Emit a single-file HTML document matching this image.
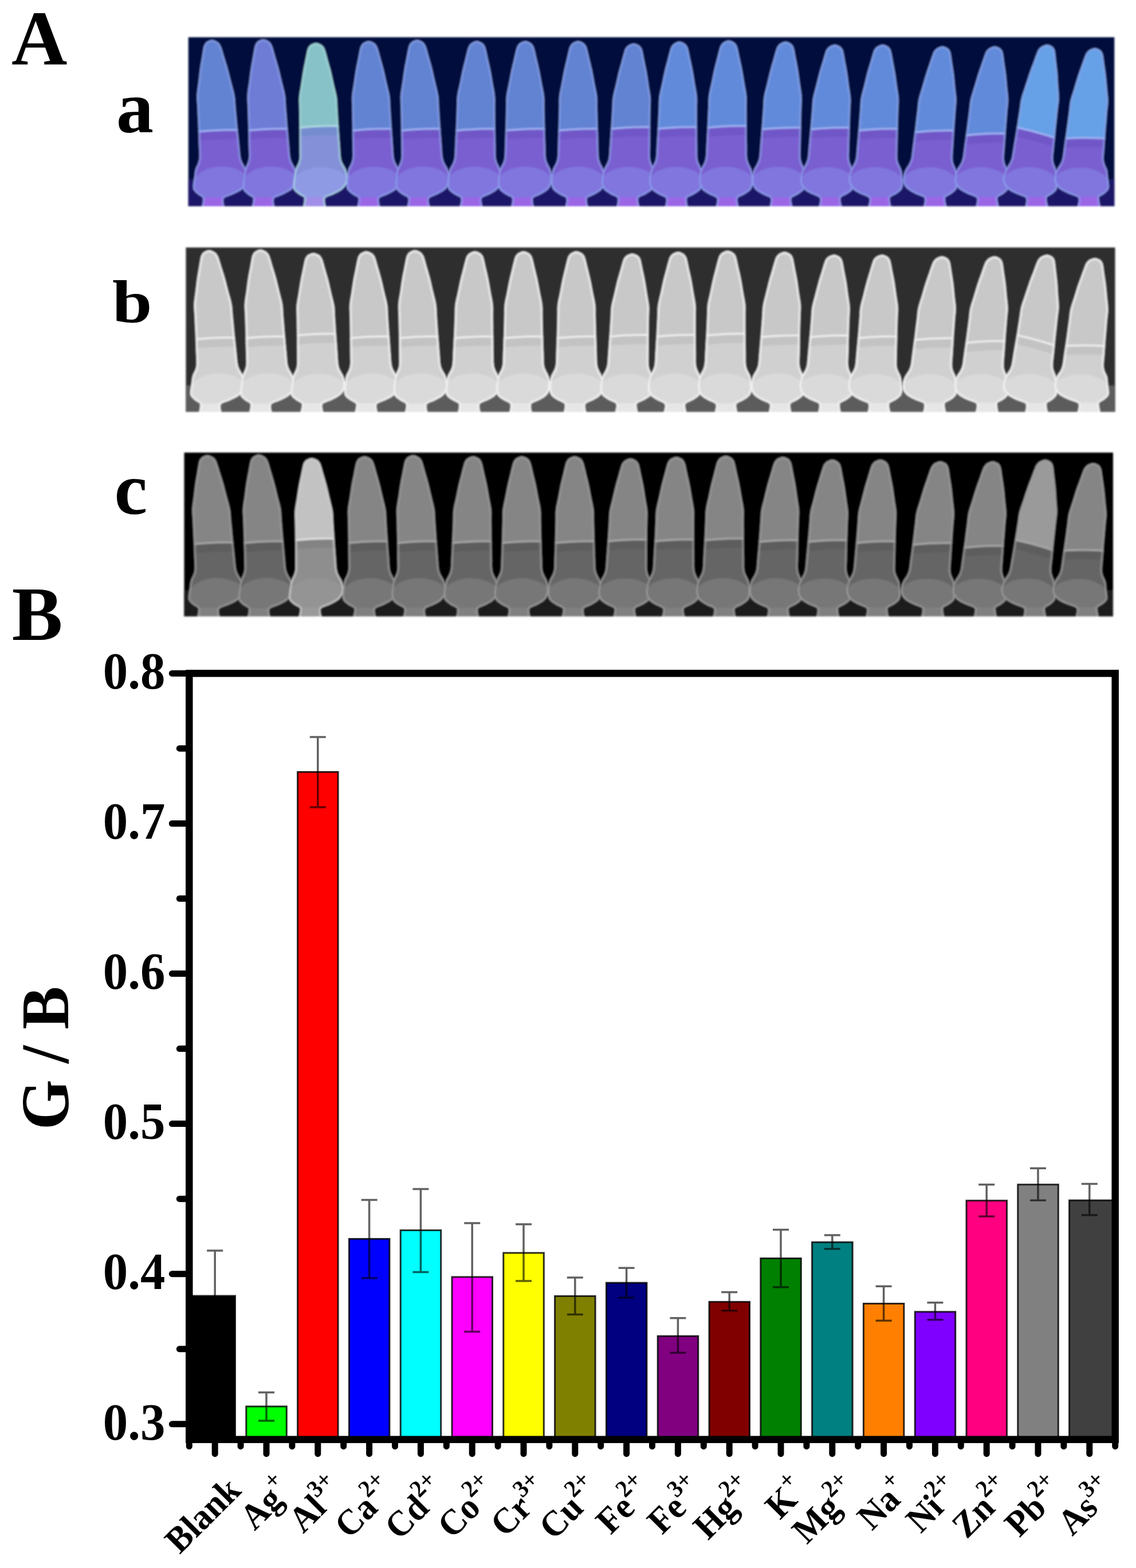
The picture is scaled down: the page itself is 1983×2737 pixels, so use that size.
<!DOCTYPE html>
<html><head><meta charset="utf-8"><title>Figure</title>
<style>
html,body{margin:0;padding:0;background:#fff;}
body{width:1983px;height:2737px;overflow:hidden;}
svg{display:block;}
text{font-family:"Liberation Serif","Times New Roman",serif;font-weight:bold;fill:#000;}
.pl{font-size:136px;}
.tl{font-size:91px;}
.yl{font-size:118px;}
.xl{font-size:63px;}
</style></head><body>
<svg width="1983" height="2737" viewBox="0 0 1983 2737">
<defs>
<filter id="soft" x="-2%" y="-2%" width="104%" height="104%"><feGaussianBlur stdDeviation="1.6"/></filter>
<clipPath id="clipa"><rect x="328.5" y="65" width="1617.0" height="295.0"/></clipPath>
<clipPath id="ta0"><path d="M369.9,70.1 C372.7,70.1 376.4,72.0 378.6,73.1 C380.8,74.3 381.7,75.5 382.9,77.2 C384.1,78.9 384.5,79.2 386.0,83.3 C387.5,87.5 389.8,95.9 391.7,102.1 C393.6,108.4 395.5,114.0 397.4,120.9 C399.3,127.9 401.3,136.2 403.2,143.8 C405.1,151.5 407.8,159.8 409.0,166.7 C410.3,173.6 410.2,179.2 410.7,185.4 C411.3,191.6 411.9,197.8 412.4,204.0 C413.0,210.2 413.6,216.7 414.1,222.7 C414.7,228.6 415.3,234.0 415.9,239.6 C416.4,245.3 417.0,250.9 417.6,256.6 C418.2,262.2 418.5,269.0 419.3,273.5 C420.1,278.1 420.9,280.0 422.5,283.7 C424.2,287.4 427.7,291.8 429.4,295.9 C431.1,300.0 432.5,304.1 432.7,308.1 C432.9,312.2 432.5,316.6 430.7,320.3 C428.9,324.1 425.8,327.4 421.9,330.5 C417.9,333.6 412.0,336.3 407.1,338.6 C402.1,341.0 395.0,342.7 392.0,344.7 C389.1,346.8 389.9,346.3 389.5,350.8 C389.1,355.4 395.3,368.6 389.5,372.2 C383.7,375.8 360.3,375.8 354.5,372.2 C348.7,368.6 354.6,355.4 354.5,350.8 C354.4,346.3 355.6,346.8 354.0,344.7 C352.5,342.7 347.8,341.0 345.1,338.6 C342.4,336.3 339.1,333.6 337.9,330.5 C336.6,327.4 337.4,324.1 337.7,320.3 C338.0,316.6 339.1,312.2 339.7,308.1 C340.3,304.1 340.2,300.0 341.4,295.9 C342.5,291.8 345.4,287.4 346.5,283.7 C347.7,280.0 348.1,278.1 348.3,273.5 C348.5,269.0 347.9,262.2 347.7,256.6 C347.5,250.9 347.3,245.3 347.1,239.6 C346.9,234.0 346.8,228.6 346.5,222.7 C346.3,216.7 346.0,210.2 345.7,204.0 C345.4,197.8 345.1,191.6 344.9,185.4 C344.6,179.2 343.7,173.6 344.0,166.7 C344.3,159.8 345.8,151.5 346.7,143.8 C347.6,136.2 348.4,127.9 349.4,120.9 C350.3,114.0 351.5,108.4 352.5,102.1 C353.5,95.9 354.7,87.5 355.6,83.3 C356.5,79.2 356.9,78.9 357.9,77.2 C358.9,75.5 359.6,74.3 361.6,73.1 C363.6,72.0 367.1,70.1 369.9,70.1 Z"/></clipPath>
<clipPath id="ta1"><path d="M459.4,69.1 C462.2,69.1 465.9,70.9 468.1,72.1 C470.2,73.3 471.1,74.5 472.3,76.2 C473.5,77.9 473.9,78.2 475.3,82.3 C476.7,86.5 478.9,94.9 480.7,101.2 C482.6,107.5 484.4,113.2 486.2,120.1 C488.0,127.1 489.8,135.5 491.7,143.1 C493.5,150.8 496.0,159.1 497.2,166.1 C498.3,173.0 498.1,178.6 498.6,184.8 C499.1,191.1 499.6,197.3 500.1,203.5 C500.5,209.8 501.0,216.3 501.5,222.3 C502.0,228.2 502.5,233.6 503.0,239.3 C503.5,245.0 504.0,250.6 504.5,256.3 C505.0,262.0 505.2,268.8 506.0,273.3 C506.7,277.9 507.4,279.8 509.0,283.6 C510.6,287.3 514.0,291.7 515.7,295.8 C517.3,299.9 518.6,304.0 518.8,308.1 C519.1,312.2 518.7,316.6 517.0,320.3 C515.3,324.1 512.4,327.5 508.6,330.5 C504.8,333.6 499.1,336.3 494.3,338.7 C489.4,341.1 482.5,342.8 479.6,344.8 C476.8,346.9 477.6,346.4 477.2,351.0 C476.8,355.5 483.0,368.7 477.2,372.3 C471.4,375.8 448.0,375.8 442.2,372.3 C436.4,368.7 442.3,355.5 442.2,351.0 C442.1,346.4 443.3,346.9 441.6,344.8 C440.0,342.8 435.1,341.1 432.3,338.7 C429.5,336.3 426.0,333.6 424.6,330.5 C423.3,327.5 423.8,324.1 424.0,320.3 C424.2,316.6 425.2,312.2 425.8,308.1 C426.5,304.0 426.5,299.9 427.7,295.8 C428.9,291.7 431.8,287.3 433.0,283.6 C434.2,279.8 434.7,277.9 435.0,273.3 C435.2,268.8 434.7,262.0 434.6,256.3 C434.5,250.6 434.4,245.0 434.3,239.3 C434.1,233.6 434.1,228.2 433.9,222.3 C433.7,216.3 433.5,209.8 433.3,203.5 C433.1,197.3 432.9,191.1 432.7,184.8 C432.5,178.6 431.8,173.0 432.2,166.1 C432.6,159.1 434.2,150.8 435.2,143.1 C436.2,135.5 437.1,127.1 438.2,120.1 C439.2,113.2 440.4,107.5 441.5,101.2 C442.7,94.9 444.0,86.5 444.9,82.3 C445.9,78.2 446.3,77.9 447.3,76.2 C448.3,74.5 449.1,73.3 451.1,72.1 C453.1,70.9 456.6,69.1 459.4,69.1 Z"/></clipPath>
<clipPath id="ta2"><path d="M551.5,75.2 C554.3,75.2 558.0,77.0 560.1,78.2 C562.2,79.3 563.1,80.5 564.3,82.1 C565.4,83.8 565.9,84.1 567.2,88.1 C568.5,92.2 570.6,100.4 572.3,106.6 C574.0,112.7 575.7,118.2 577.4,125.0 C579.0,131.8 580.7,140.0 582.4,147.4 C584.1,154.9 586.5,163.1 587.5,169.9 C588.5,176.6 588.2,182.0 588.6,188.1 C589.0,194.2 589.4,200.3 589.7,206.4 C590.1,212.5 590.4,218.9 590.8,224.7 C591.2,230.5 591.6,235.7 592.0,241.3 C592.4,246.8 592.8,252.4 593.2,257.9 C593.6,263.4 593.7,270.1 594.4,274.5 C595.0,278.9 595.7,280.8 597.2,284.5 C598.8,288.1 602.1,292.4 603.7,296.4 C605.2,300.4 606.4,304.4 606.6,308.4 C606.8,312.4 606.5,316.7 604.9,320.3 C603.3,324.0 600.6,327.3 597.0,330.3 C593.3,333.3 587.8,336.0 583.1,338.3 C578.4,340.6 571.5,342.3 568.8,344.3 C566.0,346.3 566.9,345.6 566.5,350.2 C566.1,354.9 572.3,368.3 566.5,372.0 C560.7,375.6 537.3,375.6 531.5,372.0 C525.7,368.3 531.6,354.9 531.5,350.2 C531.4,345.6 532.5,346.3 530.8,344.3 C529.0,342.3 524.0,340.6 521.1,338.3 C518.1,336.0 514.5,333.3 513.0,330.3 C511.4,327.3 511.8,324.0 511.9,320.3 C512.0,316.7 513.0,312.4 513.6,308.4 C514.3,304.4 514.4,300.4 515.7,296.4 C516.9,292.4 520.0,288.1 521.2,284.5 C522.5,280.8 523.0,278.9 523.4,274.5 C523.7,270.1 523.3,263.4 523.3,257.9 C523.3,252.4 523.3,246.8 523.3,241.3 C523.3,235.7 523.3,230.5 523.2,224.7 C523.2,218.9 523.1,212.5 523.0,206.4 C522.9,200.3 522.8,194.2 522.7,188.1 C522.7,182.0 522.0,176.6 522.5,169.9 C523.0,163.1 524.8,154.9 525.9,147.4 C527.1,140.0 528.2,131.8 529.4,125.0 C530.5,118.2 531.8,112.7 533.1,106.6 C534.3,100.4 535.8,92.2 536.8,88.1 C537.8,84.1 538.2,83.8 539.3,82.1 C540.3,80.5 541.1,79.3 543.1,78.2 C545.2,77.0 548.7,75.2 551.5,75.2 Z"/></clipPath>
<clipPath id="ta3"><path d="M643.5,72.1 C646.4,72.1 650.0,74.0 652.1,75.1 C654.3,76.3 655.1,77.5 656.3,79.2 C657.5,80.9 657.9,81.1 659.2,85.2 C660.6,89.4 662.7,97.7 664.4,103.9 C666.1,110.1 667.8,115.7 669.5,122.6 C671.2,129.5 672.9,137.7 674.6,145.3 C676.3,152.8 678.7,161.1 679.8,168.0 C680.8,174.8 680.5,180.3 680.9,186.5 C681.3,192.6 681.7,198.8 682.1,205.0 C682.5,211.1 682.8,217.6 683.2,223.5 C683.6,229.4 684.1,234.7 684.5,240.3 C684.9,245.9 685.3,251.5 685.7,257.1 C686.1,262.7 686.2,269.4 686.9,273.9 C687.6,278.4 688.2,280.3 689.8,284.0 C691.4,287.7 694.7,292.1 696.3,296.1 C697.9,300.2 699.0,304.2 699.3,308.2 C699.5,312.3 699.4,316.6 697.9,320.3 C696.5,324.0 694.0,327.4 690.6,330.4 C687.1,333.5 681.7,336.1 677.1,338.5 C672.6,340.9 665.9,342.5 663.2,344.6 C660.5,346.6 661.4,346.0 661.0,350.6 C660.7,355.2 666.9,368.5 661.0,372.1 C655.2,375.7 631.9,375.7 626.0,372.1 C620.2,368.5 626.2,355.2 626.0,350.6 C625.9,346.0 627.0,346.6 625.2,344.6 C623.4,342.5 618.2,340.9 615.1,338.5 C612.0,336.1 608.3,333.5 606.6,330.4 C604.9,327.4 605.0,324.0 604.9,320.3 C604.9,316.6 605.7,312.3 606.3,308.2 C606.8,304.2 607.0,300.2 608.3,296.1 C609.5,292.1 612.5,287.7 613.8,284.0 C615.1,280.3 615.6,278.4 615.9,273.9 C616.2,269.4 615.9,262.7 615.8,257.1 C615.8,251.5 615.8,245.9 615.7,240.3 C615.7,234.7 615.7,229.4 615.6,223.5 C615.6,217.6 615.4,211.1 615.3,205.0 C615.3,198.8 615.2,192.6 615.1,186.5 C615.0,180.3 614.3,174.8 614.8,168.0 C615.3,161.1 617.0,152.8 618.1,145.3 C619.3,137.7 620.3,129.5 621.5,122.6 C622.7,115.7 623.9,110.1 625.2,103.9 C626.4,97.7 627.8,89.4 628.8,85.2 C629.9,81.1 630.2,80.9 631.3,79.2 C632.3,77.5 633.1,76.3 635.1,75.1 C637.2,74.0 640.7,72.1 643.5,72.1 Z"/></clipPath>
<clipPath id="ta4"><path d="M728.0,70.1 C730.9,70.1 734.5,72.0 736.7,73.1 C738.8,74.3 739.6,75.5 740.8,77.2 C742.0,78.9 742.4,79.2 743.8,83.3 C745.1,87.5 747.2,95.9 749.0,102.1 C750.7,108.4 752.4,114.0 754.2,120.9 C755.9,127.9 757.6,136.2 759.4,143.8 C761.1,151.5 763.5,159.8 764.6,166.7 C765.7,173.6 765.4,179.2 765.8,185.4 C766.2,191.6 766.6,197.8 767.0,204.0 C767.4,210.2 767.8,216.7 768.2,222.7 C768.7,228.6 769.1,234.0 769.5,239.6 C769.9,245.3 770.4,250.9 770.8,256.6 C771.2,262.2 771.4,269.0 772.1,273.5 C772.8,278.1 773.4,280.0 775.0,283.7 C776.6,287.4 779.9,291.8 781.5,295.9 C783.1,300.0 784.2,304.1 784.5,308.1 C784.9,312.2 784.8,316.6 783.5,320.3 C782.2,324.1 780.1,327.4 776.7,330.5 C773.4,333.6 768.2,336.3 763.7,338.6 C759.3,341.0 752.7,342.7 750.1,344.7 C747.5,346.8 748.4,346.3 748.0,350.8 C747.7,355.4 753.9,368.6 748.0,372.2 C742.2,375.8 718.9,375.8 713.0,372.2 C707.2,368.6 713.2,355.4 713.0,350.8 C712.9,346.3 714.0,346.8 712.1,344.7 C710.2,342.7 704.9,341.0 701.7,338.6 C698.5,336.3 694.6,333.6 692.7,330.5 C690.9,327.4 690.7,324.1 690.5,320.3 C690.3,316.6 691.0,312.2 691.5,308.1 C692.0,304.1 692.3,300.0 693.5,295.9 C694.8,291.8 697.7,287.4 699.0,283.7 C700.3,280.0 700.8,278.1 701.1,273.5 C701.4,269.0 701.0,262.2 700.9,256.6 C700.9,250.9 700.8,245.3 700.8,239.6 C700.7,234.0 700.7,228.6 700.6,222.7 C700.6,216.7 700.4,210.2 700.3,204.0 C700.2,197.8 700.1,191.6 699.9,185.4 C699.8,179.2 699.1,173.6 699.6,166.7 C700.1,159.8 701.8,151.5 702.9,143.8 C704.0,136.2 705.0,127.9 706.2,120.9 C707.3,114.0 708.6,108.4 709.8,102.1 C711.0,95.9 712.4,87.5 713.4,83.3 C714.4,79.2 714.8,78.9 715.8,77.2 C716.9,75.5 717.6,74.3 719.7,73.1 C721.7,72.0 725.2,70.1 728.0,70.1 Z"/></clipPath>
<clipPath id="ta5"><path d="M832.5,72.1 C835.4,72.1 838.9,74.0 841.0,75.1 C843.0,76.3 843.8,77.5 844.9,79.2 C846.0,80.9 846.4,81.1 847.5,85.2 C848.6,89.4 850.3,97.7 851.6,103.9 C853.0,110.1 854.4,115.7 855.8,122.6 C857.1,129.5 858.4,137.7 859.7,145.3 C861.0,152.8 862.9,161.1 863.5,168.0 C864.2,174.8 863.6,180.3 863.7,186.5 C863.7,192.6 863.8,198.8 863.8,205.0 C863.9,211.1 863.9,217.6 864.0,223.5 C864.1,229.4 864.2,234.7 864.3,240.3 C864.4,245.9 864.5,251.5 864.6,257.1 C864.7,262.7 864.5,269.4 864.9,273.9 C865.4,278.4 865.9,280.3 867.3,284.0 C868.6,287.7 871.7,292.1 873.1,296.1 C874.4,300.2 875.2,304.2 875.4,308.2 C875.5,312.3 875.3,316.6 874.0,320.3 C872.7,324.0 870.7,327.4 867.5,330.4 C864.4,333.5 859.3,336.1 855.0,338.5 C850.7,340.9 844.4,342.5 841.9,344.6 C839.4,346.6 840.3,346.0 840.0,350.6 C839.7,355.2 845.9,368.5 840.0,372.1 C834.2,375.7 810.9,375.7 805.0,372.1 C799.2,368.5 805.2,355.2 805.0,350.6 C804.8,346.0 805.9,346.6 803.9,344.6 C801.9,342.5 796.4,340.9 793.0,338.5 C789.6,336.1 785.5,333.5 783.5,330.4 C781.5,327.4 781.2,324.0 781.0,320.3 C780.8,316.6 781.7,312.3 782.4,308.2 C783.1,304.2 783.6,300.2 785.1,296.1 C786.6,292.1 789.8,287.7 791.3,284.0 C792.7,280.3 793.3,278.4 793.9,273.9 C794.5,269.4 794.5,262.7 794.7,257.1 C795.0,251.5 795.3,245.9 795.6,240.3 C795.8,234.7 796.1,229.4 796.4,223.5 C796.7,217.6 796.9,211.1 797.1,205.0 C797.4,198.8 797.6,192.6 797.8,186.5 C798.1,180.3 797.7,174.8 798.5,168.0 C799.4,161.1 801.6,152.8 803.2,145.3 C804.7,137.7 806.2,129.5 807.8,122.6 C809.3,115.7 810.9,110.1 812.4,103.9 C814.0,97.7 815.9,89.4 817.1,85.2 C818.4,81.1 818.8,80.9 819.9,79.2 C821.1,77.5 821.9,76.3 824.0,75.1 C826.1,74.0 829.7,72.1 832.5,72.1 Z"/></clipPath>
<clipPath id="ta6"><path d="M917.1,72.1 C920.0,72.1 923.5,74.0 925.6,75.1 C927.7,76.3 928.5,77.5 929.6,79.2 C930.7,80.9 931.1,81.1 932.3,85.2 C933.5,89.4 935.2,97.7 936.7,103.9 C938.1,110.1 939.6,115.7 941.0,122.6 C942.4,129.5 943.8,137.7 945.2,145.3 C946.6,152.8 948.7,161.1 949.4,168.0 C950.2,174.8 949.7,180.3 949.8,186.5 C949.9,192.6 950.1,198.8 950.2,205.0 C950.3,211.1 950.4,217.6 950.6,223.5 C950.7,229.4 950.9,234.7 951.1,240.3 C951.3,245.9 951.5,251.5 951.6,257.1 C951.8,262.7 951.7,269.4 952.2,273.9 C952.7,278.4 953.2,280.3 954.7,284.0 C956.1,287.7 959.2,292.1 960.6,296.1 C962.0,300.2 962.8,304.2 963.1,308.2 C963.4,312.3 963.4,316.6 962.2,320.3 C961.1,324.0 959.3,327.4 956.3,330.4 C953.3,333.5 948.4,336.1 944.2,338.5 C940.1,340.9 933.8,342.5 931.4,344.6 C929.0,346.6 929.9,346.0 929.6,350.6 C929.3,355.2 935.5,368.5 929.6,372.1 C923.8,375.7 900.5,375.7 894.6,372.1 C888.8,368.5 894.8,355.2 894.6,350.6 C894.4,346.0 895.5,346.6 893.4,344.6 C891.3,342.5 885.7,340.9 882.2,338.5 C878.7,336.1 874.5,333.5 872.3,330.4 C870.2,327.4 869.6,324.0 869.2,320.3 C868.9,316.6 869.5,312.3 870.1,308.2 C870.7,304.2 871.2,300.2 872.6,296.1 C874.1,292.1 877.2,287.7 878.7,284.0 C880.1,280.3 880.7,278.4 881.2,273.9 C881.7,269.4 881.6,262.7 881.8,257.1 C882.0,251.5 882.2,245.9 882.4,240.3 C882.6,234.7 882.8,229.4 883.0,223.5 C883.2,217.6 883.3,211.1 883.5,205.0 C883.6,198.8 883.8,192.6 883.9,186.5 C884.1,180.3 883.6,174.8 884.4,168.0 C885.2,161.1 887.3,152.8 888.7,145.3 C890.2,137.7 891.6,129.5 893.0,122.6 C894.5,115.7 896.0,110.1 897.5,103.9 C898.9,97.7 900.7,89.4 901.9,85.2 C903.1,81.1 903.5,80.9 904.6,79.2 C905.7,77.5 906.5,76.3 908.6,75.1 C910.7,74.0 914.3,72.1 917.1,72.1 Z"/></clipPath>
<clipPath id="ta7"><path d="M1009.1,72.1 C1012.0,72.1 1015.6,74.0 1017.6,75.1 C1019.7,76.3 1020.5,77.5 1021.6,79.2 C1022.8,80.9 1023.2,81.1 1024.3,85.2 C1025.5,89.4 1027.3,97.7 1028.8,103.9 C1030.2,110.1 1031.7,115.7 1033.2,122.6 C1034.6,129.5 1036.0,137.7 1037.4,145.3 C1038.8,152.8 1040.9,161.1 1041.7,168.0 C1042.5,174.8 1042.0,180.3 1042.1,186.5 C1042.3,192.6 1042.4,198.8 1042.6,205.0 C1042.7,211.1 1042.8,217.6 1043.0,223.5 C1043.2,229.4 1043.4,234.7 1043.6,240.3 C1043.8,245.9 1044.0,251.5 1044.1,257.1 C1044.3,262.7 1044.2,269.4 1044.7,273.9 C1045.2,278.4 1045.8,280.3 1047.2,284.0 C1048.6,287.7 1051.8,292.1 1053.2,296.1 C1054.6,300.2 1055.4,304.2 1055.7,308.2 C1056.1,312.3 1056.2,316.6 1055.3,320.3 C1054.3,324.0 1052.8,327.4 1049.9,330.4 C1047.1,333.5 1042.3,336.1 1038.3,338.5 C1034.3,340.9 1028.2,342.5 1025.8,344.6 C1023.4,346.6 1024.4,346.0 1024.1,350.6 C1023.9,355.2 1030.0,368.5 1024.1,372.1 C1018.3,375.7 995.0,375.7 989.1,372.1 C983.3,368.5 989.4,355.2 989.1,350.6 C988.9,346.0 989.9,346.6 987.8,344.6 C985.7,342.5 979.9,340.9 976.3,338.5 C972.6,336.1 968.3,333.5 965.9,330.4 C963.6,327.4 962.8,324.0 962.3,320.3 C961.7,316.6 962.2,312.3 962.7,308.2 C963.2,304.2 963.8,300.2 965.2,296.1 C966.6,292.1 969.8,287.7 971.2,284.0 C972.6,280.3 973.2,278.4 973.7,273.9 C974.2,269.4 974.1,262.7 974.3,257.1 C974.5,251.5 974.7,245.9 974.8,240.3 C975.0,234.7 975.2,229.4 975.4,223.5 C975.6,217.6 975.7,211.1 975.8,205.0 C976.0,198.8 976.1,192.6 976.3,186.5 C976.4,180.3 975.9,174.8 976.7,168.0 C977.5,161.1 979.5,152.8 980.9,145.3 C982.3,137.7 983.7,129.5 985.2,122.6 C986.6,115.7 988.1,110.1 989.6,103.9 C991.0,97.7 992.8,89.4 993.9,85.2 C995.1,81.1 995.5,80.9 996.6,79.2 C997.8,77.5 998.6,76.3 1000.6,75.1 C1002.7,74.0 1006.3,72.1 1009.1,72.1 Z"/></clipPath>
<clipPath id="ta8"><path d="M1106.2,76.2 C1109.1,76.2 1112.6,78.0 1114.6,79.2 C1116.7,80.3 1117.4,81.5 1118.5,83.1 C1119.5,84.8 1119.9,85.0 1121.0,89.1 C1122.0,93.1 1123.4,101.3 1124.7,107.5 C1125.9,113.6 1127.2,119.0 1128.4,125.8 C1129.6,132.6 1130.7,140.7 1131.8,148.1 C1132.9,155.6 1134.7,163.7 1135.2,170.5 C1135.7,177.2 1135.0,182.6 1134.9,188.7 C1134.9,194.7 1134.8,200.8 1134.7,206.9 C1134.6,212.9 1134.5,219.3 1134.4,225.1 C1134.4,230.9 1134.4,236.1 1134.4,241.6 C1134.4,247.1 1134.4,252.6 1134.3,258.2 C1134.3,263.7 1133.9,270.3 1134.3,274.7 C1134.6,279.1 1135.1,281.0 1136.4,284.6 C1137.7,288.3 1140.7,292.6 1142.0,296.5 C1143.2,300.5 1143.8,304.5 1144.0,308.4 C1144.3,312.4 1144.3,316.7 1143.4,320.4 C1142.5,324.0 1141.2,327.3 1138.5,330.3 C1135.8,333.3 1131.2,335.9 1127.3,338.2 C1123.4,340.5 1117.5,342.2 1115.2,344.2 C1113.0,346.2 1114.0,345.5 1113.7,350.1 C1113.5,354.8 1119.6,368.3 1113.7,371.9 C1107.9,375.5 1084.6,375.5 1078.7,371.9 C1072.9,368.3 1079.0,354.8 1078.7,350.1 C1078.5,345.5 1079.5,346.2 1077.2,344.2 C1075.0,342.2 1069.1,340.5 1065.3,338.2 C1061.5,335.9 1056.9,333.3 1054.5,330.3 C1052.0,327.3 1051.0,324.0 1050.4,320.4 C1049.8,316.7 1050.4,312.4 1051.0,308.4 C1051.6,304.5 1052.4,300.5 1054.0,296.5 C1055.5,292.6 1058.9,288.3 1060.4,284.6 C1062.0,281.0 1062.6,279.1 1063.3,274.7 C1064.0,270.3 1064.1,263.7 1064.5,258.2 C1064.9,252.6 1065.3,247.1 1065.7,241.6 C1066.1,236.1 1066.5,230.9 1066.8,225.1 C1067.2,219.3 1067.6,212.9 1068.0,206.9 C1068.3,200.8 1068.7,194.7 1069.1,188.7 C1069.5,182.6 1069.2,177.2 1070.2,170.5 C1071.2,163.7 1073.6,155.6 1075.3,148.1 C1077.0,140.7 1078.7,132.6 1080.4,125.8 C1082.1,119.0 1083.8,113.6 1085.5,107.5 C1087.2,101.3 1089.2,93.1 1090.6,89.1 C1091.9,85.0 1092.3,84.8 1093.5,83.1 C1094.7,81.5 1095.5,80.3 1097.6,79.2 C1099.8,78.0 1103.4,76.2 1106.2,76.2 Z"/></clipPath>
<clipPath id="ta9"><path d="M1186.1,73.1 C1188.9,73.1 1192.4,75.0 1194.5,76.2 C1196.5,77.3 1197.3,78.5 1198.4,80.2 C1199.5,81.8 1199.9,82.1 1200.9,86.2 C1202.0,90.3 1203.6,98.6 1204.9,104.8 C1206.2,111.0 1207.6,116.5 1208.8,123.4 C1210.1,130.2 1211.3,138.5 1212.5,146.0 C1213.8,153.5 1215.6,161.8 1216.2,168.6 C1216.8,175.4 1216.2,180.9 1216.2,187.0 C1216.2,193.2 1216.2,199.3 1216.2,205.4 C1216.2,211.6 1216.2,218.0 1216.2,223.9 C1216.2,229.7 1216.3,235.0 1216.3,240.6 C1216.4,246.2 1216.4,251.8 1216.5,257.4 C1216.6,262.9 1216.3,269.6 1216.7,274.1 C1217.1,278.6 1217.6,280.5 1218.9,284.2 C1220.2,287.8 1223.3,292.2 1224.6,296.2 C1225.9,300.2 1226.5,304.3 1226.8,308.3 C1227.2,312.3 1227.4,316.7 1226.7,320.3 C1225.9,324.0 1224.8,327.4 1222.3,330.4 C1219.8,333.4 1215.3,336.1 1211.5,338.4 C1207.8,340.8 1202.0,342.4 1199.8,344.5 C1197.6,346.5 1198.6,345.9 1198.4,350.5 C1198.1,355.1 1204.2,368.5 1198.4,372.1 C1192.5,375.7 1169.2,375.7 1163.4,372.1 C1157.5,368.5 1163.6,355.1 1163.4,350.5 C1163.1,345.9 1164.1,346.5 1161.8,344.5 C1159.5,342.4 1153.4,340.8 1149.5,338.4 C1145.6,336.1 1141.0,333.4 1138.3,330.4 C1135.7,327.4 1134.4,324.0 1133.7,320.3 C1132.9,316.7 1133.3,312.3 1133.8,308.3 C1134.3,304.3 1135.1,300.2 1136.6,296.2 C1138.1,292.2 1141.4,287.8 1142.9,284.2 C1144.4,280.5 1145.0,278.6 1145.7,274.1 C1146.3,269.6 1146.3,262.9 1146.6,257.4 C1147.0,251.8 1147.3,246.2 1147.6,240.6 C1147.9,235.0 1148.3,229.7 1148.6,223.9 C1148.9,218.0 1149.2,211.6 1149.5,205.4 C1149.8,199.3 1150.1,193.2 1150.3,187.0 C1150.6,180.9 1150.3,175.4 1151.2,168.6 C1152.2,161.8 1154.4,153.5 1156.0,146.0 C1157.6,138.5 1159.2,130.2 1160.8,123.4 C1162.4,116.5 1164.1,111.0 1165.7,104.8 C1167.3,98.6 1169.3,90.3 1170.5,86.2 C1171.8,82.1 1172.2,81.8 1173.4,80.2 C1174.5,78.5 1175.4,77.3 1177.5,76.2 C1179.6,75.0 1183.2,73.1 1186.1,73.1 Z"/></clipPath>
<clipPath id="ta10"><path d="M1272.2,71.1 C1275.0,71.1 1278.5,73.0 1280.6,74.1 C1282.7,75.3 1283.4,76.5 1284.5,78.2 C1285.6,79.9 1286.0,80.1 1287.1,84.3 C1288.2,88.4 1289.8,96.8 1291.1,103.0 C1292.4,109.3 1293.8,114.8 1295.1,121.8 C1296.4,128.7 1297.6,137.0 1298.9,144.6 C1300.2,152.2 1302.0,160.5 1302.7,167.4 C1303.3,174.2 1302.7,179.7 1302.7,185.9 C1302.7,192.1 1302.8,198.3 1302.8,204.5 C1302.8,210.7 1302.8,217.2 1302.8,223.1 C1302.9,229.0 1303.0,234.3 1303.0,240.0 C1303.1,245.6 1303.2,251.2 1303.3,256.8 C1303.3,262.5 1303.1,269.2 1303.5,273.7 C1303.9,278.2 1304.4,280.1 1305.8,283.9 C1307.1,287.6 1310.2,292.0 1311.5,296.0 C1312.8,300.1 1313.4,304.1 1313.8,308.2 C1314.2,312.2 1314.6,316.6 1314.0,320.3 C1313.4,324.0 1312.5,327.4 1310.2,330.5 C1307.8,333.5 1303.5,336.2 1299.8,338.6 C1296.2,340.9 1290.5,342.6 1288.4,344.6 C1286.2,346.7 1287.3,346.1 1287.1,350.7 C1286.8,355.3 1292.9,368.6 1287.1,372.2 C1281.2,375.7 1257.9,375.7 1252.1,372.2 C1246.2,368.6 1252.3,355.3 1252.1,350.7 C1251.8,346.1 1252.7,346.7 1250.4,344.6 C1248.0,342.6 1241.9,340.9 1237.8,338.6 C1233.8,336.2 1229.0,333.5 1226.2,330.5 C1223.4,327.4 1221.9,324.0 1221.0,320.3 C1220.1,316.6 1220.3,312.2 1220.8,308.2 C1221.2,304.1 1222.0,300.1 1223.5,296.0 C1225.0,292.0 1228.3,287.6 1229.8,283.9 C1231.3,280.1 1231.9,278.2 1232.5,273.7 C1233.1,269.2 1233.1,262.5 1233.4,256.8 C1233.7,251.2 1234.0,245.6 1234.3,240.0 C1234.6,234.3 1234.9,229.0 1235.2,223.1 C1235.5,217.2 1235.8,210.7 1236.0,204.5 C1236.3,198.3 1236.6,192.1 1236.9,185.9 C1237.1,179.7 1236.7,174.2 1237.7,167.4 C1238.6,160.5 1240.8,152.2 1242.4,144.6 C1244.0,137.0 1245.5,128.7 1247.1,121.8 C1248.7,114.8 1250.3,109.3 1251.9,103.0 C1253.5,96.8 1255.4,88.4 1256.7,84.3 C1258.0,80.1 1258.4,79.9 1259.5,78.2 C1260.7,76.5 1261.5,75.3 1263.6,74.1 C1265.7,73.0 1269.3,71.1 1272.2,71.1 Z"/></clipPath>
<clipPath id="ta11"><path d="M1371.4,73.1 C1374.2,73.1 1377.7,75.0 1379.7,76.2 C1381.7,77.3 1382.5,78.5 1383.5,80.2 C1384.5,81.8 1384.9,82.1 1385.9,86.2 C1386.9,90.3 1388.2,98.6 1389.4,104.8 C1390.5,111.0 1391.8,116.5 1392.9,123.4 C1394.0,130.2 1394.9,138.5 1396.0,146.0 C1397.0,153.5 1398.7,161.8 1399.1,168.6 C1399.6,175.4 1398.8,180.9 1398.6,187.0 C1398.5,193.2 1398.3,199.3 1398.1,205.4 C1398.0,211.6 1397.8,218.0 1397.7,223.9 C1397.5,229.7 1397.5,235.0 1397.4,240.6 C1397.3,246.2 1397.2,251.8 1397.1,257.4 C1397.0,262.9 1396.6,269.6 1396.9,274.1 C1397.2,278.6 1397.6,280.5 1398.9,284.2 C1400.1,287.8 1403.0,292.2 1404.3,296.2 C1405.5,300.2 1405.8,304.3 1406.2,308.3 C1406.5,312.3 1406.9,316.7 1406.4,320.3 C1405.9,324.0 1405.2,327.4 1403.0,330.4 C1400.8,333.4 1396.6,336.1 1393.1,338.4 C1389.7,340.8 1384.1,342.4 1382.1,344.5 C1380.1,346.5 1381.2,345.9 1381.0,350.5 C1380.8,355.1 1386.8,368.5 1381.0,372.1 C1375.1,375.7 1351.8,375.7 1346.0,372.1 C1340.1,368.5 1346.3,355.1 1346.0,350.5 C1345.7,345.9 1346.6,346.5 1344.1,344.5 C1341.6,342.4 1335.3,340.8 1331.1,338.4 C1327.0,336.1 1322.0,333.4 1319.0,330.4 C1316.1,327.4 1314.4,324.0 1313.4,320.3 C1312.4,316.7 1312.7,312.3 1313.2,308.3 C1313.6,304.3 1314.6,300.2 1316.3,296.2 C1317.9,292.2 1321.3,287.8 1322.9,284.2 C1324.5,280.5 1325.1,278.6 1325.9,274.1 C1326.6,269.6 1326.8,262.9 1327.3,257.4 C1327.7,251.8 1328.2,246.2 1328.7,240.6 C1329.1,235.0 1329.6,229.7 1330.1,223.9 C1330.5,218.0 1331.0,211.6 1331.4,205.4 C1331.9,199.3 1332.3,193.2 1332.8,187.0 C1333.2,180.9 1333.0,175.4 1334.1,168.6 C1335.2,161.8 1337.7,153.5 1339.5,146.0 C1341.3,138.5 1343.1,130.2 1344.9,123.4 C1346.6,116.5 1348.4,111.0 1350.2,104.8 C1352.0,98.6 1354.1,90.3 1355.5,86.2 C1356.9,82.1 1357.3,81.8 1358.5,80.2 C1359.7,78.5 1360.6,77.3 1362.7,76.2 C1364.9,75.0 1368.5,73.1 1371.4,73.1 Z"/></clipPath>
<clipPath id="ta12"><path d="M1457.4,78.2 C1460.2,78.2 1463.7,80.0 1465.7,81.2 C1467.7,82.3 1468.5,83.5 1469.5,85.1 C1470.5,86.8 1470.9,87.0 1471.8,91.0 C1472.8,95.0 1474.1,103.2 1475.2,109.2 C1476.3,115.3 1477.5,120.7 1478.5,127.4 C1479.6,134.2 1480.5,142.2 1481.5,149.6 C1482.5,157.0 1484.1,165.0 1484.5,171.7 C1484.9,178.4 1484.1,183.8 1483.9,189.8 C1483.7,195.8 1483.5,201.8 1483.3,207.8 C1483.0,213.8 1482.8,220.1 1482.6,225.9 C1482.5,231.6 1482.4,236.8 1482.3,242.3 C1482.1,247.7 1482.0,253.2 1481.9,258.7 C1481.8,264.1 1481.2,270.7 1481.5,275.1 C1481.8,279.5 1482.2,281.3 1483.4,284.9 C1484.6,288.5 1487.6,292.8 1488.7,296.7 C1489.9,300.7 1490.2,304.6 1490.6,308.5 C1490.9,312.5 1491.4,316.8 1491.0,320.4 C1490.6,324.0 1490.2,327.3 1488.1,330.2 C1486.1,333.2 1482.0,335.8 1478.7,338.1 C1475.3,340.4 1470.0,342.0 1468.0,344.0 C1466.1,346.0 1467.1,345.3 1467.0,349.9 C1466.8,354.5 1472.8,368.2 1467.0,371.8 C1461.1,375.5 1437.8,375.5 1432.0,371.8 C1426.1,368.2 1432.3,354.5 1432.0,349.9 C1431.6,345.3 1432.6,346.0 1430.0,344.0 C1427.5,342.0 1421.0,340.4 1416.7,338.1 C1412.4,335.8 1407.3,333.2 1404.1,330.2 C1401.0,327.3 1399.1,324.0 1398.0,320.4 C1396.9,316.8 1397.1,312.5 1397.6,308.5 C1398.0,304.6 1399.1,300.7 1400.7,296.7 C1402.4,292.8 1405.8,288.5 1407.4,284.9 C1409.1,281.3 1409.7,279.5 1410.5,275.1 C1411.3,270.7 1411.5,264.1 1412.0,258.7 C1412.5,253.2 1413.0,247.7 1413.5,242.3 C1414.0,236.8 1414.5,231.6 1415.0,225.9 C1415.5,220.1 1416.0,213.8 1416.5,207.8 C1417.0,201.8 1417.5,195.8 1418.0,189.8 C1418.5,183.8 1418.3,178.4 1419.5,171.7 C1420.6,165.0 1423.2,157.0 1425.0,149.6 C1426.8,142.2 1428.7,134.2 1430.5,127.4 C1432.4,120.7 1434.2,115.3 1436.0,109.2 C1437.8,103.2 1440.0,95.0 1441.4,91.0 C1442.8,87.0 1443.3,86.8 1444.5,85.1 C1445.7,83.5 1446.6,82.3 1448.7,81.2 C1450.8,80.0 1454.5,78.2 1457.4,78.2 Z"/></clipPath>
<clipPath id="ta13"><path d="M1540.9,78.2 C1543.7,78.2 1547.2,80.0 1549.2,81.2 C1551.2,82.3 1552.0,83.5 1553.0,85.1 C1554.0,86.8 1554.4,87.0 1555.4,91.0 C1556.4,95.0 1557.7,103.2 1558.8,109.2 C1559.9,115.3 1561.1,120.7 1562.2,127.4 C1563.3,134.2 1564.3,142.2 1565.3,149.6 C1566.3,157.0 1567.9,165.0 1568.3,171.7 C1568.8,178.4 1568.0,183.8 1567.8,189.8 C1567.6,195.8 1567.4,201.8 1567.3,207.8 C1567.1,213.8 1566.9,220.1 1566.7,225.9 C1566.6,231.6 1566.5,236.8 1566.4,242.3 C1566.3,247.7 1566.2,253.2 1566.1,258.7 C1566.0,264.1 1565.5,270.7 1565.8,275.1 C1566.0,279.5 1566.5,281.3 1567.7,284.9 C1569.0,288.5 1571.9,292.8 1573.1,296.7 C1574.3,300.7 1574.5,304.6 1575.0,308.5 C1575.4,312.5 1576.0,316.8 1575.8,320.4 C1575.5,324.0 1575.3,327.3 1573.4,330.2 C1571.5,333.2 1567.6,335.8 1564.4,338.1 C1561.2,340.4 1555.9,342.0 1554.0,344.0 C1552.1,346.0 1553.2,345.3 1553.1,349.9 C1552.9,354.5 1558.9,368.2 1553.1,371.8 C1547.2,375.5 1523.9,375.5 1518.1,371.8 C1512.2,368.2 1518.4,354.5 1518.1,349.9 C1517.7,345.3 1518.6,346.0 1516.0,344.0 C1513.4,342.0 1506.8,340.4 1502.4,338.1 C1498.0,335.8 1492.7,333.2 1489.4,330.2 C1486.2,327.3 1484.0,324.0 1482.8,320.4 C1481.5,316.8 1481.6,312.5 1482.0,308.5 C1482.3,304.6 1483.5,300.7 1485.1,296.7 C1486.7,292.8 1490.1,288.5 1491.7,284.9 C1493.3,281.3 1494.0,279.5 1494.8,275.1 C1495.5,270.7 1495.7,264.1 1496.2,258.7 C1496.7,253.2 1497.2,247.7 1497.7,242.3 C1498.1,236.8 1498.6,231.6 1499.1,225.9 C1499.6,220.1 1500.1,213.8 1500.5,207.8 C1501.0,201.8 1501.5,195.8 1501.9,189.8 C1502.4,183.8 1502.2,178.4 1503.3,171.7 C1504.5,165.0 1507.0,157.0 1508.8,149.6 C1510.6,142.2 1512.4,134.2 1514.2,127.4 C1516.0,120.7 1517.8,115.3 1519.6,109.2 C1521.4,103.2 1523.6,95.0 1525.0,91.0 C1526.4,87.0 1526.8,86.8 1528.0,85.1 C1529.2,83.5 1530.1,82.3 1532.2,81.2 C1534.4,80.0 1538.0,78.2 1540.9,78.2 Z"/></clipPath>
<clipPath id="ta14"><path d="M1645.3,81.3 C1648.1,81.3 1651.5,83.1 1653.5,84.2 C1655.5,85.3 1656.2,86.5 1657.1,88.1 C1658.1,89.7 1658.5,89.9 1659.3,93.9 C1660.1,97.9 1661.1,105.9 1662.0,111.9 C1662.9,117.9 1663.8,123.2 1664.7,129.9 C1665.5,136.5 1666.1,144.5 1666.8,151.7 C1667.5,159.0 1668.8,167.0 1669.0,173.6 C1669.1,180.2 1668.1,185.5 1667.7,191.4 C1667.3,197.4 1666.9,203.3 1666.5,209.2 C1666.0,215.2 1665.6,221.4 1665.2,227.1 C1664.8,232.7 1664.5,237.9 1664.2,243.3 C1663.9,248.7 1663.6,254.1 1663.2,259.5 C1662.9,264.9 1662.2,271.3 1662.3,275.7 C1662.4,280.0 1662.8,281.8 1663.8,285.4 C1664.9,288.9 1667.7,293.2 1668.7,297.0 C1669.8,300.9 1669.8,304.8 1670.1,308.7 C1670.5,312.6 1671.0,316.8 1670.8,320.4 C1670.6,323.9 1670.6,327.2 1668.9,330.1 C1667.1,333.0 1663.4,335.6 1660.3,337.9 C1657.3,340.1 1652.2,341.8 1650.4,343.7 C1648.7,345.6 1649.8,344.9 1649.7,349.5 C1649.6,354.2 1655.5,368.0 1649.7,371.7 C1643.8,375.4 1620.5,375.4 1614.7,371.7 C1608.8,368.0 1615.1,354.2 1614.7,349.5 C1614.3,344.9 1615.2,345.6 1612.4,343.7 C1609.7,341.8 1602.9,340.1 1598.3,337.9 C1593.8,335.6 1588.3,333.0 1584.9,330.1 C1581.5,327.2 1579.1,323.9 1577.8,320.4 C1576.5,316.8 1576.6,312.6 1577.1,308.7 C1577.6,304.8 1578.9,300.9 1580.7,297.0 C1582.5,293.2 1586.1,288.9 1587.8,285.4 C1589.6,281.8 1590.3,280.0 1591.3,275.7 C1592.2,271.3 1592.7,264.9 1593.4,259.5 C1594.1,254.1 1594.8,248.7 1595.5,243.3 C1596.2,237.9 1596.9,232.7 1597.6,227.1 C1598.3,221.4 1599.0,215.2 1599.7,209.2 C1600.4,203.3 1601.1,197.4 1601.9,191.4 C1602.6,185.5 1602.6,180.2 1604.0,173.6 C1605.4,167.0 1608.2,159.0 1610.3,151.7 C1612.4,144.5 1614.6,136.5 1616.7,129.9 C1618.7,123.2 1620.7,117.9 1622.8,111.9 C1624.8,105.9 1627.3,97.9 1628.9,93.9 C1630.4,89.9 1630.9,89.7 1632.1,88.1 C1633.4,86.5 1634.3,85.3 1636.5,84.2 C1638.7,83.1 1642.4,81.3 1645.3,81.3 Z"/></clipPath>
<clipPath id="ta15"><path d="M1736.6,81.3 C1739.4,81.3 1742.8,83.1 1744.8,84.2 C1746.8,85.3 1747.4,86.5 1748.4,88.1 C1749.3,89.7 1749.7,89.9 1750.5,93.9 C1751.3,97.9 1752.2,105.9 1753.0,111.9 C1753.9,117.9 1754.8,123.2 1755.6,129.9 C1756.4,136.5 1756.9,144.5 1757.6,151.7 C1758.3,159.0 1759.5,167.0 1759.6,173.6 C1759.7,180.2 1758.7,185.5 1758.2,191.4 C1757.7,197.4 1757.3,203.3 1756.8,209.2 C1756.3,215.2 1755.8,221.4 1755.4,227.1 C1755.0,232.7 1754.7,237.9 1754.3,243.3 C1753.9,248.7 1753.6,254.1 1753.2,259.5 C1752.8,264.9 1752.0,271.3 1752.1,275.7 C1752.2,280.0 1752.6,281.8 1753.6,285.4 C1754.7,288.9 1757.4,293.2 1758.4,297.0 C1759.4,300.9 1759.3,304.8 1759.7,308.7 C1760.1,312.6 1760.7,316.8 1760.7,320.4 C1760.6,323.9 1760.8,327.2 1759.3,330.1 C1757.7,333.0 1754.1,335.6 1751.2,337.9 C1748.2,340.1 1743.3,341.8 1741.6,343.7 C1739.9,345.6 1741.1,344.9 1741.0,349.5 C1740.9,354.2 1746.8,368.0 1741.0,371.7 C1735.2,375.4 1711.8,375.4 1706.0,371.7 C1700.2,368.0 1706.4,354.2 1706.0,349.5 C1705.6,344.9 1706.4,345.6 1703.6,343.7 C1700.8,341.8 1693.9,340.1 1689.2,337.9 C1684.4,335.6 1678.8,333.0 1675.3,330.1 C1671.7,327.2 1669.1,323.9 1667.7,320.4 C1666.2,316.8 1666.3,312.6 1666.7,308.7 C1667.2,304.8 1668.6,300.9 1670.4,297.0 C1672.2,293.2 1675.8,288.9 1677.6,285.4 C1679.4,281.8 1680.2,280.0 1681.1,275.7 C1682.1,271.3 1682.6,264.9 1683.3,259.5 C1684.1,254.1 1684.8,248.7 1685.6,243.3 C1686.3,237.9 1687.1,232.7 1687.8,227.1 C1688.6,221.4 1689.3,215.2 1690.1,209.2 C1690.8,203.3 1691.6,197.4 1692.3,191.4 C1693.1,185.5 1693.1,180.2 1694.6,173.6 C1696.1,167.0 1698.9,159.0 1701.1,151.7 C1703.3,144.5 1705.5,136.5 1707.6,129.9 C1709.7,123.2 1711.8,117.9 1713.8,111.9 C1715.9,105.9 1718.5,97.9 1720.1,93.9 C1721.7,89.9 1722.1,89.7 1723.4,88.1 C1724.7,86.5 1725.6,85.3 1727.8,84.2 C1730.0,83.1 1733.8,81.3 1736.6,81.3 Z"/></clipPath>
<clipPath id="ta16"><path d="M1827.9,78.2 C1830.7,78.2 1834.1,80.0 1836.0,81.2 C1837.9,82.3 1838.6,83.5 1839.5,85.1 C1840.4,86.8 1840.8,87.0 1841.4,91.0 C1842.1,95.0 1842.8,103.2 1843.5,109.2 C1844.1,115.3 1844.9,120.7 1845.5,127.4 C1846.0,134.2 1846.4,142.2 1846.8,149.6 C1847.3,157.0 1848.3,165.0 1848.2,171.7 C1848.1,178.4 1846.9,183.8 1846.3,189.8 C1845.6,195.8 1845.0,201.8 1844.4,207.8 C1843.7,213.8 1843.0,220.1 1842.4,225.9 C1841.9,231.6 1841.4,236.8 1840.9,242.3 C1840.3,247.7 1839.8,253.2 1839.3,258.7 C1838.8,264.1 1837.8,270.7 1837.7,275.1 C1837.7,279.5 1838.0,281.3 1838.9,284.9 C1839.9,288.5 1842.5,292.8 1843.4,296.7 C1844.3,300.7 1844.0,304.6 1844.4,308.5 C1844.7,312.5 1845.3,316.8 1845.3,320.4 C1845.3,324.0 1845.7,327.3 1844.3,330.2 C1842.8,333.2 1839.4,335.8 1836.6,338.1 C1833.8,340.4 1829.1,342.0 1827.5,344.0 C1825.9,346.0 1827.1,345.3 1827.0,349.9 C1826.9,354.5 1832.8,368.2 1827.0,371.8 C1821.2,375.5 1797.8,375.5 1792.0,371.8 C1786.2,368.2 1792.4,354.5 1792.0,349.9 C1791.6,345.3 1792.4,346.0 1789.5,344.0 C1786.6,342.0 1779.5,340.4 1774.6,338.1 C1769.8,335.8 1764.0,333.2 1760.3,330.2 C1756.5,327.3 1753.8,324.0 1752.3,320.4 C1750.8,316.8 1750.8,312.5 1751.4,308.5 C1751.9,304.6 1753.5,300.7 1755.4,296.7 C1757.3,292.8 1761.1,288.5 1762.9,284.9 C1764.8,281.3 1765.6,279.5 1766.7,275.1 C1767.8,270.7 1768.5,264.1 1769.4,258.7 C1770.3,253.2 1771.2,247.7 1772.1,242.3 C1773.0,236.8 1773.9,231.6 1774.8,225.9 C1775.8,220.1 1776.7,213.8 1777.6,207.8 C1778.6,201.8 1779.5,195.8 1780.4,189.8 C1781.3,183.8 1781.5,178.4 1783.2,171.7 C1784.9,165.0 1788.0,157.0 1790.3,149.6 C1792.7,142.2 1795.2,134.2 1797.5,127.4 C1799.8,120.7 1802.0,115.3 1804.3,109.2 C1806.5,103.2 1809.3,95.0 1811.0,91.0 C1812.7,87.0 1813.2,86.8 1814.5,85.1 C1815.8,83.5 1816.8,82.3 1819.0,81.2 C1821.2,80.0 1825.1,78.2 1827.9,78.2 Z"/></clipPath>
<clipPath id="ta17"><path d="M1911.3,84.3 C1914.1,84.3 1917.5,86.1 1919.5,87.2 C1921.5,88.3 1922.1,89.4 1923.1,91.0 C1924.0,92.6 1924.4,92.9 1925.2,96.8 C1925.9,100.7 1926.8,108.6 1927.6,114.6 C1928.5,120.5 1929.4,125.7 1930.1,132.3 C1930.9,138.9 1931.4,146.7 1932.1,153.9 C1932.7,161.1 1933.9,169.0 1934.0,175.5 C1934.1,182.0 1933.0,187.2 1932.5,193.1 C1932.0,198.9 1931.5,204.8 1931.1,210.7 C1930.6,216.5 1930.0,222.7 1929.6,228.3 C1929.2,233.9 1928.8,238.9 1928.4,244.3 C1928.1,249.6 1927.7,254.9 1927.3,260.3 C1926.9,265.6 1926.1,272.0 1926.1,276.2 C1926.2,280.5 1926.6,282.3 1927.6,285.8 C1928.6,289.4 1931.4,293.5 1932.4,297.4 C1933.4,301.2 1933.1,305.0 1933.6,308.9 C1934.1,312.7 1935.0,316.9 1935.2,320.4 C1935.4,323.9 1936.1,327.1 1934.8,330.0 C1933.6,332.9 1930.3,335.4 1927.6,337.7 C1924.9,339.9 1920.3,341.5 1918.7,343.4 C1917.2,345.3 1918.4,344.5 1918.3,349.2 C1918.2,353.9 1924.1,367.8 1918.3,371.5 C1912.5,375.2 1889.1,375.2 1883.3,371.5 C1877.5,367.8 1883.7,353.9 1883.3,349.2 C1882.9,344.5 1883.7,345.3 1880.7,343.4 C1877.8,341.5 1870.6,339.9 1865.6,337.7 C1860.6,335.4 1854.7,332.9 1850.8,330.0 C1846.9,327.1 1843.9,323.9 1842.2,320.4 C1840.5,316.9 1840.3,312.7 1840.6,308.9 C1841.0,305.0 1842.5,301.2 1844.4,297.4 C1846.2,293.5 1849.8,289.4 1851.6,285.8 C1853.4,282.3 1854.2,280.5 1855.1,276.2 C1856.1,272.0 1856.7,265.6 1857.4,260.3 C1858.2,254.9 1858.9,249.6 1859.7,244.3 C1860.5,238.9 1861.2,233.9 1862.0,228.3 C1862.8,222.7 1863.5,216.5 1864.3,210.7 C1865.1,204.8 1865.9,198.9 1866.7,193.1 C1867.4,187.2 1867.5,182.0 1869.0,175.5 C1870.5,169.0 1873.4,161.1 1875.6,153.9 C1877.7,146.7 1880.0,138.9 1882.1,132.3 C1884.3,125.7 1886.3,120.5 1888.4,114.6 C1890.5,108.6 1893.2,100.7 1894.8,96.8 C1896.4,92.9 1896.8,92.6 1898.1,91.0 C1899.4,89.4 1900.3,88.3 1902.5,87.2 C1904.7,86.1 1908.5,84.3 1911.3,84.3 Z"/></clipPath>
<clipPath id="clipb"><rect x="324.5" y="432" width="1622.0" height="287.0"/></clipPath>
<clipPath id="tb0"><path d="M364.9,436.9 C367.7,436.9 371.4,438.8 373.6,439.9 C375.8,441.1 376.7,442.2 377.9,443.9 C379.1,445.5 379.5,445.8 381.0,449.8 C382.5,453.9 384.8,462.0 386.7,468.1 C388.6,474.2 390.5,479.7 392.4,486.4 C394.3,493.2 396.3,501.3 398.2,508.7 C400.2,516.1 402.8,524.2 404.0,531.0 C405.3,537.7 405.2,543.1 405.7,549.1 C406.3,555.2 406.9,561.2 407.5,567.3 C408.0,573.3 408.6,579.6 409.2,585.4 C409.7,591.2 410.3,596.4 410.9,601.9 C411.5,607.4 412.1,612.9 412.6,618.4 C413.2,623.9 413.5,630.5 414.4,634.9 C415.2,639.3 415.9,641.1 417.6,644.8 C419.2,648.4 422.7,652.7 424.4,656.7 C426.1,660.6 427.5,664.6 427.7,668.5 C428.0,672.5 427.6,676.8 425.7,680.4 C423.9,684.0 420.8,687.3 416.9,690.3 C412.9,693.3 407.1,695.9 402.1,698.2 C397.1,700.5 390.0,702.2 387.0,704.2 C384.1,706.1 384.9,705.6 384.5,710.1 C384.1,714.5 390.3,727.4 384.5,730.9 C378.7,734.3 355.3,734.3 349.5,730.9 C343.7,727.4 349.6,714.5 349.5,710.1 C349.4,705.6 350.6,706.1 349.0,704.2 C347.5,702.2 342.8,700.5 340.1,698.2 C337.4,695.9 334.1,693.3 332.9,690.3 C331.7,687.3 332.4,684.0 332.7,680.4 C333.1,676.8 334.1,672.5 334.7,668.5 C335.3,664.6 335.3,660.6 336.4,656.7 C337.5,652.7 340.4,648.4 341.6,644.8 C342.7,641.1 343.2,639.3 343.4,634.9 C343.6,630.5 343.0,623.9 342.8,618.4 C342.6,612.9 342.4,607.4 342.2,601.9 C342.0,596.4 341.8,591.2 341.6,585.4 C341.3,579.6 341.0,573.3 340.7,567.3 C340.4,561.2 340.2,555.2 339.9,549.1 C339.6,543.1 338.7,537.7 339.0,531.0 C339.3,524.2 340.8,516.1 341.7,508.7 C342.6,501.3 343.4,493.2 344.4,486.4 C345.4,479.7 346.5,474.2 347.5,468.1 C348.5,462.0 349.7,453.9 350.6,449.8 C351.5,445.8 351.9,445.5 352.9,443.9 C353.9,442.2 354.6,441.1 356.6,439.9 C358.6,438.8 362.1,436.9 364.9,436.9 Z"/></clipPath>
<clipPath id="tb1"><path d="M454.7,436.0 C457.5,436.0 461.2,437.8 463.4,438.9 C465.5,440.1 466.4,441.3 467.6,442.9 C468.8,444.6 469.2,444.8 470.6,448.9 C472.0,452.9 474.2,461.1 476.1,467.3 C477.9,473.4 479.7,478.9 481.5,485.6 C483.3,492.4 485.2,500.5 487.0,508.0 C488.8,515.5 491.3,523.6 492.5,530.4 C493.7,537.1 493.5,542.5 493.9,548.6 C494.4,554.6 494.9,560.7 495.4,566.8 C495.9,572.9 496.4,579.2 496.9,585.0 C497.3,590.8 497.9,596.0 498.3,601.6 C498.8,607.1 499.3,612.6 499.8,618.1 C500.3,623.7 500.6,630.3 501.3,634.7 C502.1,639.1 502.8,641.0 504.4,644.6 C506.0,648.3 509.4,652.6 511.1,656.6 C512.7,660.5 514.0,664.5 514.2,668.5 C514.5,672.5 514.1,676.8 512.4,680.4 C510.7,684.0 507.8,687.4 504.0,690.3 C500.2,693.3 494.4,696.0 489.6,698.3 C484.8,700.6 477.8,702.3 474.9,704.2 C472.1,706.2 472.9,705.8 472.5,710.2 C472.1,714.7 478.3,727.5 472.5,730.9 C466.7,734.4 443.3,734.4 437.5,730.9 C431.7,727.5 437.6,714.7 437.5,710.2 C437.4,705.8 438.6,706.2 436.9,704.2 C435.3,702.3 430.4,700.6 427.6,698.3 C424.8,696.0 421.3,693.3 420.0,690.3 C418.6,687.4 419.2,684.0 419.4,680.4 C419.6,676.8 420.6,672.5 421.2,668.5 C421.8,664.5 421.9,660.5 423.1,656.6 C424.3,652.6 427.2,648.3 428.4,644.6 C429.6,641.0 430.1,639.1 430.3,634.7 C430.6,630.3 430.1,623.7 430.0,618.1 C429.9,612.6 429.7,607.1 429.6,601.6 C429.5,596.0 429.4,590.8 429.3,585.0 C429.1,579.2 428.9,572.9 428.7,566.8 C428.5,560.7 428.3,554.6 428.1,548.6 C427.9,542.5 427.1,537.1 427.5,530.4 C427.9,523.6 429.5,515.5 430.5,508.0 C431.5,500.5 432.4,492.4 433.5,485.6 C434.5,478.9 435.7,473.4 436.9,467.3 C438.0,461.1 439.3,452.9 440.2,448.9 C441.2,444.8 441.6,444.6 442.6,442.9 C443.6,441.3 444.3,440.1 446.4,438.9 C448.4,437.8 451.9,436.0 454.7,436.0 Z"/></clipPath>
<clipPath id="tb2"><path d="M547.1,441.9 C549.9,441.9 553.6,443.7 555.7,444.8 C557.8,445.9 558.7,447.1 559.9,448.7 C561.0,450.3 561.4,450.5 562.8,454.5 C564.1,458.5 566.2,466.5 567.9,472.4 C569.6,478.4 571.3,483.8 573.0,490.4 C574.7,497.0 576.3,504.9 578.0,512.2 C579.7,519.5 582.1,527.4 583.1,534.0 C584.2,540.6 583.9,545.9 584.2,551.8 C584.6,557.7 585.0,563.6 585.4,569.6 C585.7,575.5 586.1,581.7 586.5,587.3 C586.9,593.0 587.3,598.1 587.7,603.5 C588.1,608.9 588.4,614.3 588.8,619.7 C589.2,625.0 589.4,631.5 590.0,635.8 C590.7,640.1 591.3,642.0 592.9,645.5 C594.5,649.1 597.8,653.3 599.3,657.2 C600.9,661.0 602.1,664.9 602.3,668.8 C602.5,672.7 602.2,676.9 600.6,680.4 C598.9,684.0 596.2,687.2 592.6,690.1 C589.0,693.0 583.4,695.6 578.7,697.9 C574.0,700.1 567.1,701.8 564.4,703.7 C561.6,705.6 562.5,705.0 562.1,709.5 C561.7,714.0 567.9,727.1 562.1,730.6 C556.3,734.2 532.9,734.2 527.1,730.6 C521.3,727.1 527.2,714.0 527.1,709.5 C527.0,705.0 528.1,705.6 526.4,703.7 C524.6,701.8 519.6,700.1 516.7,697.9 C513.7,695.6 510.1,693.0 508.6,690.1 C507.1,687.2 507.4,684.0 507.6,680.4 C507.7,676.9 508.7,672.7 509.3,668.8 C509.9,664.9 510.1,661.0 511.3,657.2 C512.6,653.3 515.6,649.1 516.9,645.5 C518.2,642.0 518.7,640.1 519.0,635.8 C519.4,631.5 519.0,625.0 519.0,619.7 C519.0,614.3 518.9,608.9 518.9,603.5 C518.9,598.1 518.9,593.0 518.9,587.3 C518.8,581.7 518.7,575.5 518.6,569.6 C518.5,563.6 518.5,557.7 518.4,551.8 C518.3,545.9 517.6,540.6 518.1,534.0 C518.7,527.4 520.4,519.5 521.5,512.2 C522.7,504.9 523.8,497.0 525.0,490.4 C526.1,483.8 527.4,478.4 528.7,472.4 C529.9,466.5 531.4,458.5 532.4,454.5 C533.4,450.5 533.8,450.3 534.9,448.7 C535.9,447.1 536.7,445.9 538.7,444.8 C540.8,443.7 544.3,441.9 547.1,441.9 Z"/></clipPath>
<clipPath id="tb3"><path d="M639.4,438.9 C642.2,438.9 645.9,440.7 648.0,441.9 C650.1,443.0 651.0,444.2 652.2,445.8 C653.4,447.4 653.8,447.7 655.1,451.7 C656.5,455.7 658.5,463.8 660.3,469.8 C662.0,475.9 663.7,481.3 665.4,488.0 C667.1,494.7 668.8,502.7 670.5,510.1 C672.3,517.5 674.6,525.5 675.7,532.2 C676.7,538.9 676.5,544.2 676.8,550.2 C677.2,556.2 677.6,562.2 678.0,568.2 C678.4,574.2 678.8,580.4 679.2,586.2 C679.6,591.9 680.0,597.1 680.4,602.5 C680.8,608.0 681.2,613.4 681.6,618.9 C682.0,624.3 682.2,630.9 682.9,635.3 C683.5,639.6 684.2,641.5 685.8,645.1 C687.3,648.7 690.7,652.9 692.2,656.9 C693.8,660.8 694.9,664.7 695.2,668.6 C695.5,672.6 695.3,676.8 693.9,680.4 C692.4,684.0 690.0,687.3 686.5,690.2 C683.0,693.2 677.6,695.8 673.0,698.1 C668.5,700.4 661.8,702.0 659.1,704.0 C656.4,705.9 657.3,705.4 656.9,709.9 C656.5,714.3 662.7,727.3 656.9,730.8 C651.1,734.3 627.7,734.3 621.9,730.8 C616.1,727.3 622.0,714.3 621.9,709.9 C621.8,705.4 622.9,705.9 621.1,704.0 C619.3,702.0 614.1,700.4 611.0,698.1 C607.9,695.8 604.2,693.2 602.5,690.2 C600.8,687.3 600.9,684.0 600.9,680.4 C600.8,676.8 601.7,672.6 602.2,668.6 C602.8,664.7 603.0,660.8 604.2,656.9 C605.5,652.9 608.5,648.7 609.8,645.1 C611.0,641.5 611.5,639.6 611.9,635.3 C612.2,630.9 611.8,624.3 611.8,618.9 C611.7,613.4 611.7,608.0 611.7,602.5 C611.6,597.1 611.6,591.9 611.6,586.2 C611.5,580.4 611.4,574.2 611.3,568.2 C611.2,562.2 611.1,556.2 611.0,550.2 C610.9,544.2 610.2,538.9 610.7,532.2 C611.2,525.5 612.9,517.5 614.0,510.1 C615.2,502.7 616.2,494.7 617.4,488.0 C618.6,481.3 619.8,475.9 621.1,469.8 C622.3,463.8 623.7,455.7 624.7,451.7 C625.7,447.7 626.1,447.4 627.2,445.8 C628.2,444.2 629.0,443.0 631.0,441.9 C633.1,440.7 636.6,438.9 639.4,438.9 Z"/></clipPath>
<clipPath id="tb4"><path d="M724.2,436.9 C727.0,436.9 730.7,438.8 732.8,439.9 C735.0,441.1 735.8,442.2 737.0,443.9 C738.2,445.5 738.6,445.8 740.0,449.8 C741.3,453.9 743.4,462.0 745.2,468.1 C746.9,474.2 748.6,479.7 750.4,486.4 C752.1,493.2 753.8,501.3 755.6,508.7 C757.3,516.1 759.7,524.2 760.8,531.0 C761.9,537.7 761.6,543.1 762.0,549.1 C762.4,555.2 762.8,561.2 763.2,567.3 C763.6,573.3 764.0,579.6 764.5,585.4 C764.9,591.2 765.3,596.4 765.7,601.9 C766.2,607.4 766.6,612.9 767.0,618.4 C767.5,623.9 767.6,630.5 768.3,634.9 C769.0,639.3 769.7,641.1 771.2,644.8 C772.8,648.4 776.2,652.7 777.8,656.7 C779.3,660.6 780.4,664.6 780.8,668.5 C781.1,672.5 781.1,676.8 779.8,680.4 C778.5,684.0 776.3,687.3 773.0,690.3 C769.7,693.3 764.4,695.9 759.9,698.2 C755.5,700.5 748.9,702.2 746.3,704.2 C743.7,706.1 744.5,705.6 744.2,710.1 C743.9,714.5 750.0,727.4 744.2,730.9 C738.4,734.3 715.0,734.3 709.2,730.9 C703.4,727.4 709.4,714.5 709.2,710.1 C709.0,705.6 710.2,706.1 708.3,704.2 C706.4,702.2 701.1,700.5 697.9,698.2 C694.7,695.9 690.8,693.3 689.0,690.3 C687.1,687.3 687.0,684.0 686.8,680.4 C686.6,676.8 687.3,672.5 687.8,668.5 C688.3,664.6 688.5,660.6 689.8,656.7 C691.0,652.7 694.0,648.4 695.2,644.8 C696.5,641.1 697.0,639.3 697.3,634.9 C697.6,630.5 697.2,623.9 697.2,618.4 C697.1,612.9 697.1,607.4 697.0,601.9 C697.0,596.4 696.9,591.2 696.9,585.4 C696.8,579.6 696.6,573.3 696.5,567.3 C696.4,561.2 696.3,555.2 696.1,549.1 C696.0,543.1 695.3,537.7 695.8,531.0 C696.3,524.2 698.0,516.1 699.1,508.7 C700.2,501.3 701.2,493.2 702.4,486.4 C703.5,479.7 704.8,474.2 706.0,468.1 C707.2,462.0 708.6,453.9 709.6,449.8 C710.6,445.8 711.0,445.5 712.0,443.9 C713.0,442.2 713.8,441.1 715.8,439.9 C717.9,438.8 721.4,436.9 724.2,436.9 Z"/></clipPath>
<clipPath id="tb5"><path d="M829.0,438.9 C831.8,438.9 835.4,440.7 837.5,441.9 C839.5,443.0 840.3,444.2 841.4,445.8 C842.5,447.4 842.9,447.7 844.0,451.7 C845.1,455.7 846.7,463.8 848.1,469.8 C849.5,475.9 850.9,481.3 852.2,488.0 C853.6,494.7 854.8,502.7 856.1,510.1 C857.4,517.5 859.4,525.5 860.0,532.2 C860.7,538.9 860.1,544.2 860.2,550.2 C860.3,556.2 860.3,562.2 860.4,568.2 C860.4,574.2 860.4,580.4 860.5,586.2 C860.6,591.9 860.7,597.1 860.8,602.5 C860.9,608.0 861.0,613.4 861.1,618.9 C861.2,624.3 861.0,630.9 861.4,635.3 C861.9,639.6 862.4,641.5 863.8,645.1 C865.1,648.7 868.2,652.9 869.6,656.9 C871.0,660.8 871.8,664.7 871.9,668.6 C872.1,672.6 871.9,676.8 870.6,680.4 C869.3,684.0 867.2,687.3 864.0,690.2 C860.9,693.2 855.8,695.8 851.5,698.1 C847.2,700.4 840.9,702.0 838.4,704.0 C835.9,705.9 836.8,705.4 836.5,709.9 C836.2,714.3 842.3,727.3 836.5,730.8 C830.7,734.3 807.3,734.3 801.5,730.8 C795.7,727.3 801.7,714.3 801.5,709.9 C801.3,705.4 802.4,705.9 800.4,704.0 C798.4,702.0 792.9,700.4 789.5,698.1 C786.1,695.8 782.0,693.2 780.0,690.2 C778.1,687.3 777.8,684.0 777.6,680.4 C777.4,676.8 778.2,672.6 778.9,668.6 C779.6,664.7 780.1,660.8 781.6,656.9 C783.1,652.9 786.3,648.7 787.8,645.1 C789.3,641.5 789.9,639.6 790.4,635.3 C791.0,630.9 791.0,624.3 791.3,618.9 C791.5,613.4 791.8,608.0 792.1,602.5 C792.4,597.1 792.7,591.9 792.9,586.2 C793.2,580.4 793.4,574.2 793.6,568.2 C793.9,562.2 794.1,556.2 794.3,550.2 C794.6,544.2 794.2,538.9 795.0,532.2 C795.9,525.5 798.1,517.5 799.6,510.1 C801.2,502.7 802.7,494.7 804.2,488.0 C805.8,481.3 807.4,475.9 808.9,469.8 C810.5,463.8 812.4,455.7 813.6,451.7 C814.8,447.7 815.3,447.4 816.4,445.8 C817.5,444.2 818.4,443.0 820.5,441.9 C822.6,440.7 826.2,438.9 829.0,438.9 Z"/></clipPath>
<clipPath id="tb6"><path d="M913.9,438.9 C916.7,438.9 920.3,440.7 922.4,441.9 C924.5,443.0 925.3,444.2 926.4,445.8 C927.5,447.4 927.9,447.7 929.1,451.7 C930.2,455.7 932.0,463.8 933.4,469.8 C934.9,475.9 936.4,481.3 937.8,488.0 C939.2,494.7 940.6,502.7 942.0,510.1 C943.4,517.5 945.4,525.5 946.2,532.2 C947.0,538.9 946.5,544.2 946.6,550.2 C946.7,556.2 946.9,562.2 947.0,568.2 C947.1,574.2 947.2,580.4 947.4,586.2 C947.5,591.9 947.8,597.1 947.9,602.5 C948.1,608.0 948.3,613.4 948.5,618.9 C948.6,624.3 948.5,630.9 949.0,635.3 C949.5,639.6 950.1,641.5 951.5,645.1 C952.9,648.7 956.0,652.9 957.4,656.9 C958.9,660.8 959.7,664.7 959.9,668.6 C960.2,672.6 960.2,676.8 959.1,680.4 C957.9,684.0 956.1,687.3 953.1,690.2 C950.1,693.2 945.2,695.8 941.0,698.1 C936.9,700.4 930.6,702.0 928.2,704.0 C925.7,705.9 926.7,705.4 926.4,709.9 C926.1,714.3 932.2,727.3 926.4,730.8 C920.6,734.3 897.2,734.3 891.4,730.8 C885.6,727.3 891.6,714.3 891.4,709.9 C891.2,705.4 892.2,705.9 890.2,704.0 C888.1,702.0 882.5,700.4 879.0,698.1 C875.5,695.8 871.3,693.2 869.1,690.2 C867.0,687.3 866.4,684.0 866.1,680.4 C865.7,676.8 866.4,672.6 866.9,668.6 C867.5,664.7 868.0,660.8 869.4,656.9 C870.9,652.9 874.0,648.7 875.5,645.1 C876.9,641.5 877.5,639.6 878.0,635.3 C878.5,630.9 878.4,624.3 878.6,618.9 C878.8,613.4 879.0,608.0 879.2,602.5 C879.4,597.1 879.6,591.9 879.8,586.2 C880.0,580.4 880.1,574.2 880.3,568.2 C880.4,562.2 880.6,556.2 880.7,550.2 C880.9,544.2 880.4,538.9 881.2,532.2 C882.0,525.5 884.1,517.5 885.5,510.1 C886.9,502.7 888.3,494.7 889.8,488.0 C891.3,481.3 892.8,475.9 894.2,469.8 C895.7,463.8 897.5,455.7 898.7,451.7 C899.9,447.7 900.3,447.4 901.4,445.8 C902.5,444.2 903.3,443.0 905.4,441.9 C907.5,440.7 911.1,438.9 913.9,438.9 Z"/></clipPath>
<clipPath id="tb7"><path d="M1006.2,438.9 C1009.0,438.9 1012.6,440.7 1014.7,441.9 C1016.8,443.0 1017.6,444.2 1018.7,445.8 C1019.8,447.4 1020.2,447.7 1021.4,451.7 C1022.6,455.7 1024.3,463.8 1025.8,469.8 C1027.3,475.9 1028.8,481.3 1030.2,488.0 C1031.7,494.7 1033.1,502.7 1034.5,510.1 C1035.9,517.5 1038.0,525.5 1038.8,532.2 C1039.5,538.9 1039.1,544.2 1039.2,550.2 C1039.4,556.2 1039.5,562.2 1039.7,568.2 C1039.8,574.2 1039.9,580.4 1040.1,586.2 C1040.3,591.9 1040.5,597.1 1040.7,602.5 C1040.9,608.0 1041.1,613.4 1041.2,618.9 C1041.4,624.3 1041.3,630.9 1041.8,635.3 C1042.3,639.6 1042.9,641.5 1044.3,645.1 C1045.8,648.7 1048.9,652.9 1050.3,656.9 C1051.8,660.8 1052.5,664.7 1052.8,668.6 C1053.2,672.6 1053.3,676.8 1052.4,680.4 C1051.4,684.0 1049.9,687.3 1047.0,690.2 C1044.2,693.2 1039.4,695.8 1035.4,698.1 C1031.3,700.4 1025.2,702.0 1022.9,704.0 C1020.5,705.9 1021.5,705.4 1021.2,709.9 C1020.9,714.3 1027.0,727.3 1021.2,730.8 C1015.4,734.3 992.0,734.3 986.2,730.8 C980.4,727.3 986.4,714.3 986.2,709.9 C986.0,705.4 987.0,705.9 984.9,704.0 C982.7,702.0 977.0,700.4 973.4,698.1 C969.7,695.8 965.4,693.2 963.0,690.2 C960.7,687.3 959.9,684.0 959.4,680.4 C958.8,676.8 959.4,672.6 959.8,668.6 C960.3,664.7 960.9,660.8 962.3,656.9 C963.8,652.9 966.9,648.7 968.3,645.1 C969.7,641.5 970.3,639.6 970.8,635.3 C971.3,630.9 971.2,624.3 971.4,618.9 C971.6,613.4 971.8,608.0 971.9,602.5 C972.1,597.1 972.3,591.9 972.5,586.2 C972.7,580.4 972.8,574.2 972.9,568.2 C973.1,562.2 973.2,556.2 973.3,550.2 C973.5,544.2 973.0,538.9 973.8,532.2 C974.5,525.5 976.6,517.5 978.0,510.1 C979.4,502.7 980.8,494.7 982.2,488.0 C983.7,481.3 985.2,475.9 986.6,469.8 C988.1,463.8 989.8,455.7 991.0,451.7 C992.2,447.7 992.6,447.4 993.7,445.8 C994.8,444.2 995.6,443.0 997.7,441.9 C999.8,440.7 1003.4,438.9 1006.2,438.9 Z"/></clipPath>
<clipPath id="tb8"><path d="M1103.6,442.9 C1106.4,442.9 1109.9,444.7 1112.0,445.8 C1114.0,446.9 1114.8,448.0 1115.8,449.6 C1116.9,451.3 1117.3,451.5 1118.3,455.4 C1119.3,459.4 1120.8,467.3 1122.0,473.3 C1123.3,479.3 1124.6,484.6 1125.7,491.2 C1126.9,497.8 1128.0,505.7 1129.2,512.9 C1130.3,520.1 1132.0,528.0 1132.6,534.6 C1133.1,541.2 1132.4,546.4 1132.3,552.3 C1132.2,558.2 1132.2,564.1 1132.1,570.0 C1132.0,575.9 1131.9,582.1 1131.8,587.7 C1131.8,593.4 1131.8,598.5 1131.8,603.8 C1131.8,609.2 1131.7,614.6 1131.7,619.9 C1131.7,625.3 1131.3,631.7 1131.7,636.0 C1132.0,640.3 1132.5,642.1 1133.8,645.7 C1135.1,649.2 1138.1,653.4 1139.4,657.3 C1140.6,661.1 1141.2,665.0 1141.4,668.8 C1141.7,672.7 1141.7,676.9 1140.8,680.4 C1139.9,684.0 1138.5,687.2 1135.8,690.1 C1133.2,693.0 1128.5,695.6 1124.6,697.8 C1120.8,700.1 1114.9,701.7 1112.6,703.6 C1110.3,705.5 1111.3,704.9 1111.1,709.4 C1110.9,713.9 1116.9,727.1 1111.1,730.6 C1105.3,734.1 1081.9,734.1 1076.1,730.6 C1070.3,727.1 1076.4,713.9 1076.1,709.4 C1075.8,704.9 1076.8,705.5 1074.6,703.6 C1072.4,701.7 1066.4,700.1 1062.6,697.8 C1058.9,695.6 1054.3,693.0 1051.8,690.1 C1049.4,687.2 1048.4,684.0 1047.8,680.4 C1047.2,676.9 1047.8,672.7 1048.4,668.8 C1049.0,665.0 1049.8,661.1 1051.4,657.3 C1052.9,653.4 1056.3,649.2 1057.8,645.7 C1059.4,642.1 1060.0,640.3 1060.7,636.0 C1061.4,631.7 1061.5,625.3 1061.9,619.9 C1062.3,614.6 1062.7,609.2 1063.0,603.8 C1063.4,598.5 1063.8,593.4 1064.2,587.7 C1064.6,582.1 1065.0,575.9 1065.3,570.0 C1065.7,564.1 1066.1,558.2 1066.5,552.3 C1066.8,546.4 1066.5,541.2 1067.6,534.6 C1068.6,528.0 1071.0,520.1 1072.7,512.9 C1074.4,505.7 1076.0,497.8 1077.7,491.2 C1079.4,484.6 1081.1,479.3 1082.8,473.3 C1084.5,467.3 1086.6,459.4 1087.9,455.4 C1089.3,451.5 1089.7,451.3 1090.8,449.6 C1092.0,448.0 1092.9,446.9 1095.0,445.8 C1097.1,444.7 1100.8,442.9 1103.6,442.9 Z"/></clipPath>
<clipPath id="tb9"><path d="M1183.7,439.9 C1186.5,439.9 1190.1,441.7 1192.1,442.9 C1194.2,444.0 1195.0,445.1 1196.0,446.8 C1197.1,448.4 1197.5,448.6 1198.6,452.6 C1199.7,456.6 1201.2,464.7 1202.5,470.7 C1203.9,476.7 1205.2,482.1 1206.5,488.8 C1207.8,495.5 1209.0,503.5 1210.2,510.8 C1211.4,518.1 1213.3,526.1 1213.9,532.8 C1214.5,539.4 1213.9,544.7 1213.9,550.7 C1213.9,556.7 1213.9,562.7 1213.9,568.6 C1213.9,574.6 1213.8,580.9 1213.9,586.6 C1213.9,592.3 1214.0,597.4 1214.0,602.9 C1214.1,608.3 1214.1,613.7 1214.2,619.2 C1214.2,624.6 1213.9,631.1 1214.3,635.4 C1214.7,639.8 1215.3,641.6 1216.6,645.2 C1217.9,648.8 1221.0,653.0 1222.3,657.0 C1223.6,660.9 1224.2,664.8 1224.5,668.7 C1224.9,672.6 1225.1,676.8 1224.4,680.4 C1223.6,684.0 1222.5,687.3 1220.0,690.2 C1217.5,693.1 1213.0,695.7 1209.2,698.0 C1205.4,700.3 1199.6,701.9 1197.4,703.9 C1195.2,705.8 1196.2,705.3 1196.0,709.7 C1195.8,714.2 1201.8,727.2 1196.0,730.7 C1190.2,734.2 1166.8,734.2 1161.0,730.7 C1155.2,727.2 1161.3,714.2 1161.0,709.7 C1160.7,705.3 1161.7,705.8 1159.4,703.9 C1157.1,701.9 1151.1,700.3 1147.2,698.0 C1143.3,695.7 1138.6,693.1 1136.0,690.2 C1133.4,687.3 1132.1,684.0 1131.4,680.4 C1130.6,676.8 1131.0,672.6 1131.5,668.7 C1132.0,664.8 1132.8,660.9 1134.3,657.0 C1135.8,653.0 1139.1,648.8 1140.6,645.2 C1142.1,641.6 1142.7,639.8 1143.3,635.4 C1144.0,631.1 1144.0,624.6 1144.3,619.2 C1144.6,613.7 1145.0,608.3 1145.3,602.9 C1145.6,597.4 1145.9,592.3 1146.3,586.6 C1146.6,580.9 1146.8,574.6 1147.1,568.6 C1147.4,562.7 1147.7,556.7 1148.0,550.7 C1148.3,544.7 1147.9,539.4 1148.9,532.8 C1149.8,526.1 1152.1,518.1 1153.7,510.8 C1155.3,503.5 1156.9,495.5 1158.5,488.8 C1160.1,482.1 1161.7,476.7 1163.3,470.7 C1165.0,464.7 1166.9,456.6 1168.2,452.6 C1169.5,448.6 1169.9,448.4 1171.0,446.8 C1172.2,445.1 1173.0,444.0 1175.1,442.9 C1177.2,441.7 1180.9,439.9 1183.7,439.9 Z"/></clipPath>
<clipPath id="tb10"><path d="M1270.1,437.9 C1272.9,437.9 1276.5,439.7 1278.5,440.9 C1280.6,442.0 1281.4,443.2 1282.5,444.8 C1283.5,446.5 1283.9,446.7 1285.0,450.8 C1286.1,454.8 1287.7,462.9 1289.0,469.0 C1290.4,475.1 1291.8,480.5 1293.1,487.2 C1294.4,494.0 1295.6,502.0 1296.8,509.4 C1298.1,516.8 1300.0,524.9 1300.6,531.6 C1301.3,538.3 1300.7,543.6 1300.7,549.6 C1300.7,555.7 1300.7,561.7 1300.7,567.7 C1300.8,573.7 1300.7,580.0 1300.8,585.8 C1300.8,591.5 1300.9,596.7 1301.0,602.2 C1301.1,607.7 1301.2,613.2 1301.2,618.6 C1301.3,624.1 1301.0,630.7 1301.4,635.1 C1301.9,639.4 1302.4,641.3 1303.7,644.9 C1305.1,648.5 1308.2,652.8 1309.5,656.8 C1310.8,660.7 1311.3,664.6 1311.7,668.6 C1312.2,672.5 1312.6,676.8 1312.0,680.4 C1311.4,684.0 1310.5,687.3 1308.1,690.3 C1305.8,693.2 1301.4,695.8 1297.8,698.1 C1294.1,700.4 1288.4,702.1 1286.3,704.1 C1284.2,706.0 1285.2,705.5 1285.0,710.0 C1284.8,714.4 1290.8,727.4 1285.0,730.8 C1279.2,734.3 1255.8,734.3 1250.0,730.8 C1244.2,727.4 1250.3,714.4 1250.0,710.0 C1249.7,705.5 1250.7,706.0 1248.3,704.1 C1245.9,702.1 1239.8,700.4 1235.8,698.1 C1231.8,695.8 1226.9,693.2 1224.1,690.3 C1221.3,687.3 1219.9,684.0 1219.0,680.4 C1218.1,676.8 1218.3,672.5 1218.7,668.6 C1219.2,664.6 1220.0,660.7 1221.5,656.8 C1223.0,652.8 1226.2,648.5 1227.7,644.9 C1229.2,641.3 1229.8,639.4 1230.4,635.1 C1231.1,630.7 1231.1,624.1 1231.4,618.6 C1231.7,613.2 1232.0,607.7 1232.3,602.2 C1232.6,596.7 1232.9,591.5 1233.2,585.8 C1233.5,580.0 1233.7,573.7 1234.0,567.7 C1234.3,561.7 1234.5,555.7 1234.8,549.6 C1235.1,543.6 1234.7,538.3 1235.6,531.6 C1236.6,524.9 1238.8,516.8 1240.3,509.4 C1241.9,502.0 1243.5,494.0 1245.1,487.2 C1246.6,480.5 1248.3,475.1 1249.8,469.0 C1251.4,462.9 1253.4,454.8 1254.6,450.8 C1255.9,446.7 1256.3,446.5 1257.5,444.8 C1258.6,443.2 1259.4,442.0 1261.5,440.9 C1263.6,439.7 1267.3,437.9 1270.1,437.9 Z"/></clipPath>
<clipPath id="tb11"><path d="M1369.6,439.9 C1372.4,439.9 1375.9,441.7 1378.0,442.9 C1380.0,444.0 1380.7,445.1 1381.8,446.8 C1382.8,448.4 1383.2,448.6 1384.2,452.6 C1385.1,456.6 1386.5,464.7 1387.6,470.7 C1388.8,476.7 1390.0,482.1 1391.1,488.8 C1392.2,495.5 1393.2,503.5 1394.2,510.8 C1395.3,518.1 1396.9,526.1 1397.4,532.8 C1397.8,539.4 1397.0,544.7 1396.9,550.7 C1396.7,556.7 1396.6,562.7 1396.4,568.6 C1396.2,574.6 1396.0,580.9 1395.9,586.6 C1395.8,592.3 1395.7,597.4 1395.7,602.9 C1395.6,608.3 1395.5,613.7 1395.4,619.2 C1395.3,624.6 1394.8,631.1 1395.1,635.4 C1395.4,639.8 1395.9,641.6 1397.1,645.2 C1398.4,648.8 1401.3,653.0 1402.5,657.0 C1403.7,660.9 1404.1,664.8 1404.4,668.7 C1404.8,672.6 1405.2,676.8 1404.7,680.4 C1404.1,684.0 1403.5,687.3 1401.3,690.2 C1399.1,693.1 1394.9,695.7 1391.4,698.0 C1387.9,700.3 1382.4,701.9 1380.4,703.9 C1378.3,705.8 1379.4,705.3 1379.2,709.7 C1379.0,714.2 1385.0,727.2 1379.2,730.7 C1373.4,734.2 1350.0,734.2 1344.2,730.7 C1338.4,727.2 1344.5,714.2 1344.2,709.7 C1343.9,705.3 1344.8,705.8 1342.4,703.9 C1339.9,701.9 1333.6,700.3 1329.4,698.0 C1325.2,695.7 1320.2,693.1 1317.3,690.2 C1314.3,687.3 1312.6,684.0 1311.7,680.4 C1310.7,676.8 1311.0,672.6 1311.4,668.7 C1311.9,664.8 1312.9,660.9 1314.5,657.0 C1316.1,653.0 1319.5,648.8 1321.1,645.2 C1322.7,641.6 1323.4,639.8 1324.1,635.4 C1324.9,631.1 1325.1,624.6 1325.5,619.2 C1326.0,613.7 1326.5,608.3 1326.9,602.9 C1327.4,597.4 1327.9,592.3 1328.3,586.6 C1328.8,580.9 1329.2,574.6 1329.7,568.6 C1330.1,562.7 1330.6,556.7 1331.0,550.7 C1331.5,544.7 1331.2,539.4 1332.4,532.8 C1333.5,526.1 1335.9,518.1 1337.7,510.8 C1339.5,503.5 1341.3,495.5 1343.1,488.8 C1344.9,482.1 1346.7,476.7 1348.4,470.7 C1350.2,464.7 1352.4,456.6 1353.8,452.6 C1355.1,448.6 1355.6,448.4 1356.8,446.8 C1358.0,445.1 1358.8,444.0 1361.0,442.9 C1363.1,441.7 1366.8,439.9 1369.6,439.9 Z"/></clipPath>
<clipPath id="tb12"><path d="M1455.9,444.9 C1458.7,444.9 1462.2,446.6 1464.2,447.7 C1466.2,448.9 1467.0,450.0 1468.0,451.6 C1469.0,453.2 1469.4,453.4 1470.4,457.3 C1471.3,461.2 1472.6,469.1 1473.7,475.0 C1474.8,480.9 1476.0,486.2 1477.1,492.7 C1478.1,499.3 1479.0,507.1 1480.0,514.3 C1481.0,521.5 1482.6,529.3 1483.0,535.8 C1483.4,542.4 1482.6,547.5 1482.4,553.4 C1482.2,559.2 1482.0,565.1 1481.8,570.9 C1481.6,576.8 1481.4,582.9 1481.2,588.5 C1481.0,594.1 1480.9,599.1 1480.8,604.5 C1480.7,609.8 1480.6,615.1 1480.4,620.4 C1480.3,625.7 1479.8,632.1 1480.1,636.4 C1480.3,640.6 1480.8,642.5 1482.0,646.0 C1483.2,649.5 1486.1,653.6 1487.3,657.5 C1488.5,661.3 1488.7,665.1 1489.1,668.9 C1489.5,672.8 1490.0,676.9 1489.6,680.4 C1489.2,683.9 1488.7,687.1 1486.7,690.0 C1484.6,692.9 1480.6,695.4 1477.2,697.7 C1473.9,699.9 1468.5,701.5 1466.5,703.4 C1464.6,705.3 1465.7,704.7 1465.5,709.2 C1465.3,713.7 1471.3,726.9 1465.5,730.5 C1459.7,734.0 1436.3,734.0 1430.5,730.5 C1424.7,726.9 1430.8,713.7 1430.5,709.2 C1430.2,704.7 1431.1,705.3 1428.5,703.4 C1426.0,701.5 1419.5,699.9 1415.2,697.7 C1410.9,695.4 1405.8,692.9 1402.7,690.0 C1399.6,687.1 1397.7,683.9 1396.6,680.4 C1395.5,676.9 1395.7,672.8 1396.1,668.9 C1396.6,665.1 1397.7,661.3 1399.3,657.5 C1400.9,653.6 1404.4,649.5 1406.0,646.0 C1407.6,642.5 1408.3,640.6 1409.1,636.4 C1409.8,632.1 1410.1,625.7 1410.6,620.4 C1411.1,615.1 1411.6,609.8 1412.1,604.5 C1412.6,599.1 1413.1,594.1 1413.6,588.5 C1414.1,582.9 1414.6,576.8 1415.1,570.9 C1415.6,565.1 1416.0,559.2 1416.5,553.4 C1417.0,547.5 1416.8,542.4 1418.0,535.8 C1419.2,529.3 1421.7,521.5 1423.5,514.3 C1425.4,507.1 1427.2,499.3 1429.1,492.7 C1430.9,486.2 1432.7,480.9 1434.5,475.0 C1436.3,469.1 1438.5,461.2 1440.0,457.3 C1441.4,453.4 1441.8,453.2 1443.0,451.6 C1444.2,450.0 1445.1,448.9 1447.2,447.7 C1449.4,446.6 1453.1,444.9 1455.9,444.9 Z"/></clipPath>
<clipPath id="tb13"><path d="M1539.7,444.9 C1542.5,444.9 1546.0,446.6 1548.0,447.7 C1550.1,448.9 1550.8,450.0 1551.8,451.6 C1552.9,453.2 1553.2,453.4 1554.2,457.3 C1555.2,461.2 1556.5,469.1 1557.6,475.0 C1558.8,480.9 1560.0,486.2 1561.1,492.7 C1562.1,499.3 1563.1,507.1 1564.1,514.3 C1565.1,521.5 1566.7,529.3 1567.2,535.8 C1567.6,542.4 1566.8,547.5 1566.6,553.4 C1566.4,559.2 1566.3,565.1 1566.1,570.9 C1565.9,576.8 1565.7,582.9 1565.6,588.5 C1565.4,594.1 1565.3,599.1 1565.2,604.5 C1565.1,609.8 1565.0,615.1 1564.9,620.4 C1564.8,625.7 1564.3,632.1 1564.6,636.4 C1564.9,640.6 1565.3,642.5 1566.6,646.0 C1567.8,649.5 1570.7,653.6 1571.9,657.5 C1573.1,661.3 1573.4,665.1 1573.8,668.9 C1574.2,672.8 1574.9,676.9 1574.6,680.4 C1574.4,683.9 1574.2,687.1 1572.3,690.0 C1570.4,692.9 1566.5,695.4 1563.2,697.7 C1560.0,699.9 1554.7,701.5 1552.8,703.4 C1550.9,705.3 1552.1,704.7 1551.9,709.2 C1551.7,713.7 1557.7,726.9 1551.9,730.5 C1546.1,734.0 1522.7,734.0 1516.9,730.5 C1511.1,726.9 1517.2,713.7 1516.9,709.2 C1516.6,704.7 1517.4,705.3 1514.8,703.4 C1512.2,701.5 1505.7,699.9 1501.2,697.7 C1496.8,695.4 1491.5,692.9 1488.3,690.0 C1485.0,687.1 1482.9,683.9 1481.6,680.4 C1480.4,676.9 1480.4,672.8 1480.8,668.9 C1481.2,665.1 1482.3,661.3 1483.9,657.5 C1485.6,653.6 1489.0,649.5 1490.6,646.0 C1492.2,642.5 1492.9,640.6 1493.6,636.4 C1494.3,632.1 1494.6,625.7 1495.1,620.4 C1495.5,615.1 1496.0,609.8 1496.5,604.5 C1497.0,599.1 1497.5,594.1 1498.0,588.5 C1498.4,582.9 1498.9,576.8 1499.4,570.9 C1499.8,565.1 1500.3,559.2 1500.8,553.4 C1501.2,547.5 1501.0,542.4 1502.2,535.8 C1503.3,529.3 1505.8,521.5 1507.6,514.3 C1509.4,507.1 1511.2,499.3 1513.1,492.7 C1514.9,486.2 1516.6,480.9 1518.4,475.0 C1520.2,469.1 1522.4,461.2 1523.8,457.3 C1525.2,453.4 1525.6,453.2 1526.8,451.6 C1528.0,450.0 1528.9,448.9 1531.0,447.7 C1533.2,446.6 1536.9,444.9 1539.7,444.9 Z"/></clipPath>
<clipPath id="tb14"><path d="M1644.4,447.8 C1647.2,447.8 1650.6,449.6 1652.6,450.7 C1654.6,451.8 1655.3,452.9 1656.3,454.5 C1657.2,456.0 1657.6,456.3 1658.4,460.1 C1659.2,464.0 1660.2,471.8 1661.1,477.6 C1662.0,483.5 1663.0,488.7 1663.8,495.1 C1664.6,501.6 1665.2,509.3 1665.9,516.4 C1666.7,523.5 1668.0,531.2 1668.1,537.7 C1668.3,544.1 1667.3,549.2 1666.8,555.0 C1666.4,560.8 1666.0,566.6 1665.6,572.3 C1665.2,578.1 1664.7,584.2 1664.3,589.7 C1663.9,595.2 1663.7,600.2 1663.3,605.4 C1663.0,610.7 1662.7,615.9 1662.4,621.2 C1662.0,626.4 1661.3,632.7 1661.4,637.0 C1661.5,641.2 1661.9,642.9 1663.0,646.4 C1664.0,649.9 1666.8,654.0 1667.9,657.8 C1668.9,661.5 1668.9,665.3 1669.2,669.1 C1669.6,672.9 1670.2,677.0 1669.9,680.4 C1669.7,683.9 1669.8,687.1 1668.0,689.9 C1666.3,692.7 1662.5,695.3 1659.5,697.5 C1656.4,699.7 1651.3,701.3 1649.6,703.1 C1647.8,705.0 1648.9,704.3 1648.8,708.8 C1648.7,713.3 1654.6,726.8 1648.8,730.3 C1643.0,733.9 1619.6,733.9 1613.8,730.3 C1608.0,726.8 1614.2,713.3 1613.8,708.8 C1613.4,704.3 1614.3,705.0 1611.6,703.1 C1608.8,701.3 1602.1,699.7 1597.5,697.5 C1592.9,695.3 1587.4,692.7 1584.0,689.9 C1580.6,687.1 1578.2,683.9 1576.9,680.4 C1575.7,677.0 1575.8,672.9 1576.2,669.1 C1576.7,665.3 1578.1,661.5 1579.9,657.8 C1581.6,654.0 1585.2,649.9 1587.0,646.4 C1588.7,642.9 1589.5,641.2 1590.4,637.0 C1591.3,632.7 1591.8,626.4 1592.5,621.2 C1593.2,615.9 1593.9,610.7 1594.6,605.4 C1595.3,600.2 1596.0,595.2 1596.7,589.7 C1597.4,584.2 1598.1,578.1 1598.8,572.3 C1599.6,566.6 1600.3,560.8 1601.0,555.0 C1601.7,549.2 1601.7,544.1 1603.1,537.7 C1604.5,531.2 1607.3,523.5 1609.4,516.4 C1611.6,509.3 1613.7,501.6 1615.8,495.1 C1617.8,488.7 1619.8,483.5 1621.9,477.6 C1623.9,471.8 1626.4,464.0 1628.0,460.1 C1629.6,456.3 1630.0,456.0 1631.3,454.5 C1632.5,452.9 1633.4,451.8 1635.6,450.7 C1637.8,449.6 1641.6,447.8 1644.4,447.8 Z"/></clipPath>
<clipPath id="tb15"><path d="M1736.0,447.8 C1738.8,447.8 1742.2,449.6 1744.2,450.7 C1746.2,451.8 1746.9,452.9 1747.8,454.5 C1748.8,456.0 1749.1,456.3 1749.9,460.1 C1750.7,464.0 1751.6,471.8 1752.5,477.6 C1753.3,483.5 1754.2,488.7 1755.0,495.1 C1755.8,501.6 1756.3,509.3 1757.0,516.4 C1757.7,523.5 1758.9,531.2 1759.0,537.7 C1759.1,544.1 1758.1,549.2 1757.6,555.0 C1757.2,560.8 1756.7,566.6 1756.2,572.3 C1755.8,578.1 1755.2,584.2 1754.8,589.7 C1754.4,595.2 1754.1,600.2 1753.7,605.4 C1753.4,610.7 1753.0,615.9 1752.6,621.2 C1752.3,626.4 1751.5,632.7 1751.5,637.0 C1751.6,641.2 1752.0,642.9 1753.0,646.4 C1754.1,649.9 1756.8,654.0 1757.8,657.8 C1758.9,661.5 1758.8,665.3 1759.1,669.1 C1759.5,672.9 1760.2,677.0 1760.1,680.4 C1760.0,683.9 1760.3,687.1 1758.7,689.9 C1757.1,692.7 1753.5,695.3 1750.6,697.5 C1747.6,699.7 1742.7,701.3 1741.0,703.1 C1739.3,705.0 1740.5,704.3 1740.4,708.8 C1740.3,713.3 1746.2,726.8 1740.4,730.3 C1734.6,733.9 1711.2,733.9 1705.4,730.3 C1699.6,726.8 1705.8,713.3 1705.4,708.8 C1705.0,704.3 1705.8,705.0 1703.0,703.1 C1700.2,701.3 1693.3,699.7 1688.6,697.5 C1683.9,695.3 1678.3,692.7 1674.7,689.9 C1671.1,687.1 1668.5,683.9 1667.1,680.4 C1665.7,677.0 1665.7,672.9 1666.1,669.1 C1666.6,665.3 1668.0,661.5 1669.8,657.8 C1671.7,654.0 1675.3,649.9 1677.0,646.4 C1678.8,642.9 1679.6,641.2 1680.5,637.0 C1681.5,632.7 1682.0,626.4 1682.8,621.2 C1683.5,615.9 1684.3,610.7 1685.0,605.4 C1685.7,600.2 1686.5,595.2 1687.2,589.7 C1688.0,584.2 1688.7,578.1 1689.5,572.3 C1690.2,566.6 1691.0,560.8 1691.8,555.0 C1692.5,549.2 1692.6,544.1 1694.0,537.7 C1695.5,531.2 1698.3,523.5 1700.5,516.4 C1702.7,509.3 1704.9,501.6 1707.0,495.1 C1709.1,488.7 1711.2,483.5 1713.3,477.6 C1715.3,471.8 1717.9,464.0 1719.5,460.1 C1721.1,456.3 1721.5,456.0 1722.8,454.5 C1724.1,452.9 1725.0,451.8 1727.2,450.7 C1729.4,449.6 1733.2,447.8 1736.0,447.8 Z"/></clipPath>
<clipPath id="tb16"><path d="M1827.6,444.9 C1830.4,444.9 1833.8,446.6 1835.7,447.7 C1837.6,448.9 1838.3,450.0 1839.2,451.6 C1840.1,453.2 1840.5,453.4 1841.1,457.3 C1841.8,461.2 1842.5,469.1 1843.2,475.0 C1843.8,480.9 1844.6,486.2 1845.2,492.7 C1845.7,499.3 1846.1,507.1 1846.5,514.3 C1847.0,521.5 1848.0,529.3 1847.9,535.8 C1847.8,542.4 1846.6,547.5 1846.0,553.4 C1845.4,559.2 1844.7,565.1 1844.1,570.9 C1843.4,576.8 1842.7,582.9 1842.2,588.5 C1841.6,594.1 1841.1,599.1 1840.6,604.5 C1840.1,609.8 1839.5,615.1 1839.0,620.4 C1838.5,625.7 1837.5,632.1 1837.4,636.4 C1837.4,640.6 1837.7,642.5 1838.7,646.0 C1839.6,649.5 1842.2,653.6 1843.1,657.5 C1844.0,661.3 1843.8,665.1 1844.1,668.9 C1844.4,672.8 1845.0,676.9 1845.0,680.4 C1845.0,683.9 1845.4,687.1 1844.0,690.0 C1842.5,692.9 1839.1,695.4 1836.3,697.7 C1833.5,699.9 1828.8,701.5 1827.2,703.4 C1825.6,705.3 1826.8,704.7 1826.7,709.2 C1826.6,713.7 1832.5,726.9 1826.7,730.5 C1820.9,734.0 1797.5,734.0 1791.7,730.5 C1785.9,726.9 1792.1,713.7 1791.7,709.2 C1791.3,704.7 1792.1,705.3 1789.2,703.4 C1786.3,701.5 1779.2,699.9 1774.3,697.7 C1769.5,695.4 1763.7,692.9 1760.0,690.0 C1756.3,687.1 1753.5,683.9 1752.0,680.4 C1750.5,676.9 1750.6,672.8 1751.1,668.9 C1751.6,665.1 1753.2,661.3 1755.1,657.5 C1757.0,653.6 1760.8,649.5 1762.7,646.0 C1764.5,642.5 1765.4,640.6 1766.4,636.4 C1767.5,632.1 1768.2,625.7 1769.1,620.4 C1770.0,615.1 1770.9,609.8 1771.8,604.5 C1772.7,599.1 1773.6,594.1 1774.6,588.5 C1775.5,582.9 1776.4,576.8 1777.3,570.9 C1778.3,565.1 1779.2,559.2 1780.1,553.4 C1781.1,547.5 1781.3,542.4 1782.9,535.8 C1784.6,529.3 1787.7,521.5 1790.0,514.3 C1792.4,507.1 1794.9,499.3 1797.2,492.7 C1799.5,486.2 1801.7,480.9 1804.0,475.0 C1806.2,469.1 1809.0,461.2 1810.7,457.3 C1812.4,453.4 1812.9,453.2 1814.2,451.6 C1815.5,450.0 1816.5,448.9 1818.7,447.7 C1820.9,446.6 1824.8,444.9 1827.6,444.9 Z"/></clipPath>
<clipPath id="tb17"><path d="M1911.3,450.8 C1914.1,450.8 1917.5,452.5 1919.5,453.6 C1921.5,454.7 1922.1,455.8 1923.1,457.3 C1924.0,458.9 1924.4,459.1 1925.2,462.9 C1925.9,466.8 1926.8,474.5 1927.6,480.2 C1928.5,486.0 1929.4,491.1 1930.1,497.5 C1930.9,503.9 1931.4,511.5 1932.1,518.5 C1932.7,525.5 1933.9,533.1 1934.0,539.5 C1934.1,545.8 1933.0,550.9 1932.5,556.6 C1932.0,562.3 1931.5,568.0 1931.1,573.7 C1930.6,579.4 1930.0,585.4 1929.6,590.8 C1929.2,596.3 1928.8,601.2 1928.4,606.4 C1928.1,611.6 1927.7,616.8 1927.3,622.0 C1926.9,627.1 1926.1,633.4 1926.1,637.5 C1926.2,641.7 1926.6,643.4 1927.6,646.9 C1928.6,650.3 1931.4,654.3 1932.4,658.1 C1933.4,661.8 1933.1,665.5 1933.6,669.3 C1934.1,673.0 1935.0,677.0 1935.2,680.5 C1935.4,683.9 1936.1,687.0 1934.8,689.8 C1933.6,692.6 1930.3,695.1 1927.6,697.3 C1924.9,699.4 1920.3,701.0 1918.7,702.9 C1917.2,704.7 1918.4,703.9 1918.3,708.5 C1918.2,713.0 1924.1,726.6 1918.3,730.2 C1912.5,733.8 1889.1,733.8 1883.3,730.2 C1877.5,726.6 1883.7,713.0 1883.3,708.5 C1882.9,703.9 1883.7,704.7 1880.7,702.9 C1877.8,701.0 1870.6,699.4 1865.6,697.3 C1860.6,695.1 1854.7,692.6 1850.8,689.8 C1846.9,687.0 1843.9,683.9 1842.2,680.5 C1840.5,677.0 1840.3,673.0 1840.6,669.3 C1841.0,665.5 1842.5,661.8 1844.4,658.1 C1846.2,654.3 1849.8,650.3 1851.6,646.9 C1853.4,643.4 1854.2,641.7 1855.1,637.5 C1856.1,633.4 1856.7,627.1 1857.4,622.0 C1858.2,616.8 1858.9,611.6 1859.7,606.4 C1860.5,601.2 1861.2,596.3 1862.0,590.8 C1862.8,585.4 1863.5,579.4 1864.3,573.7 C1865.1,568.0 1865.9,562.3 1866.7,556.6 C1867.4,550.9 1867.5,545.8 1869.0,539.5 C1870.5,533.1 1873.4,525.5 1875.6,518.5 C1877.7,511.5 1880.0,503.9 1882.1,497.5 C1884.3,491.1 1886.3,486.0 1888.4,480.2 C1890.5,474.5 1893.2,466.8 1894.8,462.9 C1896.4,459.1 1896.8,458.9 1898.1,457.3 C1899.4,455.8 1900.3,454.7 1902.5,453.6 C1904.7,452.5 1908.5,450.8 1911.3,450.8 Z"/></clipPath>
<clipPath id="clipc"><rect x="321.5" y="790" width="1621.5" height="286.0"/></clipPath>
<clipPath id="tc0"><path d="M361.9,794.9 C364.7,794.9 368.4,796.7 370.6,797.9 C372.8,799.0 373.7,800.2 374.9,801.8 C376.1,803.5 376.5,803.7 378.0,807.8 C379.5,811.8 381.8,819.9 383.7,826.0 C385.6,832.1 387.5,837.5 389.4,844.2 C391.3,851.0 393.3,859.0 395.2,866.4 C397.2,873.8 399.8,881.9 401.0,888.6 C402.3,895.3 402.2,900.7 402.7,906.7 C403.3,912.7 403.9,918.8 404.5,924.8 C405.0,930.8 405.6,937.1 406.2,942.9 C406.7,948.6 407.3,953.8 407.9,959.3 C408.5,964.8 409.1,970.3 409.6,975.7 C410.2,981.2 410.5,987.8 411.4,992.2 C412.2,996.6 412.9,998.4 414.6,1002.0 C416.2,1005.7 419.7,1009.9 421.4,1013.9 C423.1,1017.8 424.5,1021.8 424.7,1025.7 C425.0,1029.6 424.6,1033.9 422.7,1037.5 C420.9,1041.2 417.8,1044.4 413.9,1047.4 C409.9,1050.4 404.1,1053.0 399.1,1055.3 C394.1,1057.6 387.0,1059.2 384.0,1061.2 C381.1,1063.2 381.9,1062.7 381.5,1067.1 C381.1,1071.6 387.3,1084.4 381.5,1087.8 C375.7,1091.3 352.3,1091.3 346.5,1087.8 C340.7,1084.4 346.6,1071.6 346.5,1067.1 C346.4,1062.7 347.6,1063.2 346.0,1061.2 C344.5,1059.2 339.8,1057.6 337.1,1055.3 C334.4,1053.0 331.1,1050.4 329.9,1047.4 C328.7,1044.4 329.4,1041.2 329.7,1037.5 C330.1,1033.9 331.1,1029.6 331.7,1025.7 C332.3,1021.8 332.3,1017.8 333.4,1013.9 C334.5,1009.9 337.4,1005.7 338.6,1002.0 C339.7,998.4 340.2,996.6 340.4,992.2 C340.6,987.8 340.0,981.2 339.8,975.7 C339.6,970.3 339.4,964.8 339.2,959.3 C339.0,953.8 338.8,948.6 338.6,942.9 C338.3,937.1 338.0,930.8 337.7,924.8 C337.4,918.8 337.2,912.7 336.9,906.7 C336.6,900.7 335.7,895.3 336.0,888.6 C336.3,881.9 337.8,873.8 338.7,866.4 C339.6,859.0 340.4,851.0 341.4,844.2 C342.4,837.5 343.5,832.1 344.5,826.0 C345.5,819.9 346.7,811.8 347.6,807.8 C348.5,803.7 348.9,803.5 349.9,801.8 C350.9,800.2 351.6,799.0 353.6,797.9 C355.6,796.7 359.1,794.9 361.9,794.9 Z"/></clipPath>
<clipPath id="tc1"><path d="M451.7,793.9 C454.5,793.9 458.2,795.8 460.4,796.9 C462.5,798.1 463.4,799.2 464.6,800.9 C465.8,802.5 466.2,802.8 467.6,806.8 C469.0,810.9 471.3,819.0 473.1,825.1 C474.9,831.2 476.7,836.7 478.5,843.5 C480.3,850.2 482.2,858.3 484.0,865.7 C485.8,873.2 488.4,881.3 489.5,888.0 C490.7,894.8 490.5,900.1 491.0,906.2 C491.5,912.2 491.9,918.3 492.4,924.3 C492.9,930.4 493.4,936.7 493.9,942.5 C494.4,948.3 494.9,953.5 495.4,959.0 C495.9,964.5 496.4,970.0 496.9,975.5 C497.4,981.0 497.6,987.6 498.4,992.0 C499.1,996.4 499.8,998.3 501.4,1001.9 C503.1,1005.5 506.5,1009.8 508.1,1013.8 C509.8,1017.7 511.1,1021.7 511.3,1025.7 C511.5,1029.6 511.1,1033.9 509.4,1037.5 C507.7,1041.2 504.8,1044.5 501.0,1047.4 C497.2,1050.4 491.5,1053.0 486.6,1055.4 C481.8,1057.7 474.8,1059.3 471.9,1061.3 C469.1,1063.3 469.9,1062.8 469.5,1067.2 C469.1,1071.7 475.3,1084.4 469.5,1087.9 C463.7,1091.3 440.3,1091.3 434.5,1087.9 C428.7,1084.4 434.6,1071.7 434.5,1067.2 C434.4,1062.8 435.6,1063.3 433.9,1061.3 C432.3,1059.3 427.4,1057.7 424.6,1055.4 C421.8,1053.0 418.4,1050.4 417.0,1047.4 C415.6,1044.5 416.2,1041.2 416.4,1037.5 C416.6,1033.9 417.7,1029.6 418.3,1025.7 C418.9,1021.7 418.9,1017.7 420.1,1013.8 C421.3,1009.8 424.2,1005.5 425.4,1001.9 C426.7,998.3 427.1,996.4 427.4,992.0 C427.6,987.6 427.1,981.0 427.0,975.5 C426.9,970.0 426.8,964.5 426.7,959.0 C426.5,953.5 426.4,948.3 426.3,942.5 C426.1,936.7 425.9,930.4 425.7,924.3 C425.5,918.3 425.3,912.2 425.1,906.2 C424.9,900.1 424.1,894.8 424.5,888.0 C424.9,881.3 426.5,873.2 427.5,865.7 C428.5,858.3 429.4,850.2 430.5,843.5 C431.6,836.7 432.7,831.2 433.9,825.1 C435.0,819.0 436.3,810.9 437.2,806.8 C438.2,802.8 438.6,802.5 439.6,800.9 C440.6,799.2 441.3,798.1 443.4,796.9 C445.4,795.8 448.9,793.9 451.7,793.9 Z"/></clipPath>
<clipPath id="tc2"><path d="M544.1,799.9 C546.9,799.9 550.6,801.6 552.7,802.8 C554.8,803.9 555.7,805.0 556.9,806.6 C558.0,808.2 558.4,808.5 559.8,812.4 C561.1,816.4 563.2,824.3 564.9,830.3 C566.6,836.3 568.3,841.6 570.0,848.2 C571.7,854.8 573.4,862.7 575.1,869.9 C576.8,877.2 579.1,885.1 580.2,891.7 C581.2,898.2 580.9,903.5 581.3,909.4 C581.6,915.3 582.0,921.2 582.4,927.1 C582.8,933.0 583.1,939.2 583.5,944.8 C583.9,950.4 584.3,955.5 584.7,960.9 C585.1,966.3 585.5,971.6 585.9,977.0 C586.3,982.4 586.4,988.8 587.1,993.1 C587.8,997.4 588.4,999.2 589.9,1002.8 C591.5,1006.3 594.8,1010.5 596.4,1014.4 C598.0,1018.2 599.1,1022.1 599.3,1026.0 C599.5,1029.8 599.2,1034.0 597.6,1037.6 C596.0,1041.1 593.3,1044.3 589.6,1047.2 C586.0,1050.1 580.4,1052.7 575.7,1055.0 C571.0,1057.2 564.2,1058.8 561.4,1060.7 C558.6,1062.7 559.5,1062.1 559.1,1066.5 C558.7,1071.0 564.9,1084.1 559.1,1087.6 C553.3,1091.1 529.9,1091.1 524.1,1087.6 C518.3,1084.1 524.2,1071.0 524.1,1066.5 C524.0,1062.1 525.1,1062.7 523.4,1060.7 C521.7,1058.8 516.7,1057.2 513.7,1055.0 C510.7,1052.7 507.1,1050.1 505.6,1047.2 C504.1,1044.3 504.5,1041.1 504.6,1037.6 C504.7,1034.0 505.7,1029.8 506.3,1026.0 C507.0,1022.1 507.1,1018.2 508.4,1014.4 C509.7,1010.5 512.7,1006.3 513.9,1002.8 C515.2,999.2 515.7,997.4 516.1,993.1 C516.4,988.8 516.0,982.4 516.0,977.0 C516.0,971.6 516.0,966.3 516.0,960.9 C515.9,955.5 516.0,950.4 515.9,944.8 C515.9,939.2 515.7,933.0 515.7,927.1 C515.6,921.2 515.5,915.3 515.4,909.4 C515.3,903.5 514.6,898.2 515.2,891.7 C515.7,885.1 517.4,877.2 518.6,869.9 C519.7,862.7 520.8,854.8 522.0,848.2 C523.2,841.6 524.4,836.3 525.7,830.3 C526.9,824.3 528.4,816.4 529.4,812.4 C530.4,808.5 530.8,808.2 531.9,806.6 C532.9,805.0 533.7,803.9 535.7,802.8 C537.8,801.6 541.3,799.9 544.1,799.9 Z"/></clipPath>
<clipPath id="tc3"><path d="M636.4,796.9 C639.2,796.9 642.9,798.7 645.0,799.8 C647.2,801.0 648.0,802.1 649.2,803.8 C650.4,805.4 650.8,805.6 652.1,809.6 C653.5,813.6 655.5,821.7 657.3,827.7 C659.0,833.7 660.7,839.1 662.4,845.8 C664.1,852.5 665.8,860.5 667.6,867.8 C669.3,875.2 671.7,883.2 672.7,889.8 C673.8,896.5 673.5,901.8 673.9,907.8 C674.3,913.7 674.6,919.7 675.0,925.7 C675.4,931.7 675.8,937.9 676.2,943.6 C676.6,949.3 677.0,954.5 677.4,959.9 C677.9,965.4 678.3,970.8 678.7,976.2 C679.1,981.7 679.2,988.2 679.9,992.5 C680.6,996.9 681.2,998.7 682.8,1002.3 C684.4,1005.9 687.7,1010.2 689.3,1014.1 C690.9,1018.0 692.0,1021.9 692.3,1025.8 C692.5,1029.7 692.4,1034.0 690.9,1037.5 C689.4,1041.1 687.0,1044.4 683.5,1047.3 C680.0,1050.3 674.6,1052.9 670.0,1055.2 C665.5,1057.4 658.8,1059.1 656.1,1061.0 C653.4,1063.0 654.3,1062.4 653.9,1066.9 C653.5,1071.3 659.7,1084.3 653.9,1087.7 C648.1,1091.2 624.7,1091.2 618.9,1087.7 C613.1,1084.3 619.0,1071.3 618.9,1066.9 C618.8,1062.4 619.9,1063.0 618.1,1061.0 C616.3,1059.1 611.1,1057.4 608.0,1055.2 C605.0,1052.9 601.2,1050.3 599.5,1047.3 C597.8,1044.4 597.9,1041.1 597.9,1037.5 C597.9,1034.0 598.7,1029.7 599.3,1025.8 C599.8,1021.9 600.0,1018.0 601.3,1014.1 C602.5,1010.2 605.5,1005.9 606.8,1002.3 C608.1,998.7 608.6,996.9 608.9,992.5 C609.2,988.2 608.8,981.7 608.8,976.2 C608.8,970.8 608.7,965.4 608.7,959.9 C608.7,954.5 608.7,949.3 608.6,943.6 C608.5,937.9 608.4,931.7 608.3,925.7 C608.2,919.7 608.1,913.7 608.0,907.8 C607.9,901.8 607.2,896.5 607.7,889.8 C608.2,883.2 609.9,875.2 611.1,867.8 C612.2,860.5 613.2,852.5 614.4,845.8 C615.6,839.1 616.8,833.7 618.1,827.7 C619.3,821.7 620.7,813.6 621.7,809.6 C622.7,805.6 623.1,805.4 624.2,803.8 C625.2,802.1 626.0,801.0 628.0,799.8 C630.1,798.7 633.6,796.9 636.4,796.9 Z"/></clipPath>
<clipPath id="tc4"><path d="M721.2,794.9 C724.0,794.9 727.7,796.7 729.8,797.9 C732.0,799.0 732.8,800.2 734.0,801.8 C735.2,803.5 735.6,803.7 737.0,807.8 C738.3,811.8 740.4,819.9 742.2,826.0 C743.9,832.1 745.6,837.5 747.4,844.2 C749.1,851.0 750.8,859.0 752.6,866.4 C754.3,873.8 756.7,881.9 757.8,888.6 C758.9,895.3 758.6,900.7 759.0,906.7 C759.5,912.7 759.9,918.8 760.3,924.8 C760.7,930.8 761.1,937.1 761.5,942.9 C761.9,948.6 762.4,953.8 762.8,959.3 C763.2,964.8 763.6,970.3 764.1,975.7 C764.5,981.2 764.7,987.8 765.4,992.2 C766.1,996.6 766.7,998.4 768.3,1002.0 C769.9,1005.7 773.2,1009.9 774.8,1013.9 C776.4,1017.8 777.5,1021.8 777.8,1025.7 C778.2,1029.6 778.1,1033.9 776.8,1037.5 C775.5,1041.2 773.3,1044.4 770.0,1047.4 C766.7,1050.4 761.4,1053.0 756.9,1055.3 C752.5,1057.6 745.9,1059.2 743.3,1061.2 C740.7,1063.2 741.5,1062.7 741.2,1067.1 C740.9,1071.6 747.0,1084.4 741.2,1087.8 C735.4,1091.3 712.0,1091.3 706.2,1087.8 C700.4,1084.4 706.4,1071.6 706.2,1067.1 C706.0,1062.7 707.2,1063.2 705.3,1061.2 C703.4,1059.2 698.1,1057.6 694.9,1055.3 C691.7,1053.0 687.8,1050.4 686.0,1047.4 C684.1,1044.4 684.0,1041.2 683.8,1037.5 C683.6,1033.9 684.3,1029.6 684.8,1025.7 C685.3,1021.8 685.6,1017.8 686.8,1013.9 C688.1,1009.9 691.0,1005.7 692.3,1002.0 C693.6,998.4 694.0,996.6 694.4,992.2 C694.7,987.8 694.3,981.2 694.2,975.7 C694.2,970.3 694.1,964.8 694.1,959.3 C694.0,953.8 694.0,948.6 693.9,942.9 C693.8,937.1 693.7,930.8 693.5,924.8 C693.4,918.8 693.3,912.7 693.2,906.7 C693.1,900.7 692.3,895.3 692.8,888.6 C693.3,881.9 695.0,873.8 696.1,866.4 C697.2,859.0 698.2,851.0 699.4,844.2 C700.5,837.5 701.8,832.1 703.0,826.0 C704.2,819.9 705.6,811.8 706.6,807.8 C707.6,803.7 708.0,803.5 709.0,801.8 C710.0,800.2 710.8,799.0 712.8,797.9 C714.9,796.7 718.4,794.9 721.2,794.9 Z"/></clipPath>
<clipPath id="tc5"><path d="M826.0,796.9 C828.8,796.9 832.4,798.7 834.5,799.8 C836.5,801.0 837.3,802.1 838.4,803.8 C839.5,805.4 839.9,805.6 841.0,809.6 C842.1,813.6 843.8,821.7 845.1,827.7 C846.5,833.7 847.9,839.1 849.2,845.8 C850.6,852.5 851.9,860.5 853.2,867.8 C854.5,875.2 856.4,883.2 857.1,889.8 C857.7,896.5 857.2,901.8 857.2,907.8 C857.3,913.7 857.3,919.7 857.4,925.7 C857.4,931.7 857.5,937.9 857.5,943.6 C857.6,949.3 857.8,954.5 857.9,959.9 C858.0,965.4 858.1,970.8 858.2,976.2 C858.3,981.7 858.0,988.2 858.5,992.5 C858.9,996.9 859.5,998.7 860.8,1002.3 C862.2,1005.9 865.3,1010.2 866.7,1014.1 C868.0,1018.0 868.8,1021.9 869.0,1025.8 C869.1,1029.7 868.9,1034.0 867.6,1037.5 C866.3,1041.1 864.3,1044.4 861.1,1047.3 C857.9,1050.3 852.8,1052.9 848.5,1055.2 C844.2,1057.4 837.9,1059.1 835.4,1061.0 C832.9,1063.0 833.8,1062.4 833.5,1066.9 C833.2,1071.3 839.3,1084.3 833.5,1087.7 C827.7,1091.2 804.3,1091.2 798.5,1087.7 C792.7,1084.3 798.7,1071.3 798.5,1066.9 C798.3,1062.4 799.4,1063.0 797.4,1061.0 C795.4,1059.1 789.9,1057.4 786.5,1055.2 C783.1,1052.9 779.1,1050.3 777.1,1047.3 C775.1,1044.4 774.8,1041.1 774.6,1037.5 C774.4,1034.0 775.3,1029.7 776.0,1025.8 C776.7,1021.9 777.2,1018.0 778.7,1014.1 C780.1,1010.2 783.4,1005.9 784.8,1002.3 C786.3,998.7 786.9,996.9 787.5,992.5 C788.1,988.2 788.0,981.7 788.3,976.2 C788.6,970.8 788.9,965.4 789.1,959.9 C789.4,954.5 789.7,949.3 789.9,943.6 C790.2,937.9 790.4,931.7 790.7,925.7 C790.9,919.7 791.1,913.7 791.4,907.8 C791.6,901.8 791.2,896.5 792.1,889.8 C793.0,883.2 795.1,875.2 796.7,867.8 C798.2,860.5 799.7,852.5 801.2,845.8 C802.8,839.1 804.4,833.7 805.9,827.7 C807.5,821.7 809.4,813.6 810.6,809.6 C811.8,805.6 812.3,805.4 813.4,803.8 C814.5,802.1 815.4,801.0 817.5,799.8 C819.6,798.7 823.2,796.9 826.0,796.9 Z"/></clipPath>
<clipPath id="tc6"><path d="M910.9,796.9 C913.7,796.9 917.3,798.7 919.4,799.8 C921.5,801.0 922.3,802.1 923.4,803.8 C924.5,805.4 924.9,805.6 926.1,809.6 C927.3,813.6 929.0,821.7 930.4,827.7 C931.9,833.7 933.4,839.1 934.8,845.8 C936.2,852.5 937.6,860.5 939.0,867.8 C940.4,875.2 942.5,883.2 943.2,889.8 C944.0,896.5 943.5,901.8 943.6,907.8 C943.8,913.7 943.9,919.7 944.0,925.7 C944.2,931.7 944.3,937.9 944.4,943.6 C944.6,949.3 944.8,954.5 945.0,959.9 C945.1,965.4 945.3,970.8 945.5,976.2 C945.7,981.7 945.5,988.2 946.0,992.5 C946.5,996.9 947.1,998.7 948.5,1002.3 C949.9,1005.9 953.1,1010.2 954.5,1014.1 C955.9,1018.0 956.7,1021.9 957.0,1025.8 C957.2,1029.7 957.2,1034.0 956.1,1037.5 C955.0,1041.1 953.2,1044.4 950.2,1047.3 C947.2,1050.3 942.2,1052.9 938.0,1055.2 C933.9,1057.4 927.6,1059.1 925.2,1061.0 C922.7,1063.0 923.7,1062.4 923.4,1066.9 C923.1,1071.3 929.2,1084.3 923.4,1087.7 C917.6,1091.2 894.2,1091.2 888.4,1087.7 C882.6,1084.3 888.6,1071.3 888.4,1066.9 C888.2,1062.4 889.2,1063.0 887.2,1061.0 C885.1,1059.1 879.5,1057.4 876.0,1055.2 C872.5,1052.9 868.3,1050.3 866.2,1047.3 C864.0,1044.4 863.5,1041.1 863.1,1037.5 C862.7,1034.0 863.4,1029.7 864.0,1025.8 C864.5,1021.9 865.1,1018.0 866.5,1014.1 C867.9,1010.2 871.1,1005.9 872.5,1002.3 C873.9,998.7 874.5,996.9 875.0,992.5 C875.6,988.2 875.4,981.7 875.6,976.2 C875.8,970.8 876.0,965.4 876.2,959.9 C876.4,954.5 876.7,949.3 876.8,943.6 C877.0,937.9 877.1,931.7 877.3,925.7 C877.5,919.7 877.6,913.7 877.8,907.8 C877.9,901.8 877.4,896.5 878.2,889.8 C879.0,883.2 881.1,875.2 882.5,867.8 C884.0,860.5 885.4,852.5 886.8,845.8 C888.3,839.1 889.8,833.7 891.2,827.7 C892.7,821.7 894.5,813.6 895.7,809.6 C896.9,805.6 897.3,805.4 898.4,803.8 C899.5,802.1 900.3,801.0 902.4,799.8 C904.5,798.7 908.1,796.9 910.9,796.9 Z"/></clipPath>
<clipPath id="tc7"><path d="M1003.2,796.9 C1006.0,796.9 1009.6,798.7 1011.7,799.8 C1013.8,801.0 1014.6,802.1 1015.7,803.8 C1016.8,805.4 1017.2,805.6 1018.4,809.6 C1019.6,813.6 1021.4,821.7 1022.8,827.7 C1024.3,833.7 1025.8,839.1 1027.2,845.8 C1028.7,852.5 1030.1,860.5 1031.5,867.8 C1032.9,875.2 1035.0,883.2 1035.8,889.8 C1036.6,896.5 1036.1,901.8 1036.2,907.8 C1036.4,913.7 1036.5,919.7 1036.7,925.7 C1036.8,931.7 1037.0,937.9 1037.1,943.6 C1037.3,949.3 1037.5,954.5 1037.7,959.9 C1037.9,965.4 1038.1,970.8 1038.3,976.2 C1038.5,981.7 1038.4,988.2 1038.9,992.5 C1039.4,996.9 1040.0,998.7 1041.4,1002.3 C1042.8,1005.9 1046.0,1010.2 1047.4,1014.1 C1048.8,1018.0 1049.6,1021.9 1049.9,1025.8 C1050.2,1029.7 1050.4,1034.0 1049.4,1037.5 C1048.4,1041.1 1046.9,1044.4 1044.1,1047.3 C1041.2,1050.3 1036.4,1052.9 1032.4,1055.2 C1028.4,1057.4 1022.2,1059.1 1019.9,1061.0 C1017.5,1063.0 1018.5,1062.4 1018.2,1066.9 C1017.9,1071.3 1024.0,1084.3 1018.2,1087.7 C1012.4,1091.2 989.0,1091.2 983.2,1087.7 C977.4,1084.3 983.4,1071.3 983.2,1066.9 C983.0,1062.4 984.0,1063.0 981.9,1061.0 C979.7,1059.1 974.0,1057.4 970.4,1055.2 C966.7,1052.9 962.4,1050.3 960.1,1047.3 C957.7,1044.4 956.9,1041.1 956.4,1037.5 C955.9,1034.0 956.4,1029.7 956.9,1025.8 C957.4,1021.9 958.0,1018.0 959.4,1014.1 C960.8,1010.2 964.0,1005.9 965.4,1002.3 C966.8,998.7 967.4,996.9 967.9,992.5 C968.4,988.2 968.2,981.7 968.4,976.2 C968.6,970.8 968.8,965.4 969.0,959.9 C969.2,954.5 969.4,949.3 969.5,943.6 C969.7,937.9 969.8,931.7 969.9,925.7 C970.1,919.7 970.2,913.7 970.4,907.8 C970.5,901.8 970.0,896.5 970.8,889.8 C971.6,883.2 973.6,875.2 975.0,867.8 C976.4,860.5 977.8,852.5 979.2,845.8 C980.7,839.1 982.2,833.7 983.6,827.7 C985.1,821.7 986.8,813.6 988.0,809.6 C989.2,805.6 989.6,805.4 990.7,803.8 C991.8,802.1 992.6,801.0 994.7,799.8 C996.8,798.7 1000.4,796.9 1003.2,796.9 Z"/></clipPath>
<clipPath id="tc8"><path d="M1100.6,800.8 C1103.4,800.8 1106.9,802.6 1109.0,803.7 C1111.0,804.9 1111.8,806.0 1112.8,807.6 C1113.9,809.2 1114.3,809.4 1115.3,813.4 C1116.4,817.3 1117.8,825.2 1119.0,831.2 C1120.3,837.1 1121.6,842.4 1122.8,849.0 C1123.9,855.5 1125.0,863.4 1126.2,870.6 C1127.3,877.8 1129.1,885.7 1129.6,892.3 C1130.1,898.8 1129.4,904.0 1129.4,909.9 C1129.3,915.8 1129.2,921.7 1129.1,927.5 C1129.0,933.4 1128.9,939.6 1128.9,945.2 C1128.8,950.8 1128.8,955.9 1128.8,961.2 C1128.8,966.6 1128.8,971.9 1128.8,977.3 C1128.8,982.6 1128.4,989.0 1128.7,993.3 C1129.1,997.6 1129.6,999.4 1130.9,1002.9 C1132.1,1006.4 1135.1,1010.6 1136.4,1014.5 C1137.7,1018.3 1138.2,1022.2 1138.5,1026.0 C1138.7,1029.9 1138.8,1034.0 1137.9,1037.6 C1136.9,1041.1 1135.6,1044.3 1132.9,1047.2 C1130.2,1050.1 1125.5,1052.6 1121.7,1054.9 C1117.8,1057.1 1111.9,1058.7 1109.6,1060.7 C1107.3,1062.6 1108.4,1061.9 1108.1,1066.4 C1107.8,1070.9 1113.9,1084.0 1108.1,1087.5 C1102.3,1091.1 1078.9,1091.1 1073.1,1087.5 C1067.3,1084.0 1073.3,1070.9 1073.1,1066.4 C1072.9,1061.9 1073.8,1062.6 1071.6,1060.7 C1069.4,1058.7 1063.5,1057.1 1059.7,1054.9 C1055.9,1052.6 1051.3,1050.1 1048.9,1047.2 C1046.4,1044.3 1045.4,1041.1 1044.9,1037.6 C1044.3,1034.0 1044.9,1029.9 1045.5,1026.0 C1046.1,1022.2 1046.8,1018.3 1048.4,1014.5 C1050.0,1010.6 1053.3,1006.4 1054.9,1002.9 C1056.4,999.4 1057.0,997.6 1057.7,993.3 C1058.4,989.0 1058.5,982.6 1058.9,977.3 C1059.3,971.9 1059.7,966.6 1060.1,961.2 C1060.5,955.9 1060.9,950.8 1061.3,945.2 C1061.6,939.6 1062.0,933.4 1062.4,927.5 C1062.7,921.7 1063.1,915.8 1063.5,909.9 C1063.9,904.0 1063.6,898.8 1064.6,892.3 C1065.6,885.7 1068.0,877.8 1069.7,870.6 C1071.4,863.4 1073.1,855.5 1074.8,849.0 C1076.4,842.4 1078.1,837.1 1079.8,831.2 C1081.5,825.2 1083.6,817.3 1084.9,813.4 C1086.3,809.4 1086.7,809.2 1087.8,807.6 C1089.0,806.0 1089.9,804.9 1092.0,803.7 C1094.1,802.6 1097.8,800.8 1100.6,800.8 Z"/></clipPath>
<clipPath id="tc9"><path d="M1180.7,797.9 C1183.5,797.9 1187.1,799.7 1189.1,800.8 C1191.2,801.9 1192.0,803.1 1193.0,804.7 C1194.1,806.3 1194.5,806.6 1195.6,810.6 C1196.7,814.5 1198.2,822.6 1199.5,828.6 C1200.9,834.6 1202.2,839.9 1203.5,846.6 C1204.8,853.3 1206.0,861.2 1207.2,868.5 C1208.4,875.8 1210.3,883.8 1210.9,890.4 C1211.5,897.1 1210.9,902.3 1210.9,908.3 C1210.9,914.3 1210.9,920.2 1210.9,926.2 C1210.9,932.1 1210.9,938.3 1210.9,944.0 C1210.9,949.7 1211.0,954.8 1211.1,960.3 C1211.1,965.7 1211.2,971.1 1211.2,976.5 C1211.3,981.9 1211.0,988.4 1211.4,992.7 C1211.8,997.1 1212.3,998.9 1213.7,1002.5 C1215.0,1006.0 1218.0,1010.3 1219.4,1014.2 C1220.7,1018.1 1221.2,1022.0 1221.6,1025.9 C1221.9,1029.8 1222.2,1034.0 1221.4,1037.5 C1220.7,1041.1 1219.6,1044.4 1217.0,1047.3 C1214.5,1050.2 1210.0,1052.8 1206.2,1055.1 C1202.4,1057.4 1196.6,1059.0 1194.4,1060.9 C1192.2,1062.9 1193.2,1062.3 1193.0,1066.8 C1192.8,1071.2 1198.8,1084.2 1193.0,1087.7 C1187.2,1091.2 1163.8,1091.2 1158.0,1087.7 C1152.2,1084.2 1158.3,1071.2 1158.0,1066.8 C1157.7,1062.3 1158.7,1062.9 1156.4,1060.9 C1154.1,1059.0 1148.1,1057.4 1144.2,1055.1 C1140.3,1052.8 1135.7,1050.2 1133.0,1047.3 C1130.4,1044.4 1129.2,1041.1 1128.4,1037.5 C1127.7,1034.0 1128.1,1029.8 1128.6,1025.9 C1129.1,1022.0 1129.8,1018.1 1131.4,1014.2 C1132.9,1010.3 1136.1,1006.0 1137.7,1002.5 C1139.2,998.9 1139.8,997.1 1140.4,992.7 C1141.0,988.4 1141.0,981.9 1141.4,976.5 C1141.7,971.1 1142.0,965.7 1142.3,960.3 C1142.6,954.8 1143.0,949.7 1143.3,944.0 C1143.6,938.3 1143.9,932.1 1144.2,926.2 C1144.5,920.2 1144.7,914.3 1145.0,908.3 C1145.3,902.3 1145.0,897.1 1145.9,890.4 C1146.9,883.8 1149.1,875.8 1150.7,868.5 C1152.3,861.2 1153.9,853.3 1155.5,846.6 C1157.1,839.9 1158.7,834.6 1160.3,828.6 C1162.0,822.6 1163.9,814.5 1165.2,810.6 C1166.5,806.6 1166.9,806.3 1168.0,804.7 C1169.2,803.1 1170.0,801.9 1172.1,800.8 C1174.2,799.7 1177.9,797.9 1180.7,797.9 Z"/></clipPath>
<clipPath id="tc10"><path d="M1267.1,795.9 C1269.9,795.9 1273.5,797.7 1275.5,798.9 C1277.6,800.0 1278.4,801.2 1279.5,802.8 C1280.5,804.4 1280.9,804.7 1282.0,808.7 C1283.1,812.7 1284.7,820.8 1286.1,826.9 C1287.4,832.9 1288.8,838.3 1290.1,845.0 C1291.4,851.7 1292.6,859.8 1293.9,867.1 C1295.1,874.5 1297.0,882.5 1297.7,889.2 C1298.3,895.9 1297.7,901.2 1297.7,907.2 C1297.7,913.2 1297.7,919.2 1297.8,925.2 C1297.8,931.2 1297.8,937.5 1297.8,943.2 C1297.9,949.0 1298.0,954.2 1298.0,959.6 C1298.1,965.1 1298.2,970.5 1298.3,976.0 C1298.3,981.4 1298.1,988.0 1298.5,992.4 C1298.9,996.7 1299.5,998.6 1300.8,1002.2 C1302.1,1005.8 1305.2,1010.0 1306.5,1014.0 C1307.9,1017.9 1308.4,1021.8 1308.8,1025.8 C1309.2,1029.7 1309.6,1033.9 1309.0,1037.5 C1308.4,1041.1 1307.5,1044.4 1305.2,1047.4 C1302.8,1050.3 1298.4,1052.9 1294.8,1055.2 C1291.2,1057.5 1285.4,1059.2 1283.3,1061.1 C1281.2,1063.1 1282.2,1062.6 1282.0,1067.0 C1281.8,1071.5 1287.8,1084.3 1282.0,1087.8 C1276.2,1091.2 1252.8,1091.2 1247.0,1087.8 C1241.2,1084.3 1247.3,1071.5 1247.0,1067.0 C1246.7,1062.6 1247.7,1063.1 1245.3,1061.1 C1242.9,1059.2 1236.8,1057.5 1232.8,1055.2 C1228.8,1052.9 1224.0,1050.3 1221.2,1047.4 C1218.4,1044.4 1216.9,1041.1 1216.0,1037.5 C1215.1,1033.9 1215.4,1029.7 1215.8,1025.8 C1216.2,1021.8 1217.0,1017.9 1218.5,1014.0 C1220.0,1010.0 1223.3,1005.8 1224.8,1002.2 C1226.3,998.6 1226.9,996.7 1227.5,992.4 C1228.1,988.0 1228.1,981.4 1228.4,976.0 C1228.7,970.5 1229.0,965.1 1229.3,959.6 C1229.6,954.2 1229.9,949.0 1230.2,943.2 C1230.5,937.5 1230.8,931.2 1231.0,925.2 C1231.3,919.2 1231.6,913.2 1231.8,907.2 C1232.1,901.2 1231.7,895.9 1232.7,889.2 C1233.6,882.5 1235.8,874.5 1237.4,867.1 C1238.9,859.8 1240.5,851.7 1242.1,845.0 C1243.7,838.3 1245.3,832.9 1246.9,826.9 C1248.4,820.8 1250.4,812.7 1251.6,808.7 C1252.9,804.7 1253.3,804.4 1254.5,802.8 C1255.6,801.2 1256.4,800.0 1258.5,798.9 C1260.6,797.7 1264.3,795.9 1267.1,795.9 Z"/></clipPath>
<clipPath id="tc11"><path d="M1366.6,797.9 C1369.4,797.9 1372.9,799.7 1375.0,800.8 C1377.0,801.9 1377.7,803.1 1378.8,804.7 C1379.8,806.3 1380.2,806.6 1381.2,810.6 C1382.1,814.5 1383.5,822.6 1384.6,828.6 C1385.8,834.6 1387.0,839.9 1388.1,846.6 C1389.2,853.3 1390.2,861.2 1391.3,868.5 C1392.3,875.8 1393.9,883.8 1394.4,890.4 C1394.8,897.1 1394.1,902.3 1393.9,908.3 C1393.7,914.3 1393.6,920.2 1393.4,926.2 C1393.3,932.1 1393.1,938.3 1393.0,944.0 C1392.8,949.7 1392.8,954.8 1392.7,960.3 C1392.6,965.7 1392.5,971.1 1392.4,976.5 C1392.3,981.9 1391.9,988.4 1392.2,992.7 C1392.5,997.1 1392.9,998.9 1394.2,1002.5 C1395.4,1006.0 1398.4,1010.3 1399.6,1014.2 C1400.8,1018.1 1401.1,1022.0 1401.5,1025.9 C1401.8,1029.8 1402.2,1034.0 1401.7,1037.5 C1401.2,1041.1 1400.5,1044.4 1398.3,1047.3 C1396.1,1050.2 1391.9,1052.8 1388.4,1055.1 C1384.9,1057.4 1379.4,1059.0 1377.4,1060.9 C1375.3,1062.9 1376.4,1062.3 1376.2,1066.8 C1376.0,1071.2 1382.0,1084.2 1376.2,1087.7 C1370.4,1091.2 1347.0,1091.2 1341.2,1087.7 C1335.4,1084.2 1341.5,1071.2 1341.2,1066.8 C1340.9,1062.3 1341.8,1062.9 1339.4,1060.9 C1336.9,1059.0 1330.6,1057.4 1326.4,1055.1 C1322.2,1052.8 1317.2,1050.2 1314.3,1047.3 C1311.3,1044.4 1309.7,1041.1 1308.7,1037.5 C1307.7,1034.0 1308.0,1029.8 1308.5,1025.9 C1309.0,1022.0 1310.0,1018.1 1311.6,1014.2 C1313.2,1010.3 1316.6,1006.0 1318.2,1002.5 C1319.8,998.9 1320.4,997.1 1321.2,992.7 C1321.9,988.4 1322.1,981.9 1322.6,976.5 C1323.0,971.1 1323.5,965.7 1324.0,960.3 C1324.4,954.8 1324.9,949.7 1325.4,944.0 C1325.8,938.3 1326.3,932.1 1326.7,926.2 C1327.1,920.2 1327.6,914.3 1328.0,908.3 C1328.5,902.3 1328.3,897.1 1329.4,890.4 C1330.5,883.8 1333.0,875.8 1334.8,868.5 C1336.5,861.2 1338.3,853.3 1340.1,846.6 C1341.9,839.9 1343.7,834.6 1345.4,828.6 C1347.2,822.6 1349.4,814.5 1350.8,810.6 C1352.1,806.6 1352.6,806.3 1353.8,804.7 C1355.0,803.1 1355.8,801.9 1358.0,800.8 C1360.1,799.7 1363.8,797.9 1366.6,797.9 Z"/></clipPath>
<clipPath id="tc12"><path d="M1452.9,802.8 C1455.7,802.8 1459.2,804.6 1461.2,805.7 C1463.2,806.8 1464.0,807.9 1465.0,809.5 C1466.0,811.1 1466.4,811.3 1467.4,815.2 C1468.3,819.1 1469.6,827.0 1470.7,832.9 C1471.8,838.8 1473.0,844.0 1474.1,850.5 C1475.1,857.1 1476.1,864.8 1477.1,872.0 C1478.0,879.2 1479.6,887.0 1480.0,893.5 C1480.4,900.0 1479.6,905.1 1479.4,911.0 C1479.2,916.8 1479.0,922.6 1478.8,928.5 C1478.6,934.3 1478.4,940.4 1478.2,946.0 C1478.1,951.5 1478.0,956.6 1477.9,961.9 C1477.7,967.2 1477.6,972.5 1477.5,977.8 C1477.4,983.1 1476.8,989.4 1477.1,993.7 C1477.4,997.9 1477.8,999.7 1479.0,1003.2 C1480.2,1006.7 1483.2,1010.9 1484.4,1014.7 C1485.5,1018.5 1485.8,1022.3 1486.2,1026.1 C1486.6,1029.9 1487.0,1034.1 1486.6,1037.6 C1486.2,1041.1 1485.8,1044.2 1483.7,1047.1 C1481.7,1050.0 1477.6,1052.5 1474.2,1054.7 C1470.9,1057.0 1465.5,1058.6 1463.5,1060.5 C1461.6,1062.4 1462.7,1061.7 1462.5,1066.2 C1462.3,1070.7 1468.3,1083.9 1462.5,1087.5 C1456.7,1091.0 1433.3,1091.0 1427.5,1087.5 C1421.7,1083.9 1427.8,1070.7 1427.5,1066.2 C1427.2,1061.7 1428.1,1062.4 1425.5,1060.5 C1423.0,1058.6 1416.5,1057.0 1412.2,1054.7 C1407.9,1052.5 1402.8,1050.0 1399.7,1047.1 C1396.6,1044.2 1394.7,1041.1 1393.6,1037.6 C1392.5,1034.1 1392.7,1029.9 1393.2,1026.1 C1393.6,1022.3 1394.7,1018.5 1396.4,1014.7 C1398.0,1010.9 1401.4,1006.7 1403.0,1003.2 C1404.7,999.7 1405.3,997.9 1406.1,993.7 C1406.9,989.4 1407.1,983.1 1407.6,977.8 C1408.1,972.5 1408.6,967.2 1409.1,961.9 C1409.6,956.6 1410.1,951.5 1410.6,946.0 C1411.1,940.4 1411.6,934.3 1412.1,928.5 C1412.6,922.6 1413.1,916.8 1413.6,911.0 C1414.1,905.1 1413.9,900.0 1415.0,893.5 C1416.2,887.0 1418.7,879.2 1420.6,872.0 C1422.4,864.8 1424.2,857.1 1426.1,850.5 C1427.9,844.0 1429.7,838.8 1431.5,832.9 C1433.3,827.0 1435.6,819.1 1437.0,815.2 C1438.4,811.3 1438.8,811.1 1440.0,809.5 C1441.2,807.9 1442.1,806.8 1444.2,805.7 C1446.4,804.6 1450.1,802.8 1452.9,802.8 Z"/></clipPath>
<clipPath id="tc13"><path d="M1536.7,802.8 C1539.5,802.8 1543.0,804.6 1545.0,805.7 C1547.1,806.8 1547.8,807.9 1548.8,809.5 C1549.9,811.1 1550.2,811.3 1551.2,815.2 C1552.2,819.1 1553.5,827.0 1554.6,832.9 C1555.8,838.8 1557.0,844.0 1558.1,850.5 C1559.1,857.1 1560.1,864.8 1561.1,872.0 C1562.1,879.2 1563.8,887.0 1564.2,893.5 C1564.6,900.0 1563.8,905.1 1563.7,911.0 C1563.5,916.8 1563.3,922.6 1563.1,928.5 C1562.9,934.3 1562.7,940.4 1562.6,946.0 C1562.4,951.5 1562.4,956.6 1562.3,961.9 C1562.2,967.2 1562.1,972.5 1562.0,977.8 C1561.9,983.1 1561.4,989.4 1561.6,993.7 C1561.9,997.9 1562.4,999.7 1563.6,1003.2 C1564.8,1006.7 1567.8,1010.9 1569.0,1014.7 C1570.2,1018.5 1570.4,1022.3 1570.9,1026.1 C1571.3,1029.9 1571.9,1034.1 1571.7,1037.6 C1571.4,1041.1 1571.2,1044.2 1569.3,1047.1 C1567.4,1050.0 1563.5,1052.5 1560.2,1054.7 C1557.0,1057.0 1551.7,1058.6 1549.8,1060.5 C1548.0,1062.4 1549.1,1061.7 1548.9,1066.2 C1548.7,1070.7 1554.7,1083.9 1548.9,1087.5 C1543.1,1091.0 1519.7,1091.0 1513.9,1087.5 C1508.1,1083.9 1514.2,1070.7 1513.9,1066.2 C1513.6,1061.7 1514.5,1062.4 1511.8,1060.5 C1509.2,1058.6 1502.7,1057.0 1498.2,1054.7 C1493.8,1052.5 1488.6,1050.0 1485.3,1047.1 C1482.0,1044.2 1479.9,1041.1 1478.7,1037.6 C1477.4,1034.1 1477.5,1029.9 1477.9,1026.1 C1478.2,1022.3 1479.4,1018.5 1481.0,1014.7 C1482.6,1010.9 1486.0,1006.7 1487.6,1003.2 C1489.2,999.7 1489.9,997.9 1490.6,993.7 C1491.4,989.4 1491.6,983.1 1492.1,977.8 C1492.6,972.5 1493.1,967.2 1493.5,961.9 C1494.0,956.6 1494.5,951.5 1495.0,946.0 C1495.5,940.4 1495.9,934.3 1496.4,928.5 C1496.9,922.6 1497.3,916.8 1497.8,911.0 C1498.3,905.1 1498.0,900.0 1499.2,893.5 C1500.3,887.0 1502.8,879.2 1504.6,872.0 C1506.4,864.8 1508.3,857.1 1510.1,850.5 C1511.9,844.0 1513.6,838.8 1515.4,832.9 C1517.2,827.0 1519.4,819.1 1520.8,815.2 C1522.2,811.3 1522.6,811.1 1523.8,809.5 C1525.0,807.9 1525.9,806.8 1528.0,805.7 C1530.2,804.6 1533.9,802.8 1536.7,802.8 Z"/></clipPath>
<clipPath id="tc14"><path d="M1641.4,805.8 C1644.2,805.8 1647.6,807.5 1649.6,808.6 C1651.6,809.7 1652.3,810.8 1653.3,812.4 C1654.2,813.9 1654.6,814.2 1655.4,818.0 C1656.2,821.9 1657.2,829.7 1658.1,835.5 C1659.0,841.3 1660.0,846.5 1660.8,852.9 C1661.6,859.3 1662.2,867.0 1663.0,874.1 C1663.7,881.2 1665.0,888.9 1665.1,895.3 C1665.3,901.7 1664.3,906.8 1663.9,912.6 C1663.5,918.3 1663.0,924.1 1662.6,929.8 C1662.2,935.6 1661.7,941.6 1661.4,947.1 C1661.0,952.6 1660.7,957.6 1660.4,962.8 C1660.1,968.1 1659.7,973.3 1659.4,978.5 C1659.1,983.8 1658.3,990.0 1658.4,994.2 C1658.5,998.4 1658.9,1000.2 1660.0,1003.7 C1661.1,1007.1 1663.9,1011.2 1664.9,1015.0 C1666.0,1018.7 1666.0,1022.5 1666.3,1026.3 C1666.7,1030.0 1667.2,1034.1 1667.0,1037.6 C1666.8,1041.0 1666.8,1044.2 1665.0,1047.0 C1663.3,1049.8 1659.6,1052.3 1656.5,1054.5 C1653.4,1056.7 1648.3,1058.3 1646.6,1060.2 C1644.8,1062.1 1645.9,1061.3 1645.8,1065.9 C1645.7,1070.4 1651.6,1083.7 1645.8,1087.3 C1640.0,1090.9 1616.6,1090.9 1610.8,1087.3 C1605.0,1083.7 1611.2,1070.4 1610.8,1065.9 C1610.4,1061.3 1611.3,1062.1 1608.6,1060.2 C1605.8,1058.3 1599.1,1056.7 1594.5,1054.5 C1589.9,1052.3 1584.5,1049.8 1581.0,1047.0 C1577.6,1044.2 1575.3,1041.0 1574.0,1037.6 C1572.7,1034.1 1572.8,1030.0 1573.3,1026.3 C1573.8,1022.5 1575.1,1018.7 1576.9,1015.0 C1578.7,1011.2 1582.3,1007.1 1584.0,1003.7 C1585.8,1000.2 1586.5,998.4 1587.4,994.2 C1588.4,990.0 1588.8,983.8 1589.5,978.5 C1590.2,973.3 1590.9,968.1 1591.7,962.8 C1592.4,957.6 1593.1,952.6 1593.8,947.1 C1594.5,941.6 1595.2,935.6 1595.9,929.8 C1596.6,924.1 1597.3,918.3 1598.0,912.6 C1598.7,906.8 1598.7,901.7 1600.1,895.3 C1601.5,888.9 1604.3,881.2 1606.5,874.1 C1608.6,867.0 1610.7,859.3 1612.8,852.9 C1614.9,846.5 1616.9,841.3 1618.9,835.5 C1620.9,829.7 1623.4,821.9 1625.0,818.0 C1626.6,814.2 1627.0,813.9 1628.3,812.4 C1629.5,810.8 1630.4,809.7 1632.6,808.6 C1634.8,807.5 1638.6,805.8 1641.4,805.8 Z"/></clipPath>
<clipPath id="tc15"><path d="M1733.0,805.8 C1735.8,805.8 1739.2,807.5 1741.2,808.6 C1743.2,809.7 1743.9,810.8 1744.8,812.4 C1745.8,813.9 1746.1,814.2 1746.9,818.0 C1747.7,821.9 1748.6,829.7 1749.5,835.5 C1750.3,841.3 1751.3,846.5 1752.0,852.9 C1752.8,859.3 1753.4,867.0 1754.0,874.1 C1754.7,881.2 1755.9,888.9 1756.0,895.3 C1756.1,901.7 1755.1,906.8 1754.6,912.6 C1754.2,918.3 1753.7,924.1 1753.3,929.8 C1752.8,935.6 1752.3,941.6 1751.9,947.1 C1751.4,952.6 1751.1,957.6 1750.8,962.8 C1750.4,968.1 1750.0,973.3 1749.7,978.5 C1749.3,983.8 1748.5,990.0 1748.6,994.2 C1748.7,998.4 1749.0,1000.2 1750.1,1003.7 C1751.1,1007.1 1753.9,1011.2 1754.9,1015.0 C1755.9,1018.7 1755.8,1022.5 1756.2,1026.3 C1756.6,1030.0 1757.2,1034.1 1757.1,1037.6 C1757.1,1041.0 1757.3,1044.2 1755.7,1047.0 C1754.1,1049.8 1750.5,1052.3 1747.6,1054.5 C1744.7,1056.7 1739.7,1058.3 1738.0,1060.2 C1736.3,1062.1 1737.5,1061.3 1737.4,1065.9 C1737.3,1070.4 1743.2,1083.7 1737.4,1087.3 C1731.6,1090.9 1708.2,1090.9 1702.4,1087.3 C1696.6,1083.7 1702.8,1070.4 1702.4,1065.9 C1702.0,1061.3 1702.8,1062.1 1700.0,1060.2 C1697.2,1058.3 1690.3,1056.7 1685.6,1054.5 C1680.9,1052.3 1675.3,1049.8 1671.7,1047.0 C1668.1,1044.2 1665.6,1041.0 1664.1,1037.6 C1662.7,1034.1 1662.7,1030.0 1663.2,1026.3 C1663.7,1022.5 1665.1,1018.7 1666.9,1015.0 C1668.7,1011.2 1672.3,1007.1 1674.1,1003.7 C1675.9,1000.2 1676.6,998.4 1677.6,994.2 C1678.5,990.0 1679.1,983.8 1679.8,978.5 C1680.6,973.3 1681.3,968.1 1682.0,962.8 C1682.8,957.6 1683.5,952.6 1684.3,947.1 C1685.0,941.6 1685.8,935.6 1686.5,929.8 C1687.3,924.1 1688.0,918.3 1688.8,912.6 C1689.5,906.8 1689.6,901.7 1691.0,895.3 C1692.5,888.9 1695.4,881.2 1697.5,874.1 C1699.7,867.0 1701.9,859.3 1704.0,852.9 C1706.1,846.5 1708.2,841.3 1710.3,835.5 C1712.3,829.7 1714.9,821.9 1716.5,818.0 C1718.1,814.2 1718.5,813.9 1719.8,812.4 C1721.1,810.8 1722.0,809.7 1724.2,808.6 C1726.4,807.5 1730.2,805.8 1733.0,805.8 Z"/></clipPath>
<clipPath id="tc16"><path d="M1824.6,802.8 C1827.4,802.8 1830.8,804.6 1832.7,805.7 C1834.6,806.8 1835.3,807.9 1836.2,809.5 C1837.1,811.1 1837.5,811.3 1838.1,815.2 C1838.8,819.1 1839.5,827.0 1840.2,832.9 C1840.8,838.8 1841.6,844.0 1842.2,850.5 C1842.8,857.1 1843.1,864.8 1843.6,872.0 C1844.0,879.2 1845.0,887.0 1844.9,893.5 C1844.8,900.0 1843.7,905.1 1843.0,911.0 C1842.4,916.8 1841.7,922.6 1841.1,928.5 C1840.5,934.3 1839.8,940.4 1839.2,946.0 C1838.6,951.5 1838.1,956.6 1837.6,961.9 C1837.1,967.2 1836.6,972.5 1836.1,977.8 C1835.5,983.1 1834.5,989.4 1834.5,993.7 C1834.4,997.9 1834.8,999.7 1835.7,1003.2 C1836.7,1006.7 1839.3,1010.9 1840.2,1014.7 C1841.1,1018.5 1840.8,1022.3 1841.1,1026.1 C1841.4,1029.9 1842.1,1034.1 1842.1,1037.6 C1842.0,1041.1 1842.5,1044.2 1841.0,1047.1 C1839.6,1050.0 1836.2,1052.5 1833.3,1054.7 C1830.5,1057.0 1825.8,1058.6 1824.2,1060.5 C1822.6,1062.4 1823.8,1061.7 1823.7,1066.2 C1823.6,1070.7 1829.5,1083.9 1823.7,1087.5 C1817.9,1091.0 1794.5,1091.0 1788.7,1087.5 C1782.9,1083.9 1789.1,1070.7 1788.7,1066.2 C1788.3,1061.7 1789.1,1062.4 1786.2,1060.5 C1783.3,1058.6 1776.2,1057.0 1771.3,1054.7 C1766.5,1052.5 1760.7,1050.0 1757.0,1047.1 C1753.3,1044.2 1750.5,1041.1 1749.1,1037.6 C1747.6,1034.1 1747.6,1029.9 1748.1,1026.1 C1748.7,1022.3 1750.2,1018.5 1752.2,1014.7 C1754.1,1010.9 1757.8,1006.7 1759.7,1003.2 C1761.6,999.7 1762.4,997.9 1763.5,993.7 C1764.6,989.4 1765.3,983.1 1766.2,977.8 C1767.1,972.5 1768.0,967.2 1768.9,961.9 C1769.8,956.6 1770.7,951.5 1771.6,946.0 C1772.5,940.4 1773.4,934.3 1774.4,928.5 C1775.3,922.6 1776.2,916.8 1777.2,911.0 C1778.1,905.1 1778.3,900.0 1779.9,893.5 C1781.6,887.0 1784.7,879.2 1787.1,872.0 C1789.4,864.8 1791.9,857.1 1794.2,850.5 C1796.5,844.0 1798.7,838.8 1801.0,832.9 C1803.2,827.0 1806.0,819.1 1807.7,815.2 C1809.4,811.3 1809.9,811.1 1811.2,809.5 C1812.5,807.9 1813.5,806.8 1815.7,805.7 C1817.9,804.6 1821.8,802.8 1824.6,802.8 Z"/></clipPath>
<clipPath id="tc17"><path d="M1908.3,808.7 C1911.1,808.7 1914.5,810.4 1916.5,811.5 C1918.5,812.6 1919.1,813.7 1920.1,815.3 C1921.0,816.8 1921.4,817.0 1922.2,820.8 C1922.9,824.6 1923.8,832.3 1924.7,838.0 C1925.5,843.8 1926.4,848.9 1927.1,855.3 C1927.9,861.6 1928.4,869.2 1929.1,876.2 C1929.7,883.2 1930.9,890.8 1931.0,897.1 C1931.1,903.4 1930.0,908.5 1929.5,914.2 C1929.1,919.9 1928.6,925.5 1928.1,931.2 C1927.6,936.9 1927.1,942.9 1926.6,948.3 C1926.2,953.7 1925.9,958.6 1925.5,963.8 C1925.1,969.0 1924.7,974.1 1924.3,979.3 C1923.9,984.5 1923.1,990.7 1923.2,994.8 C1923.2,998.9 1923.6,1000.7 1924.6,1004.1 C1925.7,1007.5 1928.4,1011.5 1929.4,1015.3 C1930.4,1019.0 1930.2,1022.7 1930.7,1026.4 C1931.1,1030.2 1932.0,1034.2 1932.2,1037.6 C1932.4,1041.0 1933.1,1044.1 1931.9,1046.9 C1930.6,1049.7 1927.3,1052.2 1924.6,1054.3 C1921.9,1056.5 1917.3,1058.1 1915.7,1059.9 C1914.2,1061.8 1915.4,1061.0 1915.3,1065.5 C1915.2,1070.0 1921.1,1083.6 1915.3,1087.2 C1909.5,1090.8 1886.1,1090.8 1880.3,1087.2 C1874.5,1083.6 1880.7,1070.0 1880.3,1065.5 C1879.9,1061.0 1880.7,1061.8 1877.7,1059.9 C1874.8,1058.1 1867.6,1056.5 1862.6,1054.3 C1857.6,1052.2 1851.8,1049.7 1847.9,1046.9 C1844.0,1044.1 1840.9,1041.0 1839.2,1037.6 C1837.5,1034.2 1837.3,1030.2 1837.7,1026.4 C1838.0,1022.7 1839.6,1019.0 1841.4,1015.3 C1843.2,1011.5 1846.9,1007.5 1848.6,1004.1 C1850.4,1000.7 1851.2,998.9 1852.2,994.8 C1853.1,990.7 1853.7,984.5 1854.5,979.3 C1855.2,974.1 1856.0,969.0 1856.7,963.8 C1857.5,958.6 1858.3,953.7 1859.0,948.3 C1859.8,942.9 1860.6,936.9 1861.4,931.2 C1862.1,925.5 1862.9,919.9 1863.7,914.2 C1864.5,908.5 1864.5,903.4 1866.0,897.1 C1867.5,890.8 1870.4,883.2 1872.6,876.2 C1874.8,869.2 1877.0,861.6 1879.1,855.3 C1881.3,848.9 1883.3,843.8 1885.5,838.0 C1887.6,832.3 1890.2,824.6 1891.8,820.8 C1893.4,817.0 1893.8,816.8 1895.1,815.3 C1896.4,813.7 1897.3,812.6 1899.5,811.5 C1901.7,810.4 1905.5,808.7 1908.3,808.7 Z"/></clipPath>
</defs>
<rect width="1983" height="2737" fill="#fff"/>
<text x="20" y="113" class="pl" style="font-size:135px">A</text>
<text x="203" y="231" class="pl" style="font-size:130px">a</text>
<text transform="translate(196,563) scale(1,0.853)" class="pl" style="font-size:125px">b</text>
<text x="199.5" y="897" class="pl" style="font-size:130px">c</text>
<text x="20.7" y="1117" class="pl" style="font-size:133px">B</text>
<g filter="url(#soft)">
<g clip-path="url(#clipa)">
<rect x="328.5" y="65" width="1617.0" height="295.0" fill="#06073c"/>
<rect x="328.5" y="312.8" width="1617.0" height="48.2" fill="#1b1868"/>
<g clip-path="url(#ta0)">
<rect x="279.9" y="68.1" width="180" height="295.9" fill="#6282d2"/>
<path d="M310.8,234.8 Q380.8,222.8 450.8,228.8 L450.8,365.0 L310.8,365.0 Z" fill="#7a5ed0"/>
<path d="M310.8,234.8 Q380.8,222.8 450.8,228.8" fill="none" stroke="#6a50c0" stroke-opacity="0.55" stroke-width="14" transform="translate(0,9)"/>
<ellipse cx="387.0" cy="321.3" rx="49" ry="30.5" fill="#8076de"/>
<rect x="352.0" y="344.7" width="40" height="20.3" fill="#9a66e6"/>
<path d="M310.8,234.8 Q380.8,222.8 450.8,228.8" fill="none" stroke="#a0b4f4" stroke-width="3"/>
<path d="M369.9,70.1 C372.7,70.1 376.4,72.0 378.6,73.1 C380.8,74.3 381.7,75.5 382.9,77.2 C384.1,78.9 384.5,79.2 386.0,83.3 C387.5,87.5 389.8,95.9 391.7,102.1 C393.6,108.4 395.5,114.0 397.4,120.9 C399.3,127.9 401.3,136.2 403.2,143.8 C405.1,151.5 407.8,159.8 409.0,166.7 C410.3,173.6 410.2,179.2 410.7,185.4 C411.3,191.6 411.9,197.8 412.4,204.0 C413.0,210.2 413.6,216.7 414.1,222.7 C414.7,228.6 415.3,234.0 415.9,239.6 C416.4,245.3 417.0,250.9 417.6,256.6 C418.2,262.2 418.5,269.0 419.3,273.5 C420.1,278.1 420.9,280.0 422.5,283.7 C424.2,287.4 427.7,291.8 429.4,295.9 C431.1,300.0 432.5,304.1 432.7,308.1 C432.9,312.2 432.5,316.6 430.7,320.3 C428.9,324.1 425.8,327.4 421.9,330.5 C417.9,333.6 412.0,336.3 407.1,338.6 C402.1,341.0 395.0,342.7 392.0,344.7 C389.1,346.8 389.9,346.3 389.5,350.8 C389.1,355.4 395.3,368.6 389.5,372.2 C383.7,375.8 360.3,375.8 354.5,372.2 C348.7,368.6 354.6,355.4 354.5,350.8 C354.4,346.3 355.6,346.8 354.0,344.7 C352.5,342.7 347.8,341.0 345.1,338.6 C342.4,336.3 339.1,333.6 337.9,330.5 C336.6,327.4 337.4,324.1 337.7,320.3 C338.0,316.6 339.1,312.2 339.7,308.1 C340.3,304.1 340.2,300.0 341.4,295.9 C342.5,291.8 345.4,287.4 346.5,283.7 C347.7,280.0 348.1,278.1 348.3,273.5 C348.5,269.0 347.9,262.2 347.7,256.6 C347.5,250.9 347.3,245.3 347.1,239.6 C346.9,234.0 346.8,228.6 346.5,222.7 C346.3,216.7 346.0,210.2 345.7,204.0 C345.4,197.8 345.1,191.6 344.9,185.4 C344.6,179.2 343.7,173.6 344.0,166.7 C344.3,159.8 345.8,151.5 346.7,143.8 C347.6,136.2 348.4,127.9 349.4,120.9 C350.3,114.0 351.5,108.4 352.5,102.1 C353.5,95.9 354.7,87.5 355.6,83.3 C356.5,79.2 356.9,78.9 357.9,77.2 C358.9,75.5 359.6,74.3 361.6,73.1 C363.6,72.0 367.1,70.1 369.9,70.1 Z" fill="none" stroke="#90aaf0" stroke-width="5" stroke-opacity="0.75"/>
</g>
<g clip-path="url(#ta1)">
<rect x="369.4" y="67.1" width="180" height="296.9" fill="#6e7cd6"/>
<path d="M398.0,232.8 Q468.0,220.8 538.0,226.8 L538.0,365.0 L398.0,365.0 Z" fill="#7a5ed0"/>
<path d="M398.0,232.8 Q468.0,220.8 538.0,226.8" fill="none" stroke="#6a50c0" stroke-opacity="0.55" stroke-width="14" transform="translate(0,9)"/>
<ellipse cx="473.0" cy="321.3" rx="49" ry="30.6" fill="#8076de"/>
<rect x="439.7" y="344.8" width="40" height="20.2" fill="#9a66e6"/>
<path d="M398.0,232.8 Q468.0,220.8 538.0,226.8" fill="none" stroke="#a0b4f4" stroke-width="3"/>
<path d="M459.4,69.1 C462.2,69.1 465.9,70.9 468.1,72.1 C470.2,73.3 471.1,74.5 472.3,76.2 C473.5,77.9 473.9,78.2 475.3,82.3 C476.7,86.5 478.9,94.9 480.7,101.2 C482.6,107.5 484.4,113.2 486.2,120.1 C488.0,127.1 489.8,135.5 491.7,143.1 C493.5,150.8 496.0,159.1 497.2,166.1 C498.3,173.0 498.1,178.6 498.6,184.8 C499.1,191.1 499.6,197.3 500.1,203.5 C500.5,209.8 501.0,216.3 501.5,222.3 C502.0,228.2 502.5,233.6 503.0,239.3 C503.5,245.0 504.0,250.6 504.5,256.3 C505.0,262.0 505.2,268.8 506.0,273.3 C506.7,277.9 507.4,279.8 509.0,283.6 C510.6,287.3 514.0,291.7 515.7,295.8 C517.3,299.9 518.6,304.0 518.8,308.1 C519.1,312.2 518.7,316.6 517.0,320.3 C515.3,324.1 512.4,327.5 508.6,330.5 C504.8,333.6 499.1,336.3 494.3,338.7 C489.4,341.1 482.5,342.8 479.6,344.8 C476.8,346.9 477.6,346.4 477.2,351.0 C476.8,355.5 483.0,368.7 477.2,372.3 C471.4,375.8 448.0,375.8 442.2,372.3 C436.4,368.7 442.3,355.5 442.2,351.0 C442.1,346.4 443.3,346.9 441.6,344.8 C440.0,342.8 435.1,341.1 432.3,338.7 C429.5,336.3 426.0,333.6 424.6,330.5 C423.3,327.5 423.8,324.1 424.0,320.3 C424.2,316.6 425.2,312.2 425.8,308.1 C426.5,304.0 426.5,299.9 427.7,295.8 C428.9,291.7 431.8,287.3 433.0,283.6 C434.2,279.8 434.7,277.9 435.0,273.3 C435.2,268.8 434.7,262.0 434.6,256.3 C434.5,250.6 434.4,245.0 434.3,239.3 C434.1,233.6 434.1,228.2 433.9,222.3 C433.7,216.3 433.5,209.8 433.3,203.5 C433.1,197.3 432.9,191.1 432.7,184.8 C432.5,178.6 431.8,173.0 432.2,166.1 C432.6,159.1 434.2,150.8 435.2,143.1 C436.2,135.5 437.1,127.1 438.2,120.1 C439.2,113.2 440.4,107.5 441.5,101.2 C442.7,94.9 444.0,86.5 444.9,82.3 C445.9,78.2 446.3,77.9 447.3,76.2 C448.3,74.5 449.1,73.3 451.1,72.1 C453.1,70.9 456.6,69.1 459.4,69.1 Z" fill="none" stroke="#90aaf0" stroke-width="5" stroke-opacity="0.75"/>
</g>
<g clip-path="url(#ta2)">
<rect x="461.5" y="73.2" width="180" height="290.8" fill="#86c2c8"/>
<path d="M487.0,227.7 Q557.0,215.7 627.0,221.7 L627.0,365.0 L487.0,365.0 Z" fill="#8490d8"/>
<path d="M487.0,227.7 Q557.0,215.7 627.0,221.7" fill="none" stroke="#6a8ac8" stroke-opacity="0.55" stroke-width="14" transform="translate(0,9)"/>
<ellipse cx="560.5" cy="321.3" rx="49" ry="29.9" fill="#8e9ae4"/>
<rect x="529.0" y="344.3" width="40" height="20.7" fill="#a08ee8"/>
<path d="M487.0,227.7 Q557.0,215.7 627.0,221.7" fill="none" stroke="#b0dce2" stroke-width="3"/>
<path d="M551.5,75.2 C554.3,75.2 558.0,77.0 560.1,78.2 C562.2,79.3 563.1,80.5 564.3,82.1 C565.4,83.8 565.9,84.1 567.2,88.1 C568.5,92.2 570.6,100.4 572.3,106.6 C574.0,112.7 575.7,118.2 577.4,125.0 C579.0,131.8 580.7,140.0 582.4,147.4 C584.1,154.9 586.5,163.1 587.5,169.9 C588.5,176.6 588.2,182.0 588.6,188.1 C589.0,194.2 589.4,200.3 589.7,206.4 C590.1,212.5 590.4,218.9 590.8,224.7 C591.2,230.5 591.6,235.7 592.0,241.3 C592.4,246.8 592.8,252.4 593.2,257.9 C593.6,263.4 593.7,270.1 594.4,274.5 C595.0,278.9 595.7,280.8 597.2,284.5 C598.8,288.1 602.1,292.4 603.7,296.4 C605.2,300.4 606.4,304.4 606.6,308.4 C606.8,312.4 606.5,316.7 604.9,320.3 C603.3,324.0 600.6,327.3 597.0,330.3 C593.3,333.3 587.8,336.0 583.1,338.3 C578.4,340.6 571.5,342.3 568.8,344.3 C566.0,346.3 566.9,345.6 566.5,350.2 C566.1,354.9 572.3,368.3 566.5,372.0 C560.7,375.6 537.3,375.6 531.5,372.0 C525.7,368.3 531.6,354.9 531.5,350.2 C531.4,345.6 532.5,346.3 530.8,344.3 C529.0,342.3 524.0,340.6 521.1,338.3 C518.1,336.0 514.5,333.3 513.0,330.3 C511.4,327.3 511.8,324.0 511.9,320.3 C512.0,316.7 513.0,312.4 513.6,308.4 C514.3,304.4 514.4,300.4 515.7,296.4 C516.9,292.4 520.0,288.1 521.2,284.5 C522.5,280.8 523.0,278.9 523.4,274.5 C523.7,270.1 523.3,263.4 523.3,257.9 C523.3,252.4 523.3,246.8 523.3,241.3 C523.3,235.7 523.3,230.5 523.2,224.7 C523.2,218.9 523.1,212.5 523.0,206.4 C522.9,200.3 522.8,194.2 522.7,188.1 C522.7,182.0 522.0,176.6 522.5,169.9 C523.0,163.1 524.8,154.9 525.9,147.4 C527.1,140.0 528.2,131.8 529.4,125.0 C530.5,118.2 531.8,112.7 533.1,106.6 C534.3,100.4 535.8,92.2 536.8,88.1 C537.8,84.1 538.2,83.8 539.3,82.1 C540.3,80.5 541.1,79.3 543.1,78.2 C545.2,77.0 548.7,75.2 551.5,75.2 Z" fill="none" stroke="#b0e2e6" stroke-width="5" stroke-opacity="0.75"/>
</g>
<g clip-path="url(#ta3)">
<rect x="553.5" y="70.1" width="180" height="293.9" fill="#6282d2"/>
<path d="M579.6,232.8 Q649.6,220.8 719.6,226.8 L719.6,365.0 L579.6,365.0 Z" fill="#7a5ed0"/>
<path d="M579.6,232.8 Q649.6,220.8 719.6,226.8" fill="none" stroke="#6a50c0" stroke-opacity="0.55" stroke-width="14" transform="translate(0,9)"/>
<ellipse cx="653.2" cy="321.3" rx="49" ry="30.3" fill="#8076de"/>
<rect x="623.5" y="344.6" width="40" height="20.4" fill="#9a66e6"/>
<path d="M579.6,232.8 Q649.6,220.8 719.6,226.8" fill="none" stroke="#a0b4f4" stroke-width="3"/>
<path d="M643.5,72.1 C646.4,72.1 650.0,74.0 652.1,75.1 C654.3,76.3 655.1,77.5 656.3,79.2 C657.5,80.9 657.9,81.1 659.2,85.2 C660.6,89.4 662.7,97.7 664.4,103.9 C666.1,110.1 667.8,115.7 669.5,122.6 C671.2,129.5 672.9,137.7 674.6,145.3 C676.3,152.8 678.7,161.1 679.8,168.0 C680.8,174.8 680.5,180.3 680.9,186.5 C681.3,192.6 681.7,198.8 682.1,205.0 C682.5,211.1 682.8,217.6 683.2,223.5 C683.6,229.4 684.1,234.7 684.5,240.3 C684.9,245.9 685.3,251.5 685.7,257.1 C686.1,262.7 686.2,269.4 686.9,273.9 C687.6,278.4 688.2,280.3 689.8,284.0 C691.4,287.7 694.7,292.1 696.3,296.1 C697.9,300.2 699.0,304.2 699.3,308.2 C699.5,312.3 699.4,316.6 697.9,320.3 C696.5,324.0 694.0,327.4 690.6,330.4 C687.1,333.5 681.7,336.1 677.1,338.5 C672.6,340.9 665.9,342.5 663.2,344.6 C660.5,346.6 661.4,346.0 661.0,350.6 C660.7,355.2 666.9,368.5 661.0,372.1 C655.2,375.7 631.9,375.7 626.0,372.1 C620.2,368.5 626.2,355.2 626.0,350.6 C625.9,346.0 627.0,346.6 625.2,344.6 C623.4,342.5 618.2,340.9 615.1,338.5 C612.0,336.1 608.3,333.5 606.6,330.4 C604.9,327.4 605.0,324.0 604.9,320.3 C604.9,316.6 605.7,312.3 606.3,308.2 C606.8,304.2 607.0,300.2 608.3,296.1 C609.5,292.1 612.5,287.7 613.8,284.0 C615.1,280.3 615.6,278.4 615.9,273.9 C616.2,269.4 615.9,262.7 615.8,257.1 C615.8,251.5 615.8,245.9 615.7,240.3 C615.7,234.7 615.7,229.4 615.6,223.5 C615.6,217.6 615.4,211.1 615.3,205.0 C615.3,198.8 615.2,192.6 615.1,186.5 C615.0,180.3 614.3,174.8 614.8,168.0 C615.3,161.1 617.0,152.8 618.1,145.3 C619.3,137.7 620.3,129.5 621.5,122.6 C622.7,115.7 623.9,110.1 625.2,103.9 C626.4,97.7 627.8,89.4 628.8,85.2 C629.9,81.1 630.2,80.9 631.3,79.2 C632.3,77.5 633.1,76.3 635.1,75.1 C637.2,74.0 640.7,72.1 643.5,72.1 Z" fill="none" stroke="#90aaf0" stroke-width="5" stroke-opacity="0.75"/>
</g>
<g clip-path="url(#ta4)">
<rect x="638.0" y="68.1" width="180" height="295.9" fill="#6282d2"/>
<path d="M664.7,232.8 Q734.7,220.8 804.7,226.8 L804.7,365.0 L664.7,365.0 Z" fill="#7a5ed0"/>
<path d="M664.7,232.8 Q734.7,220.8 804.7,226.8" fill="none" stroke="#6a50c0" stroke-opacity="0.55" stroke-width="14" transform="translate(0,9)"/>
<ellipse cx="738.5" cy="321.3" rx="49" ry="30.5" fill="#8076de"/>
<rect x="710.5" y="344.7" width="40" height="20.3" fill="#9a66e6"/>
<path d="M664.7,232.8 Q734.7,220.8 804.7,226.8" fill="none" stroke="#a0b4f4" stroke-width="3"/>
<path d="M728.0,70.1 C730.9,70.1 734.5,72.0 736.7,73.1 C738.8,74.3 739.6,75.5 740.8,77.2 C742.0,78.9 742.4,79.2 743.8,83.3 C745.1,87.5 747.2,95.9 749.0,102.1 C750.7,108.4 752.4,114.0 754.2,120.9 C755.9,127.9 757.6,136.2 759.4,143.8 C761.1,151.5 763.5,159.8 764.6,166.7 C765.7,173.6 765.4,179.2 765.8,185.4 C766.2,191.6 766.6,197.8 767.0,204.0 C767.4,210.2 767.8,216.7 768.2,222.7 C768.7,228.6 769.1,234.0 769.5,239.6 C769.9,245.3 770.4,250.9 770.8,256.6 C771.2,262.2 771.4,269.0 772.1,273.5 C772.8,278.1 773.4,280.0 775.0,283.7 C776.6,287.4 779.9,291.8 781.5,295.9 C783.1,300.0 784.2,304.1 784.5,308.1 C784.9,312.2 784.8,316.6 783.5,320.3 C782.2,324.1 780.1,327.4 776.7,330.5 C773.4,333.6 768.2,336.3 763.7,338.6 C759.3,341.0 752.7,342.7 750.1,344.7 C747.5,346.8 748.4,346.3 748.0,350.8 C747.7,355.4 753.9,368.6 748.0,372.2 C742.2,375.8 718.9,375.8 713.0,372.2 C707.2,368.6 713.2,355.4 713.0,350.8 C712.9,346.3 714.0,346.8 712.1,344.7 C710.2,342.7 704.9,341.0 701.7,338.6 C698.5,336.3 694.6,333.6 692.7,330.5 C690.9,327.4 690.7,324.1 690.5,320.3 C690.3,316.6 691.0,312.2 691.5,308.1 C692.0,304.1 692.3,300.0 693.5,295.9 C694.8,291.8 697.7,287.4 699.0,283.7 C700.3,280.0 700.8,278.1 701.1,273.5 C701.4,269.0 701.0,262.2 700.9,256.6 C700.9,250.9 700.8,245.3 700.8,239.6 C700.7,234.0 700.7,228.6 700.6,222.7 C700.6,216.7 700.4,210.2 700.3,204.0 C700.2,197.8 700.1,191.6 699.9,185.4 C699.8,179.2 699.1,173.6 699.6,166.7 C700.1,159.8 701.8,151.5 702.9,143.8 C704.0,136.2 705.0,127.9 706.2,120.9 C707.3,114.0 708.6,108.4 709.8,102.1 C711.0,95.9 712.4,87.5 713.4,83.3 C714.4,79.2 714.8,78.9 715.8,77.2 C716.9,75.5 717.6,74.3 719.7,73.1 C721.7,72.0 725.2,70.1 728.0,70.1 Z" fill="none" stroke="#90aaf0" stroke-width="5" stroke-opacity="0.75"/>
</g>
<g clip-path="url(#ta5)">
<rect x="742.5" y="70.1" width="180" height="293.9" fill="#6282d2"/>
<path d="M760.1,232.8 Q830.1,220.8 900.1,226.8 L900.1,365.0 L760.1,365.0 Z" fill="#7a5ed0"/>
<path d="M760.1,232.8 Q830.1,220.8 900.1,226.8" fill="none" stroke="#6a50c0" stroke-opacity="0.55" stroke-width="14" transform="translate(0,9)"/>
<ellipse cx="828.7" cy="321.3" rx="49" ry="30.3" fill="#8076de"/>
<rect x="802.5" y="344.6" width="40" height="20.4" fill="#9a66e6"/>
<path d="M760.1,232.8 Q830.1,220.8 900.1,226.8" fill="none" stroke="#a0b4f4" stroke-width="3"/>
<path d="M832.5,72.1 C835.4,72.1 838.9,74.0 841.0,75.1 C843.0,76.3 843.8,77.5 844.9,79.2 C846.0,80.9 846.4,81.1 847.5,85.2 C848.6,89.4 850.3,97.7 851.6,103.9 C853.0,110.1 854.4,115.7 855.8,122.6 C857.1,129.5 858.4,137.7 859.7,145.3 C861.0,152.8 862.9,161.1 863.5,168.0 C864.2,174.8 863.6,180.3 863.7,186.5 C863.7,192.6 863.8,198.8 863.8,205.0 C863.9,211.1 863.9,217.6 864.0,223.5 C864.1,229.4 864.2,234.7 864.3,240.3 C864.4,245.9 864.5,251.5 864.6,257.1 C864.7,262.7 864.5,269.4 864.9,273.9 C865.4,278.4 865.9,280.3 867.3,284.0 C868.6,287.7 871.7,292.1 873.1,296.1 C874.4,300.2 875.2,304.2 875.4,308.2 C875.5,312.3 875.3,316.6 874.0,320.3 C872.7,324.0 870.7,327.4 867.5,330.4 C864.4,333.5 859.3,336.1 855.0,338.5 C850.7,340.9 844.4,342.5 841.9,344.6 C839.4,346.6 840.3,346.0 840.0,350.6 C839.7,355.2 845.9,368.5 840.0,372.1 C834.2,375.7 810.9,375.7 805.0,372.1 C799.2,368.5 805.2,355.2 805.0,350.6 C804.8,346.0 805.9,346.6 803.9,344.6 C801.9,342.5 796.4,340.9 793.0,338.5 C789.6,336.1 785.5,333.5 783.5,330.4 C781.5,327.4 781.2,324.0 781.0,320.3 C780.8,316.6 781.7,312.3 782.4,308.2 C783.1,304.2 783.6,300.2 785.1,296.1 C786.6,292.1 789.8,287.7 791.3,284.0 C792.7,280.3 793.3,278.4 793.9,273.9 C794.5,269.4 794.5,262.7 794.7,257.1 C795.0,251.5 795.3,245.9 795.6,240.3 C795.8,234.7 796.1,229.4 796.4,223.5 C796.7,217.6 796.9,211.1 797.1,205.0 C797.4,198.8 797.6,192.6 797.8,186.5 C798.1,180.3 797.7,174.8 798.5,168.0 C799.4,161.1 801.6,152.8 803.2,145.3 C804.7,137.7 806.2,129.5 807.8,122.6 C809.3,115.7 810.9,110.1 812.4,103.9 C814.0,97.7 815.9,89.4 817.1,85.2 C818.4,81.1 818.8,80.9 819.9,79.2 C821.1,77.5 821.9,76.3 824.0,75.1 C826.1,74.0 829.7,72.1 832.5,72.1 Z" fill="none" stroke="#90aaf0" stroke-width="5" stroke-opacity="0.75"/>
</g>
<g clip-path="url(#ta6)">
<rect x="827.1" y="70.1" width="180" height="293.9" fill="#6282d2"/>
<path d="M846.8,232.8 Q916.8,220.8 986.8,226.8 L986.8,365.0 L846.8,365.0 Z" fill="#7a5ed0"/>
<path d="M846.8,232.8 Q916.8,220.8 986.8,226.8" fill="none" stroke="#6a50c0" stroke-opacity="0.55" stroke-width="14" transform="translate(0,9)"/>
<ellipse cx="916.6" cy="321.3" rx="49" ry="30.3" fill="#8076de"/>
<rect x="892.1" y="344.6" width="40" height="20.4" fill="#9a66e6"/>
<path d="M846.8,232.8 Q916.8,220.8 986.8,226.8" fill="none" stroke="#a0b4f4" stroke-width="3"/>
<path d="M917.1,72.1 C920.0,72.1 923.5,74.0 925.6,75.1 C927.7,76.3 928.5,77.5 929.6,79.2 C930.7,80.9 931.1,81.1 932.3,85.2 C933.5,89.4 935.2,97.7 936.7,103.9 C938.1,110.1 939.6,115.7 941.0,122.6 C942.4,129.5 943.8,137.7 945.2,145.3 C946.6,152.8 948.7,161.1 949.4,168.0 C950.2,174.8 949.7,180.3 949.8,186.5 C949.9,192.6 950.1,198.8 950.2,205.0 C950.3,211.1 950.4,217.6 950.6,223.5 C950.7,229.4 950.9,234.7 951.1,240.3 C951.3,245.9 951.5,251.5 951.6,257.1 C951.8,262.7 951.7,269.4 952.2,273.9 C952.7,278.4 953.2,280.3 954.7,284.0 C956.1,287.7 959.2,292.1 960.6,296.1 C962.0,300.2 962.8,304.2 963.1,308.2 C963.4,312.3 963.4,316.6 962.2,320.3 C961.1,324.0 959.3,327.4 956.3,330.4 C953.3,333.5 948.4,336.1 944.2,338.5 C940.1,340.9 933.8,342.5 931.4,344.6 C929.0,346.6 929.9,346.0 929.6,350.6 C929.3,355.2 935.5,368.5 929.6,372.1 C923.8,375.7 900.5,375.7 894.6,372.1 C888.8,368.5 894.8,355.2 894.6,350.6 C894.4,346.0 895.5,346.6 893.4,344.6 C891.3,342.5 885.7,340.9 882.2,338.5 C878.7,336.1 874.5,333.5 872.3,330.4 C870.2,327.4 869.6,324.0 869.2,320.3 C868.9,316.6 869.5,312.3 870.1,308.2 C870.7,304.2 871.2,300.2 872.6,296.1 C874.1,292.1 877.2,287.7 878.7,284.0 C880.1,280.3 880.7,278.4 881.2,273.9 C881.7,269.4 881.6,262.7 881.8,257.1 C882.0,251.5 882.2,245.9 882.4,240.3 C882.6,234.7 882.8,229.4 883.0,223.5 C883.2,217.6 883.3,211.1 883.5,205.0 C883.6,198.8 883.8,192.6 883.9,186.5 C884.1,180.3 883.6,174.8 884.4,168.0 C885.2,161.1 887.3,152.8 888.7,145.3 C890.2,137.7 891.6,129.5 893.0,122.6 C894.5,115.7 896.0,110.1 897.5,103.9 C898.9,97.7 900.7,89.4 901.9,85.2 C903.1,81.1 903.5,80.9 904.6,79.2 C905.7,77.5 906.5,76.3 908.6,75.1 C910.7,74.0 914.3,72.1 917.1,72.1 Z" fill="none" stroke="#90aaf0" stroke-width="5" stroke-opacity="0.75"/>
</g>
<g clip-path="url(#ta7)">
<rect x="919.1" y="70.1" width="180" height="293.9" fill="#6282d2"/>
<path d="M939.2,232.8 Q1009.2,220.8 1079.2,226.8 L1079.2,365.0 L939.2,365.0 Z" fill="#7a5ed0"/>
<path d="M939.2,232.8 Q1009.2,220.8 1079.2,226.8" fill="none" stroke="#6a50c0" stroke-opacity="0.55" stroke-width="14" transform="translate(0,9)"/>
<ellipse cx="1009.2" cy="321.3" rx="49" ry="30.3" fill="#8076de"/>
<rect x="986.6" y="344.6" width="40" height="20.4" fill="#9a66e6"/>
<path d="M939.2,232.8 Q1009.2,220.8 1079.2,226.8" fill="none" stroke="#a0b4f4" stroke-width="3"/>
<path d="M1009.1,72.1 C1012.0,72.1 1015.6,74.0 1017.6,75.1 C1019.7,76.3 1020.5,77.5 1021.6,79.2 C1022.8,80.9 1023.2,81.1 1024.3,85.2 C1025.5,89.4 1027.3,97.7 1028.8,103.9 C1030.2,110.1 1031.7,115.7 1033.2,122.6 C1034.6,129.5 1036.0,137.7 1037.4,145.3 C1038.8,152.8 1040.9,161.1 1041.7,168.0 C1042.5,174.8 1042.0,180.3 1042.1,186.5 C1042.3,192.6 1042.4,198.8 1042.6,205.0 C1042.7,211.1 1042.8,217.6 1043.0,223.5 C1043.2,229.4 1043.4,234.7 1043.6,240.3 C1043.8,245.9 1044.0,251.5 1044.1,257.1 C1044.3,262.7 1044.2,269.4 1044.7,273.9 C1045.2,278.4 1045.8,280.3 1047.2,284.0 C1048.6,287.7 1051.8,292.1 1053.2,296.1 C1054.6,300.2 1055.4,304.2 1055.7,308.2 C1056.1,312.3 1056.2,316.6 1055.3,320.3 C1054.3,324.0 1052.8,327.4 1049.9,330.4 C1047.1,333.5 1042.3,336.1 1038.3,338.5 C1034.3,340.9 1028.2,342.5 1025.8,344.6 C1023.4,346.6 1024.4,346.0 1024.1,350.6 C1023.9,355.2 1030.0,368.5 1024.1,372.1 C1018.3,375.7 995.0,375.7 989.1,372.1 C983.3,368.5 989.4,355.2 989.1,350.6 C988.9,346.0 989.9,346.6 987.8,344.6 C985.7,342.5 979.9,340.9 976.3,338.5 C972.6,336.1 968.3,333.5 965.9,330.4 C963.6,327.4 962.8,324.0 962.3,320.3 C961.7,316.6 962.2,312.3 962.7,308.2 C963.2,304.2 963.8,300.2 965.2,296.1 C966.6,292.1 969.8,287.7 971.2,284.0 C972.6,280.3 973.2,278.4 973.7,273.9 C974.2,269.4 974.1,262.7 974.3,257.1 C974.5,251.5 974.7,245.9 974.8,240.3 C975.0,234.7 975.2,229.4 975.4,223.5 C975.6,217.6 975.7,211.1 975.8,205.0 C976.0,198.8 976.1,192.6 976.3,186.5 C976.4,180.3 975.9,174.8 976.7,168.0 C977.5,161.1 979.5,152.8 980.9,145.3 C982.3,137.7 983.7,129.5 985.2,122.6 C986.6,115.7 988.1,110.1 989.6,103.9 C991.0,97.7 992.8,89.4 993.9,85.2 C995.1,81.1 995.5,80.9 996.6,79.2 C997.8,77.5 998.6,76.3 1000.6,75.1 C1002.7,74.0 1006.3,72.1 1009.1,72.1 Z" fill="none" stroke="#90aaf0" stroke-width="5" stroke-opacity="0.75"/>
</g>
<g clip-path="url(#ta8)">
<rect x="1016.2" y="74.2" width="180" height="289.8" fill="#6282d2"/>
<path d="M1030.7,229.7 Q1100.7,217.7 1170.7,223.7 L1170.7,365.0 L1030.7,365.0 Z" fill="#7a5ed0"/>
<path d="M1030.7,229.7 Q1100.7,217.7 1170.7,223.7" fill="none" stroke="#6a50c0" stroke-opacity="0.55" stroke-width="14" transform="translate(0,9)"/>
<ellipse cx="1097.1" cy="321.3" rx="49" ry="29.8" fill="#8076de"/>
<rect x="1076.2" y="344.2" width="40" height="20.8" fill="#9a66e6"/>
<path d="M1030.7,229.7 Q1100.7,217.7 1170.7,223.7" fill="none" stroke="#a0b4f4" stroke-width="3"/>
<path d="M1106.2,76.2 C1109.1,76.2 1112.6,78.0 1114.6,79.2 C1116.7,80.3 1117.4,81.5 1118.5,83.1 C1119.5,84.8 1119.9,85.0 1121.0,89.1 C1122.0,93.1 1123.4,101.3 1124.7,107.5 C1125.9,113.6 1127.2,119.0 1128.4,125.8 C1129.6,132.6 1130.7,140.7 1131.8,148.1 C1132.9,155.6 1134.7,163.7 1135.2,170.5 C1135.7,177.2 1135.0,182.6 1134.9,188.7 C1134.9,194.7 1134.8,200.8 1134.7,206.9 C1134.6,212.9 1134.5,219.3 1134.4,225.1 C1134.4,230.9 1134.4,236.1 1134.4,241.6 C1134.4,247.1 1134.4,252.6 1134.3,258.2 C1134.3,263.7 1133.9,270.3 1134.3,274.7 C1134.6,279.1 1135.1,281.0 1136.4,284.6 C1137.7,288.3 1140.7,292.6 1142.0,296.5 C1143.2,300.5 1143.8,304.5 1144.0,308.4 C1144.3,312.4 1144.3,316.7 1143.4,320.4 C1142.5,324.0 1141.2,327.3 1138.5,330.3 C1135.8,333.3 1131.2,335.9 1127.3,338.2 C1123.4,340.5 1117.5,342.2 1115.2,344.2 C1113.0,346.2 1114.0,345.5 1113.7,350.1 C1113.5,354.8 1119.6,368.3 1113.7,371.9 C1107.9,375.5 1084.6,375.5 1078.7,371.9 C1072.9,368.3 1079.0,354.8 1078.7,350.1 C1078.5,345.5 1079.5,346.2 1077.2,344.2 C1075.0,342.2 1069.1,340.5 1065.3,338.2 C1061.5,335.9 1056.9,333.3 1054.5,330.3 C1052.0,327.3 1051.0,324.0 1050.4,320.4 C1049.8,316.7 1050.4,312.4 1051.0,308.4 C1051.6,304.5 1052.4,300.5 1054.0,296.5 C1055.5,292.6 1058.9,288.3 1060.4,284.6 C1062.0,281.0 1062.6,279.1 1063.3,274.7 C1064.0,270.3 1064.1,263.7 1064.5,258.2 C1064.9,252.6 1065.3,247.1 1065.7,241.6 C1066.1,236.1 1066.5,230.9 1066.8,225.1 C1067.2,219.3 1067.6,212.9 1068.0,206.9 C1068.3,200.8 1068.7,194.7 1069.1,188.7 C1069.5,182.6 1069.2,177.2 1070.2,170.5 C1071.2,163.7 1073.6,155.6 1075.3,148.1 C1077.0,140.7 1078.7,132.6 1080.4,125.8 C1082.1,119.0 1083.8,113.6 1085.5,107.5 C1087.2,101.3 1089.2,93.1 1090.6,89.1 C1091.9,85.0 1092.3,84.8 1093.5,83.1 C1094.7,81.5 1095.5,80.3 1097.6,79.2 C1099.8,78.0 1103.4,76.2 1106.2,76.2 Z" fill="none" stroke="#90aaf0" stroke-width="5" stroke-opacity="0.75"/>
</g>
<g clip-path="url(#ta9)">
<rect x="1096.1" y="71.1" width="180" height="292.9" fill="#628ada"/>
<path d="M1112.4,229.7 Q1182.4,217.7 1252.4,223.7 L1252.4,365.0 L1112.4,365.0 Z" fill="#7a5ed0"/>
<path d="M1112.4,229.7 Q1182.4,217.7 1252.4,223.7" fill="none" stroke="#6a50c0" stroke-opacity="0.55" stroke-width="14" transform="translate(0,9)"/>
<ellipse cx="1180.1" cy="321.3" rx="49" ry="30.1" fill="#8076de"/>
<rect x="1160.9" y="344.5" width="40" height="20.5" fill="#9a66e6"/>
<path d="M1112.4,229.7 Q1182.4,217.7 1252.4,223.7" fill="none" stroke="#a0b4f4" stroke-width="3"/>
<path d="M1186.1,73.1 C1188.9,73.1 1192.4,75.0 1194.5,76.2 C1196.5,77.3 1197.3,78.5 1198.4,80.2 C1199.5,81.8 1199.9,82.1 1200.9,86.2 C1202.0,90.3 1203.6,98.6 1204.9,104.8 C1206.2,111.0 1207.6,116.5 1208.8,123.4 C1210.1,130.2 1211.3,138.5 1212.5,146.0 C1213.8,153.5 1215.6,161.8 1216.2,168.6 C1216.8,175.4 1216.2,180.9 1216.2,187.0 C1216.2,193.2 1216.2,199.3 1216.2,205.4 C1216.2,211.6 1216.2,218.0 1216.2,223.9 C1216.2,229.7 1216.3,235.0 1216.3,240.6 C1216.4,246.2 1216.4,251.8 1216.5,257.4 C1216.6,262.9 1216.3,269.6 1216.7,274.1 C1217.1,278.6 1217.6,280.5 1218.9,284.2 C1220.2,287.8 1223.3,292.2 1224.6,296.2 C1225.9,300.2 1226.5,304.3 1226.8,308.3 C1227.2,312.3 1227.4,316.7 1226.7,320.3 C1225.9,324.0 1224.8,327.4 1222.3,330.4 C1219.8,333.4 1215.3,336.1 1211.5,338.4 C1207.8,340.8 1202.0,342.4 1199.8,344.5 C1197.6,346.5 1198.6,345.9 1198.4,350.5 C1198.1,355.1 1204.2,368.5 1198.4,372.1 C1192.5,375.7 1169.2,375.7 1163.4,372.1 C1157.5,368.5 1163.6,355.1 1163.4,350.5 C1163.1,345.9 1164.1,346.5 1161.8,344.5 C1159.5,342.4 1153.4,340.8 1149.5,338.4 C1145.6,336.1 1141.0,333.4 1138.3,330.4 C1135.7,327.4 1134.4,324.0 1133.7,320.3 C1132.9,316.7 1133.3,312.3 1133.8,308.3 C1134.3,304.3 1135.1,300.2 1136.6,296.2 C1138.1,292.2 1141.4,287.8 1142.9,284.2 C1144.4,280.5 1145.0,278.6 1145.7,274.1 C1146.3,269.6 1146.3,262.9 1146.6,257.4 C1147.0,251.8 1147.3,246.2 1147.6,240.6 C1147.9,235.0 1148.3,229.7 1148.6,223.9 C1148.9,218.0 1149.2,211.6 1149.5,205.4 C1149.8,199.3 1150.1,193.2 1150.3,187.0 C1150.6,180.9 1150.3,175.4 1151.2,168.6 C1152.2,161.8 1154.4,153.5 1156.0,146.0 C1157.6,138.5 1159.2,130.2 1160.8,123.4 C1162.4,116.5 1164.1,111.0 1165.7,104.8 C1167.3,98.6 1169.3,90.3 1170.5,86.2 C1171.8,82.1 1172.2,81.8 1173.4,80.2 C1174.5,78.5 1175.4,77.3 1177.5,76.2 C1179.6,75.0 1183.2,73.1 1186.1,73.1 Z" fill="none" stroke="#90aaf0" stroke-width="5" stroke-opacity="0.75"/>
</g>
<g clip-path="url(#ta10)">
<rect x="1182.2" y="69.1" width="180" height="294.9" fill="#628ada"/>
<path d="M1199.0,227.7 Q1269.0,215.7 1339.0,221.7 L1339.0,365.0 L1199.0,365.0 Z" fill="#7a5ed0"/>
<path d="M1199.0,227.7 Q1269.0,215.7 1339.0,221.7" fill="none" stroke="#6a50c0" stroke-opacity="0.55" stroke-width="14" transform="translate(0,9)"/>
<ellipse cx="1267.0" cy="321.3" rx="49" ry="30.4" fill="#8076de"/>
<rect x="1249.6" y="344.6" width="40" height="20.4" fill="#9a66e6"/>
<path d="M1199.0,227.7 Q1269.0,215.7 1339.0,221.7" fill="none" stroke="#a0b4f4" stroke-width="3"/>
<path d="M1272.2,71.1 C1275.0,71.1 1278.5,73.0 1280.6,74.1 C1282.7,75.3 1283.4,76.5 1284.5,78.2 C1285.6,79.9 1286.0,80.1 1287.1,84.3 C1288.2,88.4 1289.8,96.8 1291.1,103.0 C1292.4,109.3 1293.8,114.8 1295.1,121.8 C1296.4,128.7 1297.6,137.0 1298.9,144.6 C1300.2,152.2 1302.0,160.5 1302.7,167.4 C1303.3,174.2 1302.7,179.7 1302.7,185.9 C1302.7,192.1 1302.8,198.3 1302.8,204.5 C1302.8,210.7 1302.8,217.2 1302.8,223.1 C1302.9,229.0 1303.0,234.3 1303.0,240.0 C1303.1,245.6 1303.2,251.2 1303.3,256.8 C1303.3,262.5 1303.1,269.2 1303.5,273.7 C1303.9,278.2 1304.4,280.1 1305.8,283.9 C1307.1,287.6 1310.2,292.0 1311.5,296.0 C1312.8,300.1 1313.4,304.1 1313.8,308.2 C1314.2,312.2 1314.6,316.6 1314.0,320.3 C1313.4,324.0 1312.5,327.4 1310.2,330.5 C1307.8,333.5 1303.5,336.2 1299.8,338.6 C1296.2,340.9 1290.5,342.6 1288.4,344.6 C1286.2,346.7 1287.3,346.1 1287.1,350.7 C1286.8,355.3 1292.9,368.6 1287.1,372.2 C1281.2,375.7 1257.9,375.7 1252.1,372.2 C1246.2,368.6 1252.3,355.3 1252.1,350.7 C1251.8,346.1 1252.7,346.7 1250.4,344.6 C1248.0,342.6 1241.9,340.9 1237.8,338.6 C1233.8,336.2 1229.0,333.5 1226.2,330.5 C1223.4,327.4 1221.9,324.0 1221.0,320.3 C1220.1,316.6 1220.3,312.2 1220.8,308.2 C1221.2,304.1 1222.0,300.1 1223.5,296.0 C1225.0,292.0 1228.3,287.6 1229.8,283.9 C1231.3,280.1 1231.9,278.2 1232.5,273.7 C1233.1,269.2 1233.1,262.5 1233.4,256.8 C1233.7,251.2 1234.0,245.6 1234.3,240.0 C1234.6,234.3 1234.9,229.0 1235.2,223.1 C1235.5,217.2 1235.8,210.7 1236.0,204.5 C1236.3,198.3 1236.6,192.1 1236.9,185.9 C1237.1,179.7 1236.7,174.2 1237.7,167.4 C1238.6,160.5 1240.8,152.2 1242.4,144.6 C1244.0,137.0 1245.5,128.7 1247.1,121.8 C1248.7,114.8 1250.3,109.3 1251.9,103.0 C1253.5,96.8 1255.4,88.4 1256.7,84.3 C1258.0,80.1 1258.4,79.9 1259.5,78.2 C1260.7,76.5 1261.5,75.3 1263.6,74.1 C1265.7,73.0 1269.3,71.1 1272.2,71.1 Z" fill="none" stroke="#90aaf0" stroke-width="5" stroke-opacity="0.75"/>
</g>
<g clip-path="url(#ta11)">
<rect x="1281.4" y="71.1" width="180" height="292.9" fill="#628ada"/>
<path d="M1293.8,230.7 Q1363.8,218.7 1433.8,224.7 L1433.8,365.0 L1293.8,365.0 Z" fill="#7a5ed0"/>
<path d="M1293.8,230.7 Q1363.8,218.7 1433.8,224.7" fill="none" stroke="#6a50c0" stroke-opacity="0.55" stroke-width="14" transform="translate(0,9)"/>
<ellipse cx="1359.1" cy="321.3" rx="49" ry="30.1" fill="#8076de"/>
<rect x="1343.5" y="344.5" width="40" height="20.5" fill="#9a66e6"/>
<path d="M1293.8,230.7 Q1363.8,218.7 1433.8,224.7" fill="none" stroke="#a0b4f4" stroke-width="3"/>
<path d="M1371.4,73.1 C1374.2,73.1 1377.7,75.0 1379.7,76.2 C1381.7,77.3 1382.5,78.5 1383.5,80.2 C1384.5,81.8 1384.9,82.1 1385.9,86.2 C1386.9,90.3 1388.2,98.6 1389.4,104.8 C1390.5,111.0 1391.8,116.5 1392.9,123.4 C1394.0,130.2 1394.9,138.5 1396.0,146.0 C1397.0,153.5 1398.7,161.8 1399.1,168.6 C1399.6,175.4 1398.8,180.9 1398.6,187.0 C1398.5,193.2 1398.3,199.3 1398.1,205.4 C1398.0,211.6 1397.8,218.0 1397.7,223.9 C1397.5,229.7 1397.5,235.0 1397.4,240.6 C1397.3,246.2 1397.2,251.8 1397.1,257.4 C1397.0,262.9 1396.6,269.6 1396.9,274.1 C1397.2,278.6 1397.6,280.5 1398.9,284.2 C1400.1,287.8 1403.0,292.2 1404.3,296.2 C1405.5,300.2 1405.8,304.3 1406.2,308.3 C1406.5,312.3 1406.9,316.7 1406.4,320.3 C1405.9,324.0 1405.2,327.4 1403.0,330.4 C1400.8,333.4 1396.6,336.1 1393.1,338.4 C1389.7,340.8 1384.1,342.4 1382.1,344.5 C1380.1,346.5 1381.2,345.9 1381.0,350.5 C1380.8,355.1 1386.8,368.5 1381.0,372.1 C1375.1,375.7 1351.8,375.7 1346.0,372.1 C1340.1,368.5 1346.3,355.1 1346.0,350.5 C1345.7,345.9 1346.6,346.5 1344.1,344.5 C1341.6,342.4 1335.3,340.8 1331.1,338.4 C1327.0,336.1 1322.0,333.4 1319.0,330.4 C1316.1,327.4 1314.4,324.0 1313.4,320.3 C1312.4,316.7 1312.7,312.3 1313.2,308.3 C1313.6,304.3 1314.6,300.2 1316.3,296.2 C1317.9,292.2 1321.3,287.8 1322.9,284.2 C1324.5,280.5 1325.1,278.6 1325.9,274.1 C1326.6,269.6 1326.8,262.9 1327.3,257.4 C1327.7,251.8 1328.2,246.2 1328.7,240.6 C1329.1,235.0 1329.6,229.7 1330.1,223.9 C1330.5,218.0 1331.0,211.6 1331.4,205.4 C1331.9,199.3 1332.3,193.2 1332.8,187.0 C1333.2,180.9 1333.0,175.4 1334.1,168.6 C1335.2,161.8 1337.7,153.5 1339.5,146.0 C1341.3,138.5 1343.1,130.2 1344.9,123.4 C1346.6,116.5 1348.4,111.0 1350.2,104.8 C1352.0,98.6 1354.1,90.3 1355.5,86.2 C1356.9,82.1 1357.3,81.8 1358.5,80.2 C1359.7,78.5 1360.6,77.3 1362.7,76.2 C1364.9,75.0 1368.5,73.1 1371.4,73.1 Z" fill="none" stroke="#90aaf0" stroke-width="5" stroke-opacity="0.75"/>
</g>
<g clip-path="url(#ta12)">
<rect x="1367.4" y="76.2" width="180" height="287.8" fill="#628ada"/>
<path d="M1378.9,230.7 Q1448.9,218.7 1518.9,224.7 L1518.9,365.0 L1378.9,365.0 Z" fill="#7a5ed0"/>
<path d="M1378.9,230.7 Q1448.9,218.7 1518.9,224.7" fill="none" stroke="#6a50c0" stroke-opacity="0.55" stroke-width="14" transform="translate(0,9)"/>
<ellipse cx="1443.4" cy="321.3" rx="49" ry="29.5" fill="#8076de"/>
<rect x="1429.5" y="344.0" width="40" height="21.0" fill="#9a66e6"/>
<path d="M1378.9,230.7 Q1448.9,218.7 1518.9,224.7" fill="none" stroke="#a0b4f4" stroke-width="3"/>
<path d="M1457.4,78.2 C1460.2,78.2 1463.7,80.0 1465.7,81.2 C1467.7,82.3 1468.5,83.5 1469.5,85.1 C1470.5,86.8 1470.9,87.0 1471.8,91.0 C1472.8,95.0 1474.1,103.2 1475.2,109.2 C1476.3,115.3 1477.5,120.7 1478.5,127.4 C1479.6,134.2 1480.5,142.2 1481.5,149.6 C1482.5,157.0 1484.1,165.0 1484.5,171.7 C1484.9,178.4 1484.1,183.8 1483.9,189.8 C1483.7,195.8 1483.5,201.8 1483.3,207.8 C1483.0,213.8 1482.8,220.1 1482.6,225.9 C1482.5,231.6 1482.4,236.8 1482.3,242.3 C1482.1,247.7 1482.0,253.2 1481.9,258.7 C1481.8,264.1 1481.2,270.7 1481.5,275.1 C1481.8,279.5 1482.2,281.3 1483.4,284.9 C1484.6,288.5 1487.6,292.8 1488.7,296.7 C1489.9,300.7 1490.2,304.6 1490.6,308.5 C1490.9,312.5 1491.4,316.8 1491.0,320.4 C1490.6,324.0 1490.2,327.3 1488.1,330.2 C1486.1,333.2 1482.0,335.8 1478.7,338.1 C1475.3,340.4 1470.0,342.0 1468.0,344.0 C1466.1,346.0 1467.1,345.3 1467.0,349.9 C1466.8,354.5 1472.8,368.2 1467.0,371.8 C1461.1,375.5 1437.8,375.5 1432.0,371.8 C1426.1,368.2 1432.3,354.5 1432.0,349.9 C1431.6,345.3 1432.6,346.0 1430.0,344.0 C1427.5,342.0 1421.0,340.4 1416.7,338.1 C1412.4,335.8 1407.3,333.2 1404.1,330.2 C1401.0,327.3 1399.1,324.0 1398.0,320.4 C1396.9,316.8 1397.1,312.5 1397.6,308.5 C1398.0,304.6 1399.1,300.7 1400.7,296.7 C1402.4,292.8 1405.8,288.5 1407.4,284.9 C1409.1,281.3 1409.7,279.5 1410.5,275.1 C1411.3,270.7 1411.5,264.1 1412.0,258.7 C1412.5,253.2 1413.0,247.7 1413.5,242.3 C1414.0,236.8 1414.5,231.6 1415.0,225.9 C1415.5,220.1 1416.0,213.8 1416.5,207.8 C1417.0,201.8 1417.5,195.8 1418.0,189.8 C1418.5,183.8 1418.3,178.4 1419.5,171.7 C1420.6,165.0 1423.2,157.0 1425.0,149.6 C1426.8,142.2 1428.7,134.2 1430.5,127.4 C1432.4,120.7 1434.2,115.3 1436.0,109.2 C1437.8,103.2 1440.0,95.0 1441.4,91.0 C1442.8,87.0 1443.3,86.8 1444.5,85.1 C1445.7,83.5 1446.6,82.3 1448.7,81.2 C1450.8,80.0 1454.5,78.2 1457.4,78.2 Z" fill="none" stroke="#90aaf0" stroke-width="5" stroke-opacity="0.75"/>
</g>
<g clip-path="url(#ta13)">
<rect x="1450.9" y="76.2" width="180" height="287.8" fill="#628ada"/>
<path d="M1462.8,232.8 Q1532.8,220.8 1602.8,226.8 L1602.8,365.0 L1462.8,365.0 Z" fill="#7a5ed0"/>
<path d="M1462.8,232.8 Q1532.8,220.8 1602.8,226.8" fill="none" stroke="#6a50c0" stroke-opacity="0.55" stroke-width="14" transform="translate(0,9)"/>
<ellipse cx="1527.9" cy="321.3" rx="49" ry="29.5" fill="#8076de"/>
<rect x="1515.6" y="344.0" width="40" height="21.0" fill="#9a66e6"/>
<path d="M1462.8,232.8 Q1532.8,220.8 1602.8,226.8" fill="none" stroke="#a0b4f4" stroke-width="3"/>
<path d="M1540.9,78.2 C1543.7,78.2 1547.2,80.0 1549.2,81.2 C1551.2,82.3 1552.0,83.5 1553.0,85.1 C1554.0,86.8 1554.4,87.0 1555.4,91.0 C1556.4,95.0 1557.7,103.2 1558.8,109.2 C1559.9,115.3 1561.1,120.7 1562.2,127.4 C1563.3,134.2 1564.3,142.2 1565.3,149.6 C1566.3,157.0 1567.9,165.0 1568.3,171.7 C1568.8,178.4 1568.0,183.8 1567.8,189.8 C1567.6,195.8 1567.4,201.8 1567.3,207.8 C1567.1,213.8 1566.9,220.1 1566.7,225.9 C1566.6,231.6 1566.5,236.8 1566.4,242.3 C1566.3,247.7 1566.2,253.2 1566.1,258.7 C1566.0,264.1 1565.5,270.7 1565.8,275.1 C1566.0,279.5 1566.5,281.3 1567.7,284.9 C1569.0,288.5 1571.9,292.8 1573.1,296.7 C1574.3,300.7 1574.5,304.6 1575.0,308.5 C1575.4,312.5 1576.0,316.8 1575.8,320.4 C1575.5,324.0 1575.3,327.3 1573.4,330.2 C1571.5,333.2 1567.6,335.8 1564.4,338.1 C1561.2,340.4 1555.9,342.0 1554.0,344.0 C1552.1,346.0 1553.2,345.3 1553.1,349.9 C1552.9,354.5 1558.9,368.2 1553.1,371.8 C1547.2,375.5 1523.9,375.5 1518.1,371.8 C1512.2,368.2 1518.4,354.5 1518.1,349.9 C1517.7,345.3 1518.6,346.0 1516.0,344.0 C1513.4,342.0 1506.8,340.4 1502.4,338.1 C1498.0,335.8 1492.7,333.2 1489.4,330.2 C1486.2,327.3 1484.0,324.0 1482.8,320.4 C1481.5,316.8 1481.6,312.5 1482.0,308.5 C1482.3,304.6 1483.5,300.7 1485.1,296.7 C1486.7,292.8 1490.1,288.5 1491.7,284.9 C1493.3,281.3 1494.0,279.5 1494.8,275.1 C1495.5,270.7 1495.7,264.1 1496.2,258.7 C1496.7,253.2 1497.2,247.7 1497.7,242.3 C1498.1,236.8 1498.6,231.6 1499.1,225.9 C1499.6,220.1 1500.1,213.8 1500.5,207.8 C1501.0,201.8 1501.5,195.8 1501.9,189.8 C1502.4,183.8 1502.2,178.4 1503.3,171.7 C1504.5,165.0 1507.0,157.0 1508.8,149.6 C1510.6,142.2 1512.4,134.2 1514.2,127.4 C1516.0,120.7 1517.8,115.3 1519.6,109.2 C1521.4,103.2 1523.6,95.0 1525.0,91.0 C1526.4,87.0 1526.8,86.8 1528.0,85.1 C1529.2,83.5 1530.1,82.3 1532.2,81.2 C1534.4,80.0 1538.0,78.2 1540.9,78.2 Z" fill="none" stroke="#90aaf0" stroke-width="5" stroke-opacity="0.75"/>
</g>
<g clip-path="url(#ta14)">
<rect x="1555.3" y="79.3" width="180" height="284.7" fill="#628ada"/>
<path d="M1561.0,235.8 Q1631.0,223.8 1701.0,229.8 L1701.0,365.0 L1561.0,365.0 Z" fill="#7a5ed0"/>
<path d="M1561.0,235.8 Q1631.0,223.8 1701.0,229.8" fill="none" stroke="#6a50c0" stroke-opacity="0.55" stroke-width="14" transform="translate(0,9)"/>
<ellipse cx="1622.6" cy="321.3" rx="49" ry="29.2" fill="#8076de"/>
<rect x="1612.2" y="343.7" width="40" height="21.3" fill="#9a66e6"/>
<path d="M1561.0,235.8 Q1631.0,223.8 1701.0,229.8" fill="none" stroke="#a0b4f4" stroke-width="3"/>
<path d="M1645.3,81.3 C1648.1,81.3 1651.5,83.1 1653.5,84.2 C1655.5,85.3 1656.2,86.5 1657.1,88.1 C1658.1,89.7 1658.5,89.9 1659.3,93.9 C1660.1,97.9 1661.1,105.9 1662.0,111.9 C1662.9,117.9 1663.8,123.2 1664.7,129.9 C1665.5,136.5 1666.1,144.5 1666.8,151.7 C1667.5,159.0 1668.8,167.0 1669.0,173.6 C1669.1,180.2 1668.1,185.5 1667.7,191.4 C1667.3,197.4 1666.9,203.3 1666.5,209.2 C1666.0,215.2 1665.6,221.4 1665.2,227.1 C1664.8,232.7 1664.5,237.9 1664.2,243.3 C1663.9,248.7 1663.6,254.1 1663.2,259.5 C1662.9,264.9 1662.2,271.3 1662.3,275.7 C1662.4,280.0 1662.8,281.8 1663.8,285.4 C1664.9,288.9 1667.7,293.2 1668.7,297.0 C1669.8,300.9 1669.8,304.8 1670.1,308.7 C1670.5,312.6 1671.0,316.8 1670.8,320.4 C1670.6,323.9 1670.6,327.2 1668.9,330.1 C1667.1,333.0 1663.4,335.6 1660.3,337.9 C1657.3,340.1 1652.2,341.8 1650.4,343.7 C1648.7,345.6 1649.8,344.9 1649.7,349.5 C1649.6,354.2 1655.5,368.0 1649.7,371.7 C1643.8,375.4 1620.5,375.4 1614.7,371.7 C1608.8,368.0 1615.1,354.2 1614.7,349.5 C1614.3,344.9 1615.2,345.6 1612.4,343.7 C1609.7,341.8 1602.9,340.1 1598.3,337.9 C1593.8,335.6 1588.3,333.0 1584.9,330.1 C1581.5,327.2 1579.1,323.9 1577.8,320.4 C1576.5,316.8 1576.6,312.6 1577.1,308.7 C1577.6,304.8 1578.9,300.9 1580.7,297.0 C1582.5,293.2 1586.1,288.9 1587.8,285.4 C1589.6,281.8 1590.3,280.0 1591.3,275.7 C1592.2,271.3 1592.7,264.9 1593.4,259.5 C1594.1,254.1 1594.8,248.7 1595.5,243.3 C1596.2,237.9 1596.9,232.7 1597.6,227.1 C1598.3,221.4 1599.0,215.2 1599.7,209.2 C1600.4,203.3 1601.1,197.4 1601.9,191.4 C1602.6,185.5 1602.6,180.2 1604.0,173.6 C1605.4,167.0 1608.2,159.0 1610.3,151.7 C1612.4,144.5 1614.6,136.5 1616.7,129.9 C1618.7,123.2 1620.7,117.9 1622.8,111.9 C1624.8,105.9 1627.3,97.9 1628.9,93.9 C1630.4,89.9 1630.9,89.7 1632.1,88.1 C1633.4,86.5 1634.3,85.3 1636.5,84.2 C1638.7,83.1 1642.4,81.3 1645.3,81.3 Z" fill="none" stroke="#90aaf0" stroke-width="5" stroke-opacity="0.75"/>
</g>
<g clip-path="url(#ta15)">
<rect x="1646.6" y="79.3" width="180" height="284.7" fill="#628ada"/>
<path d="M1650.7,240.9 Q1720.7,228.9 1790.7,234.9 L1790.7,365.0 L1650.7,365.0 Z" fill="#7a5ed0"/>
<path d="M1650.7,240.9 Q1720.7,228.9 1790.7,234.9" fill="none" stroke="#6a50c0" stroke-opacity="0.55" stroke-width="14" transform="translate(0,9)"/>
<ellipse cx="1712.1" cy="321.3" rx="49" ry="29.2" fill="#8076de"/>
<rect x="1703.5" y="343.7" width="40" height="21.3" fill="#9a66e6"/>
<path d="M1650.7,240.9 Q1720.7,228.9 1790.7,234.9" fill="none" stroke="#a0b4f4" stroke-width="3"/>
<path d="M1736.6,81.3 C1739.4,81.3 1742.8,83.1 1744.8,84.2 C1746.8,85.3 1747.4,86.5 1748.4,88.1 C1749.3,89.7 1749.7,89.9 1750.5,93.9 C1751.3,97.9 1752.2,105.9 1753.0,111.9 C1753.9,117.9 1754.8,123.2 1755.6,129.9 C1756.4,136.5 1756.9,144.5 1757.6,151.7 C1758.3,159.0 1759.5,167.0 1759.6,173.6 C1759.7,180.2 1758.7,185.5 1758.2,191.4 C1757.7,197.4 1757.3,203.3 1756.8,209.2 C1756.3,215.2 1755.8,221.4 1755.4,227.1 C1755.0,232.7 1754.7,237.9 1754.3,243.3 C1753.9,248.7 1753.6,254.1 1753.2,259.5 C1752.8,264.9 1752.0,271.3 1752.1,275.7 C1752.2,280.0 1752.6,281.8 1753.6,285.4 C1754.7,288.9 1757.4,293.2 1758.4,297.0 C1759.4,300.9 1759.3,304.8 1759.7,308.7 C1760.1,312.6 1760.7,316.8 1760.7,320.4 C1760.6,323.9 1760.8,327.2 1759.3,330.1 C1757.7,333.0 1754.1,335.6 1751.2,337.9 C1748.2,340.1 1743.3,341.8 1741.6,343.7 C1739.9,345.6 1741.1,344.9 1741.0,349.5 C1740.9,354.2 1746.8,368.0 1741.0,371.7 C1735.2,375.4 1711.8,375.4 1706.0,371.7 C1700.2,368.0 1706.4,354.2 1706.0,349.5 C1705.6,344.9 1706.4,345.6 1703.6,343.7 C1700.8,341.8 1693.9,340.1 1689.2,337.9 C1684.4,335.6 1678.8,333.0 1675.3,330.1 C1671.7,327.2 1669.1,323.9 1667.7,320.4 C1666.2,316.8 1666.3,312.6 1666.7,308.7 C1667.2,304.8 1668.6,300.9 1670.4,297.0 C1672.2,293.2 1675.8,288.9 1677.6,285.4 C1679.4,281.8 1680.2,280.0 1681.1,275.7 C1682.1,271.3 1682.6,264.9 1683.3,259.5 C1684.1,254.1 1684.8,248.7 1685.6,243.3 C1686.3,237.9 1687.1,232.7 1687.8,227.1 C1688.6,221.4 1689.3,215.2 1690.1,209.2 C1690.8,203.3 1691.6,197.4 1692.3,191.4 C1693.1,185.5 1693.1,180.2 1694.6,173.6 C1696.1,167.0 1698.9,159.0 1701.1,151.7 C1703.3,144.5 1705.5,136.5 1707.6,129.9 C1709.7,123.2 1711.8,117.9 1713.8,111.9 C1715.9,105.9 1718.5,97.9 1720.1,93.9 C1721.7,89.9 1722.1,89.7 1723.4,88.1 C1724.7,86.5 1725.6,85.3 1727.8,84.2 C1730.0,83.1 1733.8,81.3 1736.6,81.3 Z" fill="none" stroke="#90aaf0" stroke-width="5" stroke-opacity="0.75"/>
</g>
<g clip-path="url(#ta16)">
<rect x="1737.9" y="76.2" width="180" height="287.8" fill="#66a0e6"/>
<path d="M1737.7,215.8 Q1807.7,225.8 1877.7,253.8 L1877.7,365.0 L1737.7,365.0 Z" fill="#7a5ed0"/>
<path d="M1737.7,215.8 Q1807.7,225.8 1877.7,253.8" fill="none" stroke="#6a50c0" stroke-opacity="0.55" stroke-width="14" transform="translate(0,9)"/>
<ellipse cx="1796.5" cy="321.3" rx="49" ry="29.5" fill="#8076de"/>
<rect x="1789.5" y="344.0" width="40" height="21.0" fill="#9a66e6"/>
<path d="M1737.7,215.8 Q1807.7,225.8 1877.7,253.8" fill="none" stroke="#a0b4f4" stroke-width="3"/>
<path d="M1827.9,78.2 C1830.7,78.2 1834.1,80.0 1836.0,81.2 C1837.9,82.3 1838.6,83.5 1839.5,85.1 C1840.4,86.8 1840.8,87.0 1841.4,91.0 C1842.1,95.0 1842.8,103.2 1843.5,109.2 C1844.1,115.3 1844.9,120.7 1845.5,127.4 C1846.0,134.2 1846.4,142.2 1846.8,149.6 C1847.3,157.0 1848.3,165.0 1848.2,171.7 C1848.1,178.4 1846.9,183.8 1846.3,189.8 C1845.6,195.8 1845.0,201.8 1844.4,207.8 C1843.7,213.8 1843.0,220.1 1842.4,225.9 C1841.9,231.6 1841.4,236.8 1840.9,242.3 C1840.3,247.7 1839.8,253.2 1839.3,258.7 C1838.8,264.1 1837.8,270.7 1837.7,275.1 C1837.7,279.5 1838.0,281.3 1838.9,284.9 C1839.9,288.5 1842.5,292.8 1843.4,296.7 C1844.3,300.7 1844.0,304.6 1844.4,308.5 C1844.7,312.5 1845.3,316.8 1845.3,320.4 C1845.3,324.0 1845.7,327.3 1844.3,330.2 C1842.8,333.2 1839.4,335.8 1836.6,338.1 C1833.8,340.4 1829.1,342.0 1827.5,344.0 C1825.9,346.0 1827.1,345.3 1827.0,349.9 C1826.9,354.5 1832.8,368.2 1827.0,371.8 C1821.2,375.5 1797.8,375.5 1792.0,371.8 C1786.2,368.2 1792.4,354.5 1792.0,349.9 C1791.6,345.3 1792.4,346.0 1789.5,344.0 C1786.6,342.0 1779.5,340.4 1774.6,338.1 C1769.8,335.8 1764.0,333.2 1760.3,330.2 C1756.5,327.3 1753.8,324.0 1752.3,320.4 C1750.8,316.8 1750.8,312.5 1751.4,308.5 C1751.9,304.6 1753.5,300.7 1755.4,296.7 C1757.3,292.8 1761.1,288.5 1762.9,284.9 C1764.8,281.3 1765.6,279.5 1766.7,275.1 C1767.8,270.7 1768.5,264.1 1769.4,258.7 C1770.3,253.2 1771.2,247.7 1772.1,242.3 C1773.0,236.8 1773.9,231.6 1774.8,225.9 C1775.8,220.1 1776.7,213.8 1777.6,207.8 C1778.6,201.8 1779.5,195.8 1780.4,189.8 C1781.3,183.8 1781.5,178.4 1783.2,171.7 C1784.9,165.0 1788.0,157.0 1790.3,149.6 C1792.7,142.2 1795.2,134.2 1797.5,127.4 C1799.8,120.7 1802.0,115.3 1804.3,109.2 C1806.5,103.2 1809.3,95.0 1811.0,91.0 C1812.7,87.0 1813.2,86.8 1814.5,85.1 C1815.8,83.5 1816.8,82.3 1819.0,81.2 C1821.2,80.0 1825.1,78.2 1827.9,78.2 Z" fill="none" stroke="#90aaf0" stroke-width="5" stroke-opacity="0.75"/>
</g>
<g clip-path="url(#ta17)">
<rect x="1821.3" y="82.3" width="180" height="281.7" fill="#66a0e6"/>
<path d="M1824.2,245.0 Q1894.2,236.0 1964.2,245.0 L1964.2,365.0 L1824.2,365.0 Z" fill="#7a5ed0"/>
<path d="M1824.2,245.0 Q1894.2,236.0 1964.2,245.0" fill="none" stroke="#6a50c0" stroke-opacity="0.55" stroke-width="14" transform="translate(0,9)"/>
<ellipse cx="1886.0" cy="321.3" rx="49" ry="28.8" fill="#8076de"/>
<rect x="1880.8" y="343.4" width="40" height="21.6" fill="#9a66e6"/>
<path d="M1824.2,245.0 Q1894.2,236.0 1964.2,245.0" fill="none" stroke="#a0b4f4" stroke-width="3"/>
<path d="M1911.3,84.3 C1914.1,84.3 1917.5,86.1 1919.5,87.2 C1921.5,88.3 1922.1,89.4 1923.1,91.0 C1924.0,92.6 1924.4,92.9 1925.2,96.8 C1925.9,100.7 1926.8,108.6 1927.6,114.6 C1928.5,120.5 1929.4,125.7 1930.1,132.3 C1930.9,138.9 1931.4,146.7 1932.1,153.9 C1932.7,161.1 1933.9,169.0 1934.0,175.5 C1934.1,182.0 1933.0,187.2 1932.5,193.1 C1932.0,198.9 1931.5,204.8 1931.1,210.7 C1930.6,216.5 1930.0,222.7 1929.6,228.3 C1929.2,233.9 1928.8,238.9 1928.4,244.3 C1928.1,249.6 1927.7,254.9 1927.3,260.3 C1926.9,265.6 1926.1,272.0 1926.1,276.2 C1926.2,280.5 1926.6,282.3 1927.6,285.8 C1928.6,289.4 1931.4,293.5 1932.4,297.4 C1933.4,301.2 1933.1,305.0 1933.6,308.9 C1934.1,312.7 1935.0,316.9 1935.2,320.4 C1935.4,323.9 1936.1,327.1 1934.8,330.0 C1933.6,332.9 1930.3,335.4 1927.6,337.7 C1924.9,339.9 1920.3,341.5 1918.7,343.4 C1917.2,345.3 1918.4,344.5 1918.3,349.2 C1918.2,353.9 1924.1,367.8 1918.3,371.5 C1912.5,375.2 1889.1,375.2 1883.3,371.5 C1877.5,367.8 1883.7,353.9 1883.3,349.2 C1882.9,344.5 1883.7,345.3 1880.7,343.4 C1877.8,341.5 1870.6,339.9 1865.6,337.7 C1860.6,335.4 1854.7,332.9 1850.8,330.0 C1846.9,327.1 1843.9,323.9 1842.2,320.4 C1840.5,316.9 1840.3,312.7 1840.6,308.9 C1841.0,305.0 1842.5,301.2 1844.4,297.4 C1846.2,293.5 1849.8,289.4 1851.6,285.8 C1853.4,282.3 1854.2,280.5 1855.1,276.2 C1856.1,272.0 1856.7,265.6 1857.4,260.3 C1858.2,254.9 1858.9,249.6 1859.7,244.3 C1860.5,238.9 1861.2,233.9 1862.0,228.3 C1862.8,222.7 1863.5,216.5 1864.3,210.7 C1865.1,204.8 1865.9,198.9 1866.7,193.1 C1867.4,187.2 1867.5,182.0 1869.0,175.5 C1870.5,169.0 1873.4,161.1 1875.6,153.9 C1877.7,146.7 1880.0,138.9 1882.1,132.3 C1884.3,125.7 1886.3,120.5 1888.4,114.6 C1890.5,108.6 1893.2,100.7 1894.8,96.8 C1896.4,92.9 1896.8,92.6 1898.1,91.0 C1899.4,89.4 1900.3,88.3 1902.5,87.2 C1904.7,86.1 1908.5,84.3 1911.3,84.3 Z" fill="none" stroke="#90aaf0" stroke-width="5" stroke-opacity="0.75"/>
</g>
</g>
<g clip-path="url(#clipb)">
<rect x="324.5" y="432" width="1622.0" height="287.0" fill="#2f2f2f"/>
<rect x="324.5" y="673.1" width="1622.0" height="46.9" fill="#5c5c5c"/>
<g clip-path="url(#tb0)">
<rect x="274.9" y="434.9" width="180" height="288.1" fill="#c8c8c8"/>
<path d="M305.9,597.3 Q375.9,585.3 445.9,591.3 L445.9,724.0 L305.9,724.0 Z" fill="#d0d0d0"/>
<path d="M305.9,597.3 Q375.9,585.3 445.9,591.3" fill="none" stroke="#b8b8b8" stroke-opacity="0.55" stroke-width="14" transform="translate(0,9)"/>
<ellipse cx="382.0" cy="681.4" rx="49" ry="29.7" fill="#dadada"/>
<rect x="347.0" y="704.2" width="40" height="19.8" fill="#e6e6e6"/>
<path d="M305.9,597.3 Q375.9,585.3 445.9,591.3" fill="none" stroke="#f0f0f0" stroke-width="3"/>
<path d="M364.9,436.9 C367.7,436.9 371.4,438.8 373.6,439.9 C375.8,441.1 376.7,442.2 377.9,443.9 C379.1,445.5 379.5,445.8 381.0,449.8 C382.5,453.9 384.8,462.0 386.7,468.1 C388.6,474.2 390.5,479.7 392.4,486.4 C394.3,493.2 396.3,501.3 398.2,508.7 C400.2,516.1 402.8,524.2 404.0,531.0 C405.3,537.7 405.2,543.1 405.7,549.1 C406.3,555.2 406.9,561.2 407.5,567.3 C408.0,573.3 408.6,579.6 409.2,585.4 C409.7,591.2 410.3,596.4 410.9,601.9 C411.5,607.4 412.1,612.9 412.6,618.4 C413.2,623.9 413.5,630.5 414.4,634.9 C415.2,639.3 415.9,641.1 417.6,644.8 C419.2,648.4 422.7,652.7 424.4,656.7 C426.1,660.6 427.5,664.6 427.7,668.5 C428.0,672.5 427.6,676.8 425.7,680.4 C423.9,684.0 420.8,687.3 416.9,690.3 C412.9,693.3 407.1,695.9 402.1,698.2 C397.1,700.5 390.0,702.2 387.0,704.2 C384.1,706.1 384.9,705.6 384.5,710.1 C384.1,714.5 390.3,727.4 384.5,730.9 C378.7,734.3 355.3,734.3 349.5,730.9 C343.7,727.4 349.6,714.5 349.5,710.1 C349.4,705.6 350.6,706.1 349.0,704.2 C347.5,702.2 342.8,700.5 340.1,698.2 C337.4,695.9 334.1,693.3 332.9,690.3 C331.7,687.3 332.4,684.0 332.7,680.4 C333.1,676.8 334.1,672.5 334.7,668.5 C335.3,664.6 335.3,660.6 336.4,656.7 C337.5,652.7 340.4,648.4 341.6,644.8 C342.7,641.1 343.2,639.3 343.4,634.9 C343.6,630.5 343.0,623.9 342.8,618.4 C342.6,612.9 342.4,607.4 342.2,601.9 C342.0,596.4 341.8,591.2 341.6,585.4 C341.3,579.6 341.0,573.3 340.7,567.3 C340.4,561.2 340.2,555.2 339.9,549.1 C339.6,543.1 338.7,537.7 339.0,531.0 C339.3,524.2 340.8,516.1 341.7,508.7 C342.6,501.3 343.4,493.2 344.4,486.4 C345.4,479.7 346.5,474.2 347.5,468.1 C348.5,462.0 349.7,453.9 350.6,449.8 C351.5,445.8 351.9,445.5 352.9,443.9 C353.9,442.2 354.6,441.1 356.6,439.9 C358.6,438.8 362.1,436.9 364.9,436.9 Z" fill="none" stroke="#f4f4f4" stroke-width="6" stroke-opacity="0.9"/>
</g>
<g clip-path="url(#tb1)">
<rect x="364.7" y="434.0" width="180" height="289.0" fill="#c8c8c8"/>
<path d="M393.4,595.3 Q463.4,583.3 533.4,589.3 L533.4,724.0 L393.4,724.0 Z" fill="#d0d0d0"/>
<path d="M393.4,595.3 Q463.4,583.3 533.4,589.3" fill="none" stroke="#b8b8b8" stroke-opacity="0.55" stroke-width="14" transform="translate(0,9)"/>
<ellipse cx="468.3" cy="681.4" rx="49" ry="29.8" fill="#dadada"/>
<rect x="435.0" y="704.2" width="40" height="19.8" fill="#e6e6e6"/>
<path d="M393.4,595.3 Q463.4,583.3 533.4,589.3" fill="none" stroke="#f0f0f0" stroke-width="3"/>
<path d="M454.7,436.0 C457.5,436.0 461.2,437.8 463.4,438.9 C465.5,440.1 466.4,441.3 467.6,442.9 C468.8,444.6 469.2,444.8 470.6,448.9 C472.0,452.9 474.2,461.1 476.1,467.3 C477.9,473.4 479.7,478.9 481.5,485.6 C483.3,492.4 485.2,500.5 487.0,508.0 C488.8,515.5 491.3,523.6 492.5,530.4 C493.7,537.1 493.5,542.5 493.9,548.6 C494.4,554.6 494.9,560.7 495.4,566.8 C495.9,572.9 496.4,579.2 496.9,585.0 C497.3,590.8 497.9,596.0 498.3,601.6 C498.8,607.1 499.3,612.6 499.8,618.1 C500.3,623.7 500.6,630.3 501.3,634.7 C502.1,639.1 502.8,641.0 504.4,644.6 C506.0,648.3 509.4,652.6 511.1,656.6 C512.7,660.5 514.0,664.5 514.2,668.5 C514.5,672.5 514.1,676.8 512.4,680.4 C510.7,684.0 507.8,687.4 504.0,690.3 C500.2,693.3 494.4,696.0 489.6,698.3 C484.8,700.6 477.8,702.3 474.9,704.2 C472.1,706.2 472.9,705.8 472.5,710.2 C472.1,714.7 478.3,727.5 472.5,730.9 C466.7,734.4 443.3,734.4 437.5,730.9 C431.7,727.5 437.6,714.7 437.5,710.2 C437.4,705.8 438.6,706.2 436.9,704.2 C435.3,702.3 430.4,700.6 427.6,698.3 C424.8,696.0 421.3,693.3 420.0,690.3 C418.6,687.4 419.2,684.0 419.4,680.4 C419.6,676.8 420.6,672.5 421.2,668.5 C421.8,664.5 421.9,660.5 423.1,656.6 C424.3,652.6 427.2,648.3 428.4,644.6 C429.6,641.0 430.1,639.1 430.3,634.7 C430.6,630.3 430.1,623.7 430.0,618.1 C429.9,612.6 429.7,607.1 429.6,601.6 C429.5,596.0 429.4,590.8 429.3,585.0 C429.1,579.2 428.9,572.9 428.7,566.8 C428.5,560.7 428.3,554.6 428.1,548.6 C427.9,542.5 427.1,537.1 427.5,530.4 C427.9,523.6 429.5,515.5 430.5,508.0 C431.5,500.5 432.4,492.4 433.5,485.6 C434.5,478.9 435.7,473.4 436.9,467.3 C438.0,461.1 439.3,452.9 440.2,448.9 C441.2,444.8 441.6,444.6 442.6,442.9 C443.6,441.3 444.3,440.1 446.4,438.9 C448.4,437.8 451.9,436.0 454.7,436.0 Z" fill="none" stroke="#f4f4f4" stroke-width="6" stroke-opacity="0.9"/>
</g>
<g clip-path="url(#tb2)">
<rect x="457.1" y="439.9" width="180" height="283.1" fill="#c8c8c8"/>
<path d="M482.6,590.4 Q552.6,578.4 622.6,584.4 L622.6,724.0 L482.6,724.0 Z" fill="#d0d0d0"/>
<path d="M482.6,590.4 Q552.6,578.4 622.6,584.4" fill="none" stroke="#b8b8b8" stroke-opacity="0.55" stroke-width="14" transform="translate(0,9)"/>
<ellipse cx="556.2" cy="681.4" rx="49" ry="29.1" fill="#dadada"/>
<rect x="524.6" y="703.7" width="40" height="20.3" fill="#e6e6e6"/>
<path d="M482.6,590.4 Q552.6,578.4 622.6,584.4" fill="none" stroke="#f0f0f0" stroke-width="3"/>
<path d="M547.1,441.9 C549.9,441.9 553.6,443.7 555.7,444.8 C557.8,445.9 558.7,447.1 559.9,448.7 C561.0,450.3 561.4,450.5 562.8,454.5 C564.1,458.5 566.2,466.5 567.9,472.4 C569.6,478.4 571.3,483.8 573.0,490.4 C574.7,497.0 576.3,504.9 578.0,512.2 C579.7,519.5 582.1,527.4 583.1,534.0 C584.2,540.6 583.9,545.9 584.2,551.8 C584.6,557.7 585.0,563.6 585.4,569.6 C585.7,575.5 586.1,581.7 586.5,587.3 C586.9,593.0 587.3,598.1 587.7,603.5 C588.1,608.9 588.4,614.3 588.8,619.7 C589.2,625.0 589.4,631.5 590.0,635.8 C590.7,640.1 591.3,642.0 592.9,645.5 C594.5,649.1 597.8,653.3 599.3,657.2 C600.9,661.0 602.1,664.9 602.3,668.8 C602.5,672.7 602.2,676.9 600.6,680.4 C598.9,684.0 596.2,687.2 592.6,690.1 C589.0,693.0 583.4,695.6 578.7,697.9 C574.0,700.1 567.1,701.8 564.4,703.7 C561.6,705.6 562.5,705.0 562.1,709.5 C561.7,714.0 567.9,727.1 562.1,730.6 C556.3,734.2 532.9,734.2 527.1,730.6 C521.3,727.1 527.2,714.0 527.1,709.5 C527.0,705.0 528.1,705.6 526.4,703.7 C524.6,701.8 519.6,700.1 516.7,697.9 C513.7,695.6 510.1,693.0 508.6,690.1 C507.1,687.2 507.4,684.0 507.6,680.4 C507.7,676.9 508.7,672.7 509.3,668.8 C509.9,664.9 510.1,661.0 511.3,657.2 C512.6,653.3 515.6,649.1 516.9,645.5 C518.2,642.0 518.7,640.1 519.0,635.8 C519.4,631.5 519.0,625.0 519.0,619.7 C519.0,614.3 518.9,608.9 518.9,603.5 C518.9,598.1 518.9,593.0 518.9,587.3 C518.8,581.7 518.7,575.5 518.6,569.6 C518.5,563.6 518.5,557.7 518.4,551.8 C518.3,545.9 517.6,540.6 518.1,534.0 C518.7,527.4 520.4,519.5 521.5,512.2 C522.7,504.9 523.8,497.0 525.0,490.4 C526.1,483.8 527.4,478.4 528.7,472.4 C529.9,466.5 531.4,458.5 532.4,454.5 C533.4,450.5 533.8,450.3 534.9,448.7 C535.9,447.1 536.7,445.9 538.7,444.8 C540.8,443.7 544.3,441.9 547.1,441.9 Z" fill="none" stroke="#f4f4f4" stroke-width="6" stroke-opacity="0.9"/>
</g>
<g clip-path="url(#tb3)">
<rect x="549.4" y="436.9" width="180" height="286.1" fill="#c8c8c8"/>
<path d="M575.5,595.3 Q645.5,583.3 715.5,589.3 L715.5,724.0 L575.5,724.0 Z" fill="#d0d0d0"/>
<path d="M575.5,595.3 Q645.5,583.3 715.5,589.3" fill="none" stroke="#b8b8b8" stroke-opacity="0.55" stroke-width="14" transform="translate(0,9)"/>
<ellipse cx="649.2" cy="681.4" rx="49" ry="29.4" fill="#dadada"/>
<rect x="619.4" y="704.0" width="40" height="20.0" fill="#e6e6e6"/>
<path d="M575.5,595.3 Q645.5,583.3 715.5,589.3" fill="none" stroke="#f0f0f0" stroke-width="3"/>
<path d="M639.4,438.9 C642.2,438.9 645.9,440.7 648.0,441.9 C650.1,443.0 651.0,444.2 652.2,445.8 C653.4,447.4 653.8,447.7 655.1,451.7 C656.5,455.7 658.5,463.8 660.3,469.8 C662.0,475.9 663.7,481.3 665.4,488.0 C667.1,494.7 668.8,502.7 670.5,510.1 C672.3,517.5 674.6,525.5 675.7,532.2 C676.7,538.9 676.5,544.2 676.8,550.2 C677.2,556.2 677.6,562.2 678.0,568.2 C678.4,574.2 678.8,580.4 679.2,586.2 C679.6,591.9 680.0,597.1 680.4,602.5 C680.8,608.0 681.2,613.4 681.6,618.9 C682.0,624.3 682.2,630.9 682.9,635.3 C683.5,639.6 684.2,641.5 685.8,645.1 C687.3,648.7 690.7,652.9 692.2,656.9 C693.8,660.8 694.9,664.7 695.2,668.6 C695.5,672.6 695.3,676.8 693.9,680.4 C692.4,684.0 690.0,687.3 686.5,690.2 C683.0,693.2 677.6,695.8 673.0,698.1 C668.5,700.4 661.8,702.0 659.1,704.0 C656.4,705.9 657.3,705.4 656.9,709.9 C656.5,714.3 662.7,727.3 656.9,730.8 C651.1,734.3 627.7,734.3 621.9,730.8 C616.1,727.3 622.0,714.3 621.9,709.9 C621.8,705.4 622.9,705.9 621.1,704.0 C619.3,702.0 614.1,700.4 611.0,698.1 C607.9,695.8 604.2,693.2 602.5,690.2 C600.8,687.3 600.9,684.0 600.9,680.4 C600.8,676.8 601.7,672.6 602.2,668.6 C602.8,664.7 603.0,660.8 604.2,656.9 C605.5,652.9 608.5,648.7 609.8,645.1 C611.0,641.5 611.5,639.6 611.9,635.3 C612.2,630.9 611.8,624.3 611.8,618.9 C611.7,613.4 611.7,608.0 611.7,602.5 C611.6,597.1 611.6,591.9 611.6,586.2 C611.5,580.4 611.4,574.2 611.3,568.2 C611.2,562.2 611.1,556.2 611.0,550.2 C610.9,544.2 610.2,538.9 610.7,532.2 C611.2,525.5 612.9,517.5 614.0,510.1 C615.2,502.7 616.2,494.7 617.4,488.0 C618.6,481.3 619.8,475.9 621.1,469.8 C622.3,463.8 623.7,455.7 624.7,451.7 C625.7,447.7 626.1,447.4 627.2,445.8 C628.2,444.2 629.0,443.0 631.0,441.9 C633.1,440.7 636.6,438.9 639.4,438.9 Z" fill="none" stroke="#f4f4f4" stroke-width="6" stroke-opacity="0.9"/>
</g>
<g clip-path="url(#tb4)">
<rect x="634.2" y="434.9" width="180" height="288.1" fill="#c8c8c8"/>
<path d="M660.9,595.3 Q730.9,583.3 800.9,589.3 L800.9,724.0 L660.9,724.0 Z" fill="#d0d0d0"/>
<path d="M660.9,595.3 Q730.9,583.3 800.9,589.3" fill="none" stroke="#b8b8b8" stroke-opacity="0.55" stroke-width="14" transform="translate(0,9)"/>
<ellipse cx="734.8" cy="681.4" rx="49" ry="29.7" fill="#dadada"/>
<rect x="706.7" y="704.2" width="40" height="19.8" fill="#e6e6e6"/>
<path d="M660.9,595.3 Q730.9,583.3 800.9,589.3" fill="none" stroke="#f0f0f0" stroke-width="3"/>
<path d="M724.2,436.9 C727.0,436.9 730.7,438.8 732.8,439.9 C735.0,441.1 735.8,442.2 737.0,443.9 C738.2,445.5 738.6,445.8 740.0,449.8 C741.3,453.9 743.4,462.0 745.2,468.1 C746.9,474.2 748.6,479.7 750.4,486.4 C752.1,493.2 753.8,501.3 755.6,508.7 C757.3,516.1 759.7,524.2 760.8,531.0 C761.9,537.7 761.6,543.1 762.0,549.1 C762.4,555.2 762.8,561.2 763.2,567.3 C763.6,573.3 764.0,579.6 764.5,585.4 C764.9,591.2 765.3,596.4 765.7,601.9 C766.2,607.4 766.6,612.9 767.0,618.4 C767.5,623.9 767.6,630.5 768.3,634.9 C769.0,639.3 769.7,641.1 771.2,644.8 C772.8,648.4 776.2,652.7 777.8,656.7 C779.3,660.6 780.4,664.6 780.8,668.5 C781.1,672.5 781.1,676.8 779.8,680.4 C778.5,684.0 776.3,687.3 773.0,690.3 C769.7,693.3 764.4,695.9 759.9,698.2 C755.5,700.5 748.9,702.2 746.3,704.2 C743.7,706.1 744.5,705.6 744.2,710.1 C743.9,714.5 750.0,727.4 744.2,730.9 C738.4,734.3 715.0,734.3 709.2,730.9 C703.4,727.4 709.4,714.5 709.2,710.1 C709.0,705.6 710.2,706.1 708.3,704.2 C706.4,702.2 701.1,700.5 697.9,698.2 C694.7,695.9 690.8,693.3 689.0,690.3 C687.1,687.3 687.0,684.0 686.8,680.4 C686.6,676.8 687.3,672.5 687.8,668.5 C688.3,664.6 688.5,660.6 689.8,656.7 C691.0,652.7 694.0,648.4 695.2,644.8 C696.5,641.1 697.0,639.3 697.3,634.9 C697.6,630.5 697.2,623.9 697.2,618.4 C697.1,612.9 697.1,607.4 697.0,601.9 C697.0,596.4 696.9,591.2 696.9,585.4 C696.8,579.6 696.6,573.3 696.5,567.3 C696.4,561.2 696.3,555.2 696.1,549.1 C696.0,543.1 695.3,537.7 695.8,531.0 C696.3,524.2 698.0,516.1 699.1,508.7 C700.2,501.3 701.2,493.2 702.4,486.4 C703.5,479.7 704.8,474.2 706.0,468.1 C707.2,462.0 708.6,453.9 709.6,449.8 C710.6,445.8 711.0,445.5 712.0,443.9 C713.0,442.2 713.8,441.1 715.8,439.9 C717.9,438.8 721.4,436.9 724.2,436.9 Z" fill="none" stroke="#f4f4f4" stroke-width="6" stroke-opacity="0.9"/>
</g>
<g clip-path="url(#tb5)">
<rect x="739.0" y="436.9" width="180" height="286.1" fill="#c8c8c8"/>
<path d="M756.6,595.3 Q826.6,583.3 896.6,589.3 L896.6,724.0 L756.6,724.0 Z" fill="#d0d0d0"/>
<path d="M756.6,595.3 Q826.6,583.3 896.6,589.3" fill="none" stroke="#b8b8b8" stroke-opacity="0.55" stroke-width="14" transform="translate(0,9)"/>
<ellipse cx="825.3" cy="681.4" rx="49" ry="29.4" fill="#dadada"/>
<rect x="799.0" y="704.0" width="40" height="20.0" fill="#e6e6e6"/>
<path d="M756.6,595.3 Q826.6,583.3 896.6,589.3" fill="none" stroke="#f0f0f0" stroke-width="3"/>
<path d="M829.0,438.9 C831.8,438.9 835.4,440.7 837.5,441.9 C839.5,443.0 840.3,444.2 841.4,445.8 C842.5,447.4 842.9,447.7 844.0,451.7 C845.1,455.7 846.7,463.8 848.1,469.8 C849.5,475.9 850.9,481.3 852.2,488.0 C853.6,494.7 854.8,502.7 856.1,510.1 C857.4,517.5 859.4,525.5 860.0,532.2 C860.7,538.9 860.1,544.2 860.2,550.2 C860.3,556.2 860.3,562.2 860.4,568.2 C860.4,574.2 860.4,580.4 860.5,586.2 C860.6,591.9 860.7,597.1 860.8,602.5 C860.9,608.0 861.0,613.4 861.1,618.9 C861.2,624.3 861.0,630.9 861.4,635.3 C861.9,639.6 862.4,641.5 863.8,645.1 C865.1,648.7 868.2,652.9 869.6,656.9 C871.0,660.8 871.8,664.7 871.9,668.6 C872.1,672.6 871.9,676.8 870.6,680.4 C869.3,684.0 867.2,687.3 864.0,690.2 C860.9,693.2 855.8,695.8 851.5,698.1 C847.2,700.4 840.9,702.0 838.4,704.0 C835.9,705.9 836.8,705.4 836.5,709.9 C836.2,714.3 842.3,727.3 836.5,730.8 C830.7,734.3 807.3,734.3 801.5,730.8 C795.7,727.3 801.7,714.3 801.5,709.9 C801.3,705.4 802.4,705.9 800.4,704.0 C798.4,702.0 792.9,700.4 789.5,698.1 C786.1,695.8 782.0,693.2 780.0,690.2 C778.1,687.3 777.8,684.0 777.6,680.4 C777.4,676.8 778.2,672.6 778.9,668.6 C779.6,664.7 780.1,660.8 781.6,656.9 C783.1,652.9 786.3,648.7 787.8,645.1 C789.3,641.5 789.9,639.6 790.4,635.3 C791.0,630.9 791.0,624.3 791.3,618.9 C791.5,613.4 791.8,608.0 792.1,602.5 C792.4,597.1 792.7,591.9 792.9,586.2 C793.2,580.4 793.4,574.2 793.6,568.2 C793.9,562.2 794.1,556.2 794.3,550.2 C794.6,544.2 794.2,538.9 795.0,532.2 C795.9,525.5 798.1,517.5 799.6,510.1 C801.2,502.7 802.7,494.7 804.2,488.0 C805.8,481.3 807.4,475.9 808.9,469.8 C810.5,463.8 812.4,455.7 813.6,451.7 C814.8,447.7 815.3,447.4 816.4,445.8 C817.5,444.2 818.4,443.0 820.5,441.9 C822.6,440.7 826.2,438.9 829.0,438.9 Z" fill="none" stroke="#f4f4f4" stroke-width="6" stroke-opacity="0.9"/>
</g>
<g clip-path="url(#tb6)">
<rect x="823.9" y="436.9" width="180" height="286.1" fill="#c8c8c8"/>
<path d="M843.6,595.3 Q913.6,583.3 983.6,589.3 L983.6,724.0 L843.6,724.0 Z" fill="#d0d0d0"/>
<path d="M843.6,595.3 Q913.6,583.3 983.6,589.3" fill="none" stroke="#b8b8b8" stroke-opacity="0.55" stroke-width="14" transform="translate(0,9)"/>
<ellipse cx="913.4" cy="681.4" rx="49" ry="29.4" fill="#dadada"/>
<rect x="888.9" y="704.0" width="40" height="20.0" fill="#e6e6e6"/>
<path d="M843.6,595.3 Q913.6,583.3 983.6,589.3" fill="none" stroke="#f0f0f0" stroke-width="3"/>
<path d="M913.9,438.9 C916.7,438.9 920.3,440.7 922.4,441.9 C924.5,443.0 925.3,444.2 926.4,445.8 C927.5,447.4 927.9,447.7 929.1,451.7 C930.2,455.7 932.0,463.8 933.4,469.8 C934.9,475.9 936.4,481.3 937.8,488.0 C939.2,494.7 940.6,502.7 942.0,510.1 C943.4,517.5 945.4,525.5 946.2,532.2 C947.0,538.9 946.5,544.2 946.6,550.2 C946.7,556.2 946.9,562.2 947.0,568.2 C947.1,574.2 947.2,580.4 947.4,586.2 C947.5,591.9 947.8,597.1 947.9,602.5 C948.1,608.0 948.3,613.4 948.5,618.9 C948.6,624.3 948.5,630.9 949.0,635.3 C949.5,639.6 950.1,641.5 951.5,645.1 C952.9,648.7 956.0,652.9 957.4,656.9 C958.9,660.8 959.7,664.7 959.9,668.6 C960.2,672.6 960.2,676.8 959.1,680.4 C957.9,684.0 956.1,687.3 953.1,690.2 C950.1,693.2 945.2,695.8 941.0,698.1 C936.9,700.4 930.6,702.0 928.2,704.0 C925.7,705.9 926.7,705.4 926.4,709.9 C926.1,714.3 932.2,727.3 926.4,730.8 C920.6,734.3 897.2,734.3 891.4,730.8 C885.6,727.3 891.6,714.3 891.4,709.9 C891.2,705.4 892.2,705.9 890.2,704.0 C888.1,702.0 882.5,700.4 879.0,698.1 C875.5,695.8 871.3,693.2 869.1,690.2 C867.0,687.3 866.4,684.0 866.1,680.4 C865.7,676.8 866.4,672.6 866.9,668.6 C867.5,664.7 868.0,660.8 869.4,656.9 C870.9,652.9 874.0,648.7 875.5,645.1 C876.9,641.5 877.5,639.6 878.0,635.3 C878.5,630.9 878.4,624.3 878.6,618.9 C878.8,613.4 879.0,608.0 879.2,602.5 C879.4,597.1 879.6,591.9 879.8,586.2 C880.0,580.4 880.1,574.2 880.3,568.2 C880.4,562.2 880.6,556.2 880.7,550.2 C880.9,544.2 880.4,538.9 881.2,532.2 C882.0,525.5 884.1,517.5 885.5,510.1 C886.9,502.7 888.3,494.7 889.8,488.0 C891.3,481.3 892.8,475.9 894.2,469.8 C895.7,463.8 897.5,455.7 898.7,451.7 C899.9,447.7 900.3,447.4 901.4,445.8 C902.5,444.2 903.3,443.0 905.4,441.9 C907.5,440.7 911.1,438.9 913.9,438.9 Z" fill="none" stroke="#f4f4f4" stroke-width="6" stroke-opacity="0.9"/>
</g>
<g clip-path="url(#tb7)">
<rect x="916.2" y="436.9" width="180" height="286.1" fill="#c8c8c8"/>
<path d="M936.3,595.3 Q1006.3,583.3 1076.3,589.3 L1076.3,724.0 L936.3,724.0 Z" fill="#d0d0d0"/>
<path d="M936.3,595.3 Q1006.3,583.3 1076.3,589.3" fill="none" stroke="#b8b8b8" stroke-opacity="0.55" stroke-width="14" transform="translate(0,9)"/>
<ellipse cx="1006.4" cy="681.4" rx="49" ry="29.4" fill="#dadada"/>
<rect x="983.7" y="704.0" width="40" height="20.0" fill="#e6e6e6"/>
<path d="M936.3,595.3 Q1006.3,583.3 1076.3,589.3" fill="none" stroke="#f0f0f0" stroke-width="3"/>
<path d="M1006.2,438.9 C1009.0,438.9 1012.6,440.7 1014.7,441.9 C1016.8,443.0 1017.6,444.2 1018.7,445.8 C1019.8,447.4 1020.2,447.7 1021.4,451.7 C1022.6,455.7 1024.3,463.8 1025.8,469.8 C1027.3,475.9 1028.8,481.3 1030.2,488.0 C1031.7,494.7 1033.1,502.7 1034.5,510.1 C1035.9,517.5 1038.0,525.5 1038.8,532.2 C1039.5,538.9 1039.1,544.2 1039.2,550.2 C1039.4,556.2 1039.5,562.2 1039.7,568.2 C1039.8,574.2 1039.9,580.4 1040.1,586.2 C1040.3,591.9 1040.5,597.1 1040.7,602.5 C1040.9,608.0 1041.1,613.4 1041.2,618.9 C1041.4,624.3 1041.3,630.9 1041.8,635.3 C1042.3,639.6 1042.9,641.5 1044.3,645.1 C1045.8,648.7 1048.9,652.9 1050.3,656.9 C1051.8,660.8 1052.5,664.7 1052.8,668.6 C1053.2,672.6 1053.3,676.8 1052.4,680.4 C1051.4,684.0 1049.9,687.3 1047.0,690.2 C1044.2,693.2 1039.4,695.8 1035.4,698.1 C1031.3,700.4 1025.2,702.0 1022.9,704.0 C1020.5,705.9 1021.5,705.4 1021.2,709.9 C1020.9,714.3 1027.0,727.3 1021.2,730.8 C1015.4,734.3 992.0,734.3 986.2,730.8 C980.4,727.3 986.4,714.3 986.2,709.9 C986.0,705.4 987.0,705.9 984.9,704.0 C982.7,702.0 977.0,700.4 973.4,698.1 C969.7,695.8 965.4,693.2 963.0,690.2 C960.7,687.3 959.9,684.0 959.4,680.4 C958.8,676.8 959.4,672.6 959.8,668.6 C960.3,664.7 960.9,660.8 962.3,656.9 C963.8,652.9 966.9,648.7 968.3,645.1 C969.7,641.5 970.3,639.6 970.8,635.3 C971.3,630.9 971.2,624.3 971.4,618.9 C971.6,613.4 971.8,608.0 971.9,602.5 C972.1,597.1 972.3,591.9 972.5,586.2 C972.7,580.4 972.8,574.2 972.9,568.2 C973.1,562.2 973.2,556.2 973.3,550.2 C973.5,544.2 973.0,538.9 973.8,532.2 C974.5,525.5 976.6,517.5 978.0,510.1 C979.4,502.7 980.8,494.7 982.2,488.0 C983.7,481.3 985.2,475.9 986.6,469.8 C988.1,463.8 989.8,455.7 991.0,451.7 C992.2,447.7 992.6,447.4 993.7,445.8 C994.8,444.2 995.6,443.0 997.7,441.9 C999.8,440.7 1003.4,438.9 1006.2,438.9 Z" fill="none" stroke="#f4f4f4" stroke-width="6" stroke-opacity="0.9"/>
</g>
<g clip-path="url(#tb8)">
<rect x="1013.6" y="440.9" width="180" height="282.1" fill="#c8c8c8"/>
<path d="M1028.0,592.4 Q1098.0,580.4 1168.0,586.4 L1168.0,724.0 L1028.0,724.0 Z" fill="#d0d0d0"/>
<path d="M1028.0,592.4 Q1098.0,580.4 1168.0,586.4" fill="none" stroke="#b8b8b8" stroke-opacity="0.55" stroke-width="14" transform="translate(0,9)"/>
<ellipse cx="1094.5" cy="681.4" rx="49" ry="29.0" fill="#dadada"/>
<rect x="1073.6" y="703.6" width="40" height="20.4" fill="#e6e6e6"/>
<path d="M1028.0,592.4 Q1098.0,580.4 1168.0,586.4" fill="none" stroke="#f0f0f0" stroke-width="3"/>
<path d="M1103.6,442.9 C1106.4,442.9 1109.9,444.7 1112.0,445.8 C1114.0,446.9 1114.8,448.0 1115.8,449.6 C1116.9,451.3 1117.3,451.5 1118.3,455.4 C1119.3,459.4 1120.8,467.3 1122.0,473.3 C1123.3,479.3 1124.6,484.6 1125.7,491.2 C1126.9,497.8 1128.0,505.7 1129.2,512.9 C1130.3,520.1 1132.0,528.0 1132.6,534.6 C1133.1,541.2 1132.4,546.4 1132.3,552.3 C1132.2,558.2 1132.2,564.1 1132.1,570.0 C1132.0,575.9 1131.9,582.1 1131.8,587.7 C1131.8,593.4 1131.8,598.5 1131.8,603.8 C1131.8,609.2 1131.7,614.6 1131.7,619.9 C1131.7,625.3 1131.3,631.7 1131.7,636.0 C1132.0,640.3 1132.5,642.1 1133.8,645.7 C1135.1,649.2 1138.1,653.4 1139.4,657.3 C1140.6,661.1 1141.2,665.0 1141.4,668.8 C1141.7,672.7 1141.7,676.9 1140.8,680.4 C1139.9,684.0 1138.5,687.2 1135.8,690.1 C1133.2,693.0 1128.5,695.6 1124.6,697.8 C1120.8,700.1 1114.9,701.7 1112.6,703.6 C1110.3,705.5 1111.3,704.9 1111.1,709.4 C1110.9,713.9 1116.9,727.1 1111.1,730.6 C1105.3,734.1 1081.9,734.1 1076.1,730.6 C1070.3,727.1 1076.4,713.9 1076.1,709.4 C1075.8,704.9 1076.8,705.5 1074.6,703.6 C1072.4,701.7 1066.4,700.1 1062.6,697.8 C1058.9,695.6 1054.3,693.0 1051.8,690.1 C1049.4,687.2 1048.4,684.0 1047.8,680.4 C1047.2,676.9 1047.8,672.7 1048.4,668.8 C1049.0,665.0 1049.8,661.1 1051.4,657.3 C1052.9,653.4 1056.3,649.2 1057.8,645.7 C1059.4,642.1 1060.0,640.3 1060.7,636.0 C1061.4,631.7 1061.5,625.3 1061.9,619.9 C1062.3,614.6 1062.7,609.2 1063.0,603.8 C1063.4,598.5 1063.8,593.4 1064.2,587.7 C1064.6,582.1 1065.0,575.9 1065.3,570.0 C1065.7,564.1 1066.1,558.2 1066.5,552.3 C1066.8,546.4 1066.5,541.2 1067.6,534.6 C1068.6,528.0 1071.0,520.1 1072.7,512.9 C1074.4,505.7 1076.0,497.8 1077.7,491.2 C1079.4,484.6 1081.1,479.3 1082.8,473.3 C1084.5,467.3 1086.6,459.4 1087.9,455.4 C1089.3,451.5 1089.7,451.3 1090.8,449.6 C1092.0,448.0 1092.9,446.9 1095.0,445.8 C1097.1,444.7 1100.8,442.9 1103.6,442.9 Z" fill="none" stroke="#f4f4f4" stroke-width="6" stroke-opacity="0.9"/>
</g>
<g clip-path="url(#tb9)">
<rect x="1093.7" y="437.9" width="180" height="285.1" fill="#c8c8c8"/>
<path d="M1110.0,592.4 Q1180.0,580.4 1250.0,586.4 L1250.0,724.0 L1110.0,724.0 Z" fill="#d0d0d0"/>
<path d="M1110.0,592.4 Q1180.0,580.4 1250.0,586.4" fill="none" stroke="#b8b8b8" stroke-opacity="0.55" stroke-width="14" transform="translate(0,9)"/>
<ellipse cx="1177.8" cy="681.4" rx="49" ry="29.3" fill="#dadada"/>
<rect x="1158.5" y="703.9" width="40" height="20.1" fill="#e6e6e6"/>
<path d="M1110.0,592.4 Q1180.0,580.4 1250.0,586.4" fill="none" stroke="#f0f0f0" stroke-width="3"/>
<path d="M1183.7,439.9 C1186.5,439.9 1190.1,441.7 1192.1,442.9 C1194.2,444.0 1195.0,445.1 1196.0,446.8 C1197.1,448.4 1197.5,448.6 1198.6,452.6 C1199.7,456.6 1201.2,464.7 1202.5,470.7 C1203.9,476.7 1205.2,482.1 1206.5,488.8 C1207.8,495.5 1209.0,503.5 1210.2,510.8 C1211.4,518.1 1213.3,526.1 1213.9,532.8 C1214.5,539.4 1213.9,544.7 1213.9,550.7 C1213.9,556.7 1213.9,562.7 1213.9,568.6 C1213.9,574.6 1213.8,580.9 1213.9,586.6 C1213.9,592.3 1214.0,597.4 1214.0,602.9 C1214.1,608.3 1214.1,613.7 1214.2,619.2 C1214.2,624.6 1213.9,631.1 1214.3,635.4 C1214.7,639.8 1215.3,641.6 1216.6,645.2 C1217.9,648.8 1221.0,653.0 1222.3,657.0 C1223.6,660.9 1224.2,664.8 1224.5,668.7 C1224.9,672.6 1225.1,676.8 1224.4,680.4 C1223.6,684.0 1222.5,687.3 1220.0,690.2 C1217.5,693.1 1213.0,695.7 1209.2,698.0 C1205.4,700.3 1199.6,701.9 1197.4,703.9 C1195.2,705.8 1196.2,705.3 1196.0,709.7 C1195.8,714.2 1201.8,727.2 1196.0,730.7 C1190.2,734.2 1166.8,734.2 1161.0,730.7 C1155.2,727.2 1161.3,714.2 1161.0,709.7 C1160.7,705.3 1161.7,705.8 1159.4,703.9 C1157.1,701.9 1151.1,700.3 1147.2,698.0 C1143.3,695.7 1138.6,693.1 1136.0,690.2 C1133.4,687.3 1132.1,684.0 1131.4,680.4 C1130.6,676.8 1131.0,672.6 1131.5,668.7 C1132.0,664.8 1132.8,660.9 1134.3,657.0 C1135.8,653.0 1139.1,648.8 1140.6,645.2 C1142.1,641.6 1142.7,639.8 1143.3,635.4 C1144.0,631.1 1144.0,624.6 1144.3,619.2 C1144.6,613.7 1145.0,608.3 1145.3,602.9 C1145.6,597.4 1145.9,592.3 1146.3,586.6 C1146.6,580.9 1146.8,574.6 1147.1,568.6 C1147.4,562.7 1147.7,556.7 1148.0,550.7 C1148.3,544.7 1147.9,539.4 1148.9,532.8 C1149.8,526.1 1152.1,518.1 1153.7,510.8 C1155.3,503.5 1156.9,495.5 1158.5,488.8 C1160.1,482.1 1161.7,476.7 1163.3,470.7 C1165.0,464.7 1166.9,456.6 1168.2,452.6 C1169.5,448.6 1169.9,448.4 1171.0,446.8 C1172.2,445.1 1173.0,444.0 1175.1,442.9 C1177.2,441.7 1180.9,439.9 1183.7,439.9 Z" fill="none" stroke="#f4f4f4" stroke-width="6" stroke-opacity="0.9"/>
</g>
<g clip-path="url(#tb10)">
<rect x="1180.1" y="435.9" width="180" height="287.1" fill="#c8c8c8"/>
<path d="M1197.0,590.4 Q1267.0,578.4 1337.0,584.4 L1337.0,724.0 L1197.0,724.0 Z" fill="#d0d0d0"/>
<path d="M1197.0,590.4 Q1267.0,578.4 1337.0,584.4" fill="none" stroke="#b8b8b8" stroke-opacity="0.55" stroke-width="14" transform="translate(0,9)"/>
<ellipse cx="1265.0" cy="681.4" rx="49" ry="29.6" fill="#dadada"/>
<rect x="1247.5" y="704.1" width="40" height="19.9" fill="#e6e6e6"/>
<path d="M1197.0,590.4 Q1267.0,578.4 1337.0,584.4" fill="none" stroke="#f0f0f0" stroke-width="3"/>
<path d="M1270.1,437.9 C1272.9,437.9 1276.5,439.7 1278.5,440.9 C1280.6,442.0 1281.4,443.2 1282.5,444.8 C1283.5,446.5 1283.9,446.7 1285.0,450.8 C1286.1,454.8 1287.7,462.9 1289.0,469.0 C1290.4,475.1 1291.8,480.5 1293.1,487.2 C1294.4,494.0 1295.6,502.0 1296.8,509.4 C1298.1,516.8 1300.0,524.9 1300.6,531.6 C1301.3,538.3 1300.7,543.6 1300.7,549.6 C1300.7,555.7 1300.7,561.7 1300.7,567.7 C1300.8,573.7 1300.7,580.0 1300.8,585.8 C1300.8,591.5 1300.9,596.7 1301.0,602.2 C1301.1,607.7 1301.2,613.2 1301.2,618.6 C1301.3,624.1 1301.0,630.7 1301.4,635.1 C1301.9,639.4 1302.4,641.3 1303.7,644.9 C1305.1,648.5 1308.2,652.8 1309.5,656.8 C1310.8,660.7 1311.3,664.6 1311.7,668.6 C1312.2,672.5 1312.6,676.8 1312.0,680.4 C1311.4,684.0 1310.5,687.3 1308.1,690.3 C1305.8,693.2 1301.4,695.8 1297.8,698.1 C1294.1,700.4 1288.4,702.1 1286.3,704.1 C1284.2,706.0 1285.2,705.5 1285.0,710.0 C1284.8,714.4 1290.8,727.4 1285.0,730.8 C1279.2,734.3 1255.8,734.3 1250.0,730.8 C1244.2,727.4 1250.3,714.4 1250.0,710.0 C1249.7,705.5 1250.7,706.0 1248.3,704.1 C1245.9,702.1 1239.8,700.4 1235.8,698.1 C1231.8,695.8 1226.9,693.2 1224.1,690.3 C1221.3,687.3 1219.9,684.0 1219.0,680.4 C1218.1,676.8 1218.3,672.5 1218.7,668.6 C1219.2,664.6 1220.0,660.7 1221.5,656.8 C1223.0,652.8 1226.2,648.5 1227.7,644.9 C1229.2,641.3 1229.8,639.4 1230.4,635.1 C1231.1,630.7 1231.1,624.1 1231.4,618.6 C1231.7,613.2 1232.0,607.7 1232.3,602.2 C1232.6,596.7 1232.9,591.5 1233.2,585.8 C1233.5,580.0 1233.7,573.7 1234.0,567.7 C1234.3,561.7 1234.5,555.7 1234.8,549.6 C1235.1,543.6 1234.7,538.3 1235.6,531.6 C1236.6,524.9 1238.8,516.8 1240.3,509.4 C1241.9,502.0 1243.5,494.0 1245.1,487.2 C1246.6,480.5 1248.3,475.1 1249.8,469.0 C1251.4,462.9 1253.4,454.8 1254.6,450.8 C1255.9,446.7 1256.3,446.5 1257.5,444.8 C1258.6,443.2 1259.4,442.0 1261.5,440.9 C1263.6,439.7 1267.3,437.9 1270.1,437.9 Z" fill="none" stroke="#f4f4f4" stroke-width="6" stroke-opacity="0.9"/>
</g>
<g clip-path="url(#tb11)">
<rect x="1279.6" y="437.9" width="180" height="285.1" fill="#c8c8c8"/>
<path d="M1292.0,593.4 Q1362.0,581.4 1432.0,587.4 L1432.0,724.0 L1292.0,724.0 Z" fill="#d0d0d0"/>
<path d="M1292.0,593.4 Q1362.0,581.4 1432.0,587.4" fill="none" stroke="#b8b8b8" stroke-opacity="0.55" stroke-width="14" transform="translate(0,9)"/>
<ellipse cx="1357.4" cy="681.4" rx="49" ry="29.3" fill="#dadada"/>
<rect x="1341.7" y="703.9" width="40" height="20.1" fill="#e6e6e6"/>
<path d="M1292.0,593.4 Q1362.0,581.4 1432.0,587.4" fill="none" stroke="#f0f0f0" stroke-width="3"/>
<path d="M1369.6,439.9 C1372.4,439.9 1375.9,441.7 1378.0,442.9 C1380.0,444.0 1380.7,445.1 1381.8,446.8 C1382.8,448.4 1383.2,448.6 1384.2,452.6 C1385.1,456.6 1386.5,464.7 1387.6,470.7 C1388.8,476.7 1390.0,482.1 1391.1,488.8 C1392.2,495.5 1393.2,503.5 1394.2,510.8 C1395.3,518.1 1396.9,526.1 1397.4,532.8 C1397.8,539.4 1397.0,544.7 1396.9,550.7 C1396.7,556.7 1396.6,562.7 1396.4,568.6 C1396.2,574.6 1396.0,580.9 1395.9,586.6 C1395.8,592.3 1395.7,597.4 1395.7,602.9 C1395.6,608.3 1395.5,613.7 1395.4,619.2 C1395.3,624.6 1394.8,631.1 1395.1,635.4 C1395.4,639.8 1395.9,641.6 1397.1,645.2 C1398.4,648.8 1401.3,653.0 1402.5,657.0 C1403.7,660.9 1404.1,664.8 1404.4,668.7 C1404.8,672.6 1405.2,676.8 1404.7,680.4 C1404.1,684.0 1403.5,687.3 1401.3,690.2 C1399.1,693.1 1394.9,695.7 1391.4,698.0 C1387.9,700.3 1382.4,701.9 1380.4,703.9 C1378.3,705.8 1379.4,705.3 1379.2,709.7 C1379.0,714.2 1385.0,727.2 1379.2,730.7 C1373.4,734.2 1350.0,734.2 1344.2,730.7 C1338.4,727.2 1344.5,714.2 1344.2,709.7 C1343.9,705.3 1344.8,705.8 1342.4,703.9 C1339.9,701.9 1333.6,700.3 1329.4,698.0 C1325.2,695.7 1320.2,693.1 1317.3,690.2 C1314.3,687.3 1312.6,684.0 1311.7,680.4 C1310.7,676.8 1311.0,672.6 1311.4,668.7 C1311.9,664.8 1312.9,660.9 1314.5,657.0 C1316.1,653.0 1319.5,648.8 1321.1,645.2 C1322.7,641.6 1323.4,639.8 1324.1,635.4 C1324.9,631.1 1325.1,624.6 1325.5,619.2 C1326.0,613.7 1326.5,608.3 1326.9,602.9 C1327.4,597.4 1327.9,592.3 1328.3,586.6 C1328.8,580.9 1329.2,574.6 1329.7,568.6 C1330.1,562.7 1330.6,556.7 1331.0,550.7 C1331.5,544.7 1331.2,539.4 1332.4,532.8 C1333.5,526.1 1335.9,518.1 1337.7,510.8 C1339.5,503.5 1341.3,495.5 1343.1,488.8 C1344.9,482.1 1346.7,476.7 1348.4,470.7 C1350.2,464.7 1352.4,456.6 1353.8,452.6 C1355.1,448.6 1355.6,448.4 1356.8,446.8 C1358.0,445.1 1358.8,444.0 1361.0,442.9 C1363.1,441.7 1366.8,439.9 1369.6,439.9 Z" fill="none" stroke="#f4f4f4" stroke-width="6" stroke-opacity="0.9"/>
</g>
<g clip-path="url(#tb12)">
<rect x="1365.9" y="442.9" width="180" height="280.1" fill="#c8c8c8"/>
<path d="M1377.4,593.4 Q1447.4,581.4 1517.4,587.4 L1517.4,724.0 L1377.4,724.0 Z" fill="#d0d0d0"/>
<path d="M1377.4,593.4 Q1447.4,581.4 1517.4,587.4" fill="none" stroke="#b8b8b8" stroke-opacity="0.55" stroke-width="14" transform="translate(0,9)"/>
<ellipse cx="1442.0" cy="681.4" rx="49" ry="28.7" fill="#dadada"/>
<rect x="1428.0" y="703.4" width="40" height="20.6" fill="#e6e6e6"/>
<path d="M1377.4,593.4 Q1447.4,581.4 1517.4,587.4" fill="none" stroke="#f0f0f0" stroke-width="3"/>
<path d="M1455.9,444.9 C1458.7,444.9 1462.2,446.6 1464.2,447.7 C1466.2,448.9 1467.0,450.0 1468.0,451.6 C1469.0,453.2 1469.4,453.4 1470.4,457.3 C1471.3,461.2 1472.6,469.1 1473.7,475.0 C1474.8,480.9 1476.0,486.2 1477.1,492.7 C1478.1,499.3 1479.0,507.1 1480.0,514.3 C1481.0,521.5 1482.6,529.3 1483.0,535.8 C1483.4,542.4 1482.6,547.5 1482.4,553.4 C1482.2,559.2 1482.0,565.1 1481.8,570.9 C1481.6,576.8 1481.4,582.9 1481.2,588.5 C1481.0,594.1 1480.9,599.1 1480.8,604.5 C1480.7,609.8 1480.6,615.1 1480.4,620.4 C1480.3,625.7 1479.8,632.1 1480.1,636.4 C1480.3,640.6 1480.8,642.5 1482.0,646.0 C1483.2,649.5 1486.1,653.6 1487.3,657.5 C1488.5,661.3 1488.7,665.1 1489.1,668.9 C1489.5,672.8 1490.0,676.9 1489.6,680.4 C1489.2,683.9 1488.7,687.1 1486.7,690.0 C1484.6,692.9 1480.6,695.4 1477.2,697.7 C1473.9,699.9 1468.5,701.5 1466.5,703.4 C1464.6,705.3 1465.7,704.7 1465.5,709.2 C1465.3,713.7 1471.3,726.9 1465.5,730.5 C1459.7,734.0 1436.3,734.0 1430.5,730.5 C1424.7,726.9 1430.8,713.7 1430.5,709.2 C1430.2,704.7 1431.1,705.3 1428.5,703.4 C1426.0,701.5 1419.5,699.9 1415.2,697.7 C1410.9,695.4 1405.8,692.9 1402.7,690.0 C1399.6,687.1 1397.7,683.9 1396.6,680.4 C1395.5,676.9 1395.7,672.8 1396.1,668.9 C1396.6,665.1 1397.7,661.3 1399.3,657.5 C1400.9,653.6 1404.4,649.5 1406.0,646.0 C1407.6,642.5 1408.3,640.6 1409.1,636.4 C1409.8,632.1 1410.1,625.7 1410.6,620.4 C1411.1,615.1 1411.6,609.8 1412.1,604.5 C1412.6,599.1 1413.1,594.1 1413.6,588.5 C1414.1,582.9 1414.6,576.8 1415.1,570.9 C1415.6,565.1 1416.0,559.2 1416.5,553.4 C1417.0,547.5 1416.8,542.4 1418.0,535.8 C1419.2,529.3 1421.7,521.5 1423.5,514.3 C1425.4,507.1 1427.2,499.3 1429.1,492.7 C1430.9,486.2 1432.7,480.9 1434.5,475.0 C1436.3,469.1 1438.5,461.2 1440.0,457.3 C1441.4,453.4 1441.8,453.2 1443.0,451.6 C1444.2,450.0 1445.1,448.9 1447.2,447.7 C1449.4,446.6 1453.1,444.9 1455.9,444.9 Z" fill="none" stroke="#f4f4f4" stroke-width="6" stroke-opacity="0.9"/>
</g>
<g clip-path="url(#tb13)">
<rect x="1449.7" y="442.9" width="180" height="280.1" fill="#c8c8c8"/>
<path d="M1461.6,595.3 Q1531.6,583.3 1601.6,589.3 L1601.6,724.0 L1461.6,724.0 Z" fill="#d0d0d0"/>
<path d="M1461.6,595.3 Q1531.6,583.3 1601.6,589.3" fill="none" stroke="#b8b8b8" stroke-opacity="0.55" stroke-width="14" transform="translate(0,9)"/>
<ellipse cx="1526.7" cy="681.4" rx="49" ry="28.7" fill="#dadada"/>
<rect x="1514.4" y="703.4" width="40" height="20.6" fill="#e6e6e6"/>
<path d="M1461.6,595.3 Q1531.6,583.3 1601.6,589.3" fill="none" stroke="#f0f0f0" stroke-width="3"/>
<path d="M1539.7,444.9 C1542.5,444.9 1546.0,446.6 1548.0,447.7 C1550.1,448.9 1550.8,450.0 1551.8,451.6 C1552.9,453.2 1553.2,453.4 1554.2,457.3 C1555.2,461.2 1556.5,469.1 1557.6,475.0 C1558.8,480.9 1560.0,486.2 1561.1,492.7 C1562.1,499.3 1563.1,507.1 1564.1,514.3 C1565.1,521.5 1566.7,529.3 1567.2,535.8 C1567.6,542.4 1566.8,547.5 1566.6,553.4 C1566.4,559.2 1566.3,565.1 1566.1,570.9 C1565.9,576.8 1565.7,582.9 1565.6,588.5 C1565.4,594.1 1565.3,599.1 1565.2,604.5 C1565.1,609.8 1565.0,615.1 1564.9,620.4 C1564.8,625.7 1564.3,632.1 1564.6,636.4 C1564.9,640.6 1565.3,642.5 1566.6,646.0 C1567.8,649.5 1570.7,653.6 1571.9,657.5 C1573.1,661.3 1573.4,665.1 1573.8,668.9 C1574.2,672.8 1574.9,676.9 1574.6,680.4 C1574.4,683.9 1574.2,687.1 1572.3,690.0 C1570.4,692.9 1566.5,695.4 1563.2,697.7 C1560.0,699.9 1554.7,701.5 1552.8,703.4 C1550.9,705.3 1552.1,704.7 1551.9,709.2 C1551.7,713.7 1557.7,726.9 1551.9,730.5 C1546.1,734.0 1522.7,734.0 1516.9,730.5 C1511.1,726.9 1517.2,713.7 1516.9,709.2 C1516.6,704.7 1517.4,705.3 1514.8,703.4 C1512.2,701.5 1505.7,699.9 1501.2,697.7 C1496.8,695.4 1491.5,692.9 1488.3,690.0 C1485.0,687.1 1482.9,683.9 1481.6,680.4 C1480.4,676.9 1480.4,672.8 1480.8,668.9 C1481.2,665.1 1482.3,661.3 1483.9,657.5 C1485.6,653.6 1489.0,649.5 1490.6,646.0 C1492.2,642.5 1492.9,640.6 1493.6,636.4 C1494.3,632.1 1494.6,625.7 1495.1,620.4 C1495.5,615.1 1496.0,609.8 1496.5,604.5 C1497.0,599.1 1497.5,594.1 1498.0,588.5 C1498.4,582.9 1498.9,576.8 1499.4,570.9 C1499.8,565.1 1500.3,559.2 1500.8,553.4 C1501.2,547.5 1501.0,542.4 1502.2,535.8 C1503.3,529.3 1505.8,521.5 1507.6,514.3 C1509.4,507.1 1511.2,499.3 1513.1,492.7 C1514.9,486.2 1516.6,480.9 1518.4,475.0 C1520.2,469.1 1522.4,461.2 1523.8,457.3 C1525.2,453.4 1525.6,453.2 1526.8,451.6 C1528.0,450.0 1528.9,448.9 1531.0,447.7 C1533.2,446.6 1536.9,444.9 1539.7,444.9 Z" fill="none" stroke="#f4f4f4" stroke-width="6" stroke-opacity="0.9"/>
</g>
<g clip-path="url(#tb14)">
<rect x="1554.4" y="445.8" width="180" height="277.2" fill="#c8c8c8"/>
<path d="M1560.2,598.3 Q1630.2,586.3 1700.2,592.3 L1700.2,724.0 L1560.2,724.0 Z" fill="#d0d0d0"/>
<path d="M1560.2,598.3 Q1630.2,586.3 1700.2,592.3" fill="none" stroke="#b8b8b8" stroke-opacity="0.55" stroke-width="14" transform="translate(0,9)"/>
<ellipse cx="1621.7" cy="681.4" rx="49" ry="28.4" fill="#dadada"/>
<rect x="1611.3" y="703.1" width="40" height="20.9" fill="#e6e6e6"/>
<path d="M1560.2,598.3 Q1630.2,586.3 1700.2,592.3" fill="none" stroke="#f0f0f0" stroke-width="3"/>
<path d="M1644.4,447.8 C1647.2,447.8 1650.6,449.6 1652.6,450.7 C1654.6,451.8 1655.3,452.9 1656.3,454.5 C1657.2,456.0 1657.6,456.3 1658.4,460.1 C1659.2,464.0 1660.2,471.8 1661.1,477.6 C1662.0,483.5 1663.0,488.7 1663.8,495.1 C1664.6,501.6 1665.2,509.3 1665.9,516.4 C1666.7,523.5 1668.0,531.2 1668.1,537.7 C1668.3,544.1 1667.3,549.2 1666.8,555.0 C1666.4,560.8 1666.0,566.6 1665.6,572.3 C1665.2,578.1 1664.7,584.2 1664.3,589.7 C1663.9,595.2 1663.7,600.2 1663.3,605.4 C1663.0,610.7 1662.7,615.9 1662.4,621.2 C1662.0,626.4 1661.3,632.7 1661.4,637.0 C1661.5,641.2 1661.9,642.9 1663.0,646.4 C1664.0,649.9 1666.8,654.0 1667.9,657.8 C1668.9,661.5 1668.9,665.3 1669.2,669.1 C1669.6,672.9 1670.2,677.0 1669.9,680.4 C1669.7,683.9 1669.8,687.1 1668.0,689.9 C1666.3,692.7 1662.5,695.3 1659.5,697.5 C1656.4,699.7 1651.3,701.3 1649.6,703.1 C1647.8,705.0 1648.9,704.3 1648.8,708.8 C1648.7,713.3 1654.6,726.8 1648.8,730.3 C1643.0,733.9 1619.6,733.9 1613.8,730.3 C1608.0,726.8 1614.2,713.3 1613.8,708.8 C1613.4,704.3 1614.3,705.0 1611.6,703.1 C1608.8,701.3 1602.1,699.7 1597.5,697.5 C1592.9,695.3 1587.4,692.7 1584.0,689.9 C1580.6,687.1 1578.2,683.9 1576.9,680.4 C1575.7,677.0 1575.8,672.9 1576.2,669.1 C1576.7,665.3 1578.1,661.5 1579.9,657.8 C1581.6,654.0 1585.2,649.9 1587.0,646.4 C1588.7,642.9 1589.5,641.2 1590.4,637.0 C1591.3,632.7 1591.8,626.4 1592.5,621.2 C1593.2,615.9 1593.9,610.7 1594.6,605.4 C1595.3,600.2 1596.0,595.2 1596.7,589.7 C1597.4,584.2 1598.1,578.1 1598.8,572.3 C1599.6,566.6 1600.3,560.8 1601.0,555.0 C1601.7,549.2 1601.7,544.1 1603.1,537.7 C1604.5,531.2 1607.3,523.5 1609.4,516.4 C1611.6,509.3 1613.7,501.6 1615.8,495.1 C1617.8,488.7 1619.8,483.5 1621.9,477.6 C1623.9,471.8 1626.4,464.0 1628.0,460.1 C1629.6,456.3 1630.0,456.0 1631.3,454.5 C1632.5,452.9 1633.4,451.8 1635.6,450.7 C1637.8,449.6 1641.6,447.8 1644.4,447.8 Z" fill="none" stroke="#f4f4f4" stroke-width="6" stroke-opacity="0.9"/>
</g>
<g clip-path="url(#tb15)">
<rect x="1646.0" y="445.8" width="180" height="277.2" fill="#c8c8c8"/>
<path d="M1650.1,603.3 Q1720.1,591.3 1790.1,597.3 L1790.1,724.0 L1650.1,724.0 Z" fill="#d0d0d0"/>
<path d="M1650.1,603.3 Q1720.1,591.3 1790.1,597.3" fill="none" stroke="#b8b8b8" stroke-opacity="0.55" stroke-width="14" transform="translate(0,9)"/>
<ellipse cx="1711.5" cy="681.4" rx="49" ry="28.4" fill="#dadada"/>
<rect x="1702.9" y="703.1" width="40" height="20.9" fill="#e6e6e6"/>
<path d="M1650.1,603.3 Q1720.1,591.3 1790.1,597.3" fill="none" stroke="#f0f0f0" stroke-width="3"/>
<path d="M1736.0,447.8 C1738.8,447.8 1742.2,449.6 1744.2,450.7 C1746.2,451.8 1746.9,452.9 1747.8,454.5 C1748.8,456.0 1749.1,456.3 1749.9,460.1 C1750.7,464.0 1751.6,471.8 1752.5,477.6 C1753.3,483.5 1754.2,488.7 1755.0,495.1 C1755.8,501.6 1756.3,509.3 1757.0,516.4 C1757.7,523.5 1758.9,531.2 1759.0,537.7 C1759.1,544.1 1758.1,549.2 1757.6,555.0 C1757.2,560.8 1756.7,566.6 1756.2,572.3 C1755.8,578.1 1755.2,584.2 1754.8,589.7 C1754.4,595.2 1754.1,600.2 1753.7,605.4 C1753.4,610.7 1753.0,615.9 1752.6,621.2 C1752.3,626.4 1751.5,632.7 1751.5,637.0 C1751.6,641.2 1752.0,642.9 1753.0,646.4 C1754.1,649.9 1756.8,654.0 1757.8,657.8 C1758.9,661.5 1758.8,665.3 1759.1,669.1 C1759.5,672.9 1760.2,677.0 1760.1,680.4 C1760.0,683.9 1760.3,687.1 1758.7,689.9 C1757.1,692.7 1753.5,695.3 1750.6,697.5 C1747.6,699.7 1742.7,701.3 1741.0,703.1 C1739.3,705.0 1740.5,704.3 1740.4,708.8 C1740.3,713.3 1746.2,726.8 1740.4,730.3 C1734.6,733.9 1711.2,733.9 1705.4,730.3 C1699.6,726.8 1705.8,713.3 1705.4,708.8 C1705.0,704.3 1705.8,705.0 1703.0,703.1 C1700.2,701.3 1693.3,699.7 1688.6,697.5 C1683.9,695.3 1678.3,692.7 1674.7,689.9 C1671.1,687.1 1668.5,683.9 1667.1,680.4 C1665.7,677.0 1665.7,672.9 1666.1,669.1 C1666.6,665.3 1668.0,661.5 1669.8,657.8 C1671.7,654.0 1675.3,649.9 1677.0,646.4 C1678.8,642.9 1679.6,641.2 1680.5,637.0 C1681.5,632.7 1682.0,626.4 1682.8,621.2 C1683.5,615.9 1684.3,610.7 1685.0,605.4 C1685.7,600.2 1686.5,595.2 1687.2,589.7 C1688.0,584.2 1688.7,578.1 1689.5,572.3 C1690.2,566.6 1691.0,560.8 1691.8,555.0 C1692.5,549.2 1692.6,544.1 1694.0,537.7 C1695.5,531.2 1698.3,523.5 1700.5,516.4 C1702.7,509.3 1704.9,501.6 1707.0,495.1 C1709.1,488.7 1711.2,483.5 1713.3,477.6 C1715.3,471.8 1717.9,464.0 1719.5,460.1 C1721.1,456.3 1721.5,456.0 1722.8,454.5 C1724.1,452.9 1725.0,451.8 1727.2,450.7 C1729.4,449.6 1733.2,447.8 1736.0,447.8 Z" fill="none" stroke="#f4f4f4" stroke-width="6" stroke-opacity="0.9"/>
</g>
<g clip-path="url(#tb16)">
<rect x="1737.6" y="442.9" width="180" height="280.1" fill="#c8c8c8"/>
<path d="M1737.4,578.3 Q1807.4,588.3 1877.4,616.3 L1877.4,724.0 L1737.4,724.0 Z" fill="#d0d0d0"/>
<path d="M1737.4,578.3 Q1807.4,588.3 1877.4,616.3" fill="none" stroke="#b8b8b8" stroke-opacity="0.55" stroke-width="14" transform="translate(0,9)"/>
<ellipse cx="1796.2" cy="681.4" rx="49" ry="28.7" fill="#dadada"/>
<rect x="1789.2" y="703.4" width="40" height="20.6" fill="#e6e6e6"/>
<path d="M1737.4,578.3 Q1807.4,588.3 1877.4,616.3" fill="none" stroke="#f0f0f0" stroke-width="3"/>
<path d="M1827.6,444.9 C1830.4,444.9 1833.8,446.6 1835.7,447.7 C1837.6,448.9 1838.3,450.0 1839.2,451.6 C1840.1,453.2 1840.5,453.4 1841.1,457.3 C1841.8,461.2 1842.5,469.1 1843.2,475.0 C1843.8,480.9 1844.6,486.2 1845.2,492.7 C1845.7,499.3 1846.1,507.1 1846.5,514.3 C1847.0,521.5 1848.0,529.3 1847.9,535.8 C1847.8,542.4 1846.6,547.5 1846.0,553.4 C1845.4,559.2 1844.7,565.1 1844.1,570.9 C1843.4,576.8 1842.7,582.9 1842.2,588.5 C1841.6,594.1 1841.1,599.1 1840.6,604.5 C1840.1,609.8 1839.5,615.1 1839.0,620.4 C1838.5,625.7 1837.5,632.1 1837.4,636.4 C1837.4,640.6 1837.7,642.5 1838.7,646.0 C1839.6,649.5 1842.2,653.6 1843.1,657.5 C1844.0,661.3 1843.8,665.1 1844.1,668.9 C1844.4,672.8 1845.0,676.9 1845.0,680.4 C1845.0,683.9 1845.4,687.1 1844.0,690.0 C1842.5,692.9 1839.1,695.4 1836.3,697.7 C1833.5,699.9 1828.8,701.5 1827.2,703.4 C1825.6,705.3 1826.8,704.7 1826.7,709.2 C1826.6,713.7 1832.5,726.9 1826.7,730.5 C1820.9,734.0 1797.5,734.0 1791.7,730.5 C1785.9,726.9 1792.1,713.7 1791.7,709.2 C1791.3,704.7 1792.1,705.3 1789.2,703.4 C1786.3,701.5 1779.2,699.9 1774.3,697.7 C1769.5,695.4 1763.7,692.9 1760.0,690.0 C1756.3,687.1 1753.5,683.9 1752.0,680.4 C1750.5,676.9 1750.6,672.8 1751.1,668.9 C1751.6,665.1 1753.2,661.3 1755.1,657.5 C1757.0,653.6 1760.8,649.5 1762.7,646.0 C1764.5,642.5 1765.4,640.6 1766.4,636.4 C1767.5,632.1 1768.2,625.7 1769.1,620.4 C1770.0,615.1 1770.9,609.8 1771.8,604.5 C1772.7,599.1 1773.6,594.1 1774.6,588.5 C1775.5,582.9 1776.4,576.8 1777.3,570.9 C1778.3,565.1 1779.2,559.2 1780.1,553.4 C1781.1,547.5 1781.3,542.4 1782.9,535.8 C1784.6,529.3 1787.7,521.5 1790.0,514.3 C1792.4,507.1 1794.9,499.3 1797.2,492.7 C1799.5,486.2 1801.7,480.9 1804.0,475.0 C1806.2,469.1 1809.0,461.2 1810.7,457.3 C1812.4,453.4 1812.9,453.2 1814.2,451.6 C1815.5,450.0 1816.5,448.9 1818.7,447.7 C1820.9,446.6 1824.8,444.9 1827.6,444.9 Z" fill="none" stroke="#f4f4f4" stroke-width="6" stroke-opacity="0.9"/>
</g>
<g clip-path="url(#tb17)">
<rect x="1821.3" y="448.8" width="180" height="274.2" fill="#c8c8c8"/>
<path d="M1824.2,607.2 Q1894.2,598.2 1964.2,607.2 L1964.2,724.0 L1824.2,724.0 Z" fill="#d0d0d0"/>
<path d="M1824.2,607.2 Q1894.2,598.2 1964.2,607.2" fill="none" stroke="#b8b8b8" stroke-opacity="0.55" stroke-width="14" transform="translate(0,9)"/>
<ellipse cx="1886.0" cy="681.4" rx="49" ry="28.0" fill="#dadada"/>
<rect x="1880.8" y="702.9" width="40" height="21.1" fill="#e6e6e6"/>
<path d="M1824.2,607.2 Q1894.2,598.2 1964.2,607.2" fill="none" stroke="#f0f0f0" stroke-width="3"/>
<path d="M1911.3,450.8 C1914.1,450.8 1917.5,452.5 1919.5,453.6 C1921.5,454.7 1922.1,455.8 1923.1,457.3 C1924.0,458.9 1924.4,459.1 1925.2,462.9 C1925.9,466.8 1926.8,474.5 1927.6,480.2 C1928.5,486.0 1929.4,491.1 1930.1,497.5 C1930.9,503.9 1931.4,511.5 1932.1,518.5 C1932.7,525.5 1933.9,533.1 1934.0,539.5 C1934.1,545.8 1933.0,550.9 1932.5,556.6 C1932.0,562.3 1931.5,568.0 1931.1,573.7 C1930.6,579.4 1930.0,585.4 1929.6,590.8 C1929.2,596.3 1928.8,601.2 1928.4,606.4 C1928.1,611.6 1927.7,616.8 1927.3,622.0 C1926.9,627.1 1926.1,633.4 1926.1,637.5 C1926.2,641.7 1926.6,643.4 1927.6,646.9 C1928.6,650.3 1931.4,654.3 1932.4,658.1 C1933.4,661.8 1933.1,665.5 1933.6,669.3 C1934.1,673.0 1935.0,677.0 1935.2,680.5 C1935.4,683.9 1936.1,687.0 1934.8,689.8 C1933.6,692.6 1930.3,695.1 1927.6,697.3 C1924.9,699.4 1920.3,701.0 1918.7,702.9 C1917.2,704.7 1918.4,703.9 1918.3,708.5 C1918.2,713.0 1924.1,726.6 1918.3,730.2 C1912.5,733.8 1889.1,733.8 1883.3,730.2 C1877.5,726.6 1883.7,713.0 1883.3,708.5 C1882.9,703.9 1883.7,704.7 1880.7,702.9 C1877.8,701.0 1870.6,699.4 1865.6,697.3 C1860.6,695.1 1854.7,692.6 1850.8,689.8 C1846.9,687.0 1843.9,683.9 1842.2,680.5 C1840.5,677.0 1840.3,673.0 1840.6,669.3 C1841.0,665.5 1842.5,661.8 1844.4,658.1 C1846.2,654.3 1849.8,650.3 1851.6,646.9 C1853.4,643.4 1854.2,641.7 1855.1,637.5 C1856.1,633.4 1856.7,627.1 1857.4,622.0 C1858.2,616.8 1858.9,611.6 1859.7,606.4 C1860.5,601.2 1861.2,596.3 1862.0,590.8 C1862.8,585.4 1863.5,579.4 1864.3,573.7 C1865.1,568.0 1865.9,562.3 1866.7,556.6 C1867.4,550.9 1867.5,545.8 1869.0,539.5 C1870.5,533.1 1873.4,525.5 1875.6,518.5 C1877.7,511.5 1880.0,503.9 1882.1,497.5 C1884.3,491.1 1886.3,486.0 1888.4,480.2 C1890.5,474.5 1893.2,466.8 1894.8,462.9 C1896.4,459.1 1896.8,458.9 1898.1,457.3 C1899.4,455.8 1900.3,454.7 1902.5,453.6 C1904.7,452.5 1908.5,450.8 1911.3,450.8 Z" fill="none" stroke="#f4f4f4" stroke-width="6" stroke-opacity="0.9"/>
</g>
</g>
<g clip-path="url(#clipc)">
<rect x="321.5" y="790" width="1621.5" height="286.0" fill="#040404"/>
<rect x="321.5" y="1030.2" width="1621.5" height="46.8" fill="#1e1e1e"/>
<g clip-path="url(#tc0)">
<rect x="271.9" y="792.9" width="180" height="287.1" fill="#858585"/>
<path d="M302.9,954.8 Q372.9,942.8 442.9,948.8 L442.9,1081.0 L302.9,1081.0 Z" fill="#656565"/>
<path d="M302.9,954.8 Q372.9,942.8 442.9,948.8" fill="none" stroke="#585858" stroke-opacity="0.55" stroke-width="14" transform="translate(0,9)"/>
<ellipse cx="379.0" cy="1038.5" rx="49" ry="29.6" fill="#777777"/>
<rect x="344.0" y="1061.2" width="40" height="19.8" fill="#808080"/>
<path d="M302.9,954.8 Q372.9,942.8 442.9,948.8" fill="none" stroke="#a8a8a8" stroke-width="3"/>
<path d="M361.9,794.9 C364.7,794.9 368.4,796.7 370.6,797.9 C372.8,799.0 373.7,800.2 374.9,801.8 C376.1,803.5 376.5,803.7 378.0,807.8 C379.5,811.8 381.8,819.9 383.7,826.0 C385.6,832.1 387.5,837.5 389.4,844.2 C391.3,851.0 393.3,859.0 395.2,866.4 C397.2,873.8 399.8,881.9 401.0,888.6 C402.3,895.3 402.2,900.7 402.7,906.7 C403.3,912.7 403.9,918.8 404.5,924.8 C405.0,930.8 405.6,937.1 406.2,942.9 C406.7,948.6 407.3,953.8 407.9,959.3 C408.5,964.8 409.1,970.3 409.6,975.7 C410.2,981.2 410.5,987.8 411.4,992.2 C412.2,996.6 412.9,998.4 414.6,1002.0 C416.2,1005.7 419.7,1009.9 421.4,1013.9 C423.1,1017.8 424.5,1021.8 424.7,1025.7 C425.0,1029.6 424.6,1033.9 422.7,1037.5 C420.9,1041.2 417.8,1044.4 413.9,1047.4 C409.9,1050.4 404.1,1053.0 399.1,1055.3 C394.1,1057.6 387.0,1059.2 384.0,1061.2 C381.1,1063.2 381.9,1062.7 381.5,1067.1 C381.1,1071.6 387.3,1084.4 381.5,1087.8 C375.7,1091.3 352.3,1091.3 346.5,1087.8 C340.7,1084.4 346.6,1071.6 346.5,1067.1 C346.4,1062.7 347.6,1063.2 346.0,1061.2 C344.5,1059.2 339.8,1057.6 337.1,1055.3 C334.4,1053.0 331.1,1050.4 329.9,1047.4 C328.7,1044.4 329.4,1041.2 329.7,1037.5 C330.1,1033.9 331.1,1029.6 331.7,1025.7 C332.3,1021.8 332.3,1017.8 333.4,1013.9 C334.5,1009.9 337.4,1005.7 338.6,1002.0 C339.7,998.4 340.2,996.6 340.4,992.2 C340.6,987.8 340.0,981.2 339.8,975.7 C339.6,970.3 339.4,964.8 339.2,959.3 C339.0,953.8 338.8,948.6 338.6,942.9 C338.3,937.1 338.0,930.8 337.7,924.8 C337.4,918.8 337.2,912.7 336.9,906.7 C336.6,900.7 335.7,895.3 336.0,888.6 C336.3,881.9 337.8,873.8 338.7,866.4 C339.6,859.0 340.4,851.0 341.4,844.2 C342.4,837.5 343.5,832.1 344.5,826.0 C345.5,819.9 346.7,811.8 347.6,807.8 C348.5,803.7 348.9,803.5 349.9,801.8 C350.9,800.2 351.6,799.0 353.6,797.9 C355.6,796.7 359.1,794.9 361.9,794.9 Z" fill="none" stroke="#a6a6a6" stroke-width="5" stroke-opacity="0.75"/>
</g>
<g clip-path="url(#tc1)">
<rect x="361.7" y="791.9" width="180" height="288.1" fill="#858585"/>
<path d="M390.4,952.8 Q460.4,940.8 530.4,946.8 L530.4,1081.0 L390.4,1081.0 Z" fill="#656565"/>
<path d="M390.4,952.8 Q460.4,940.8 530.4,946.8" fill="none" stroke="#585858" stroke-opacity="0.55" stroke-width="14" transform="translate(0,9)"/>
<ellipse cx="465.4" cy="1038.5" rx="49" ry="29.7" fill="#777777"/>
<rect x="432.0" y="1061.3" width="40" height="19.7" fill="#808080"/>
<path d="M390.4,952.8 Q460.4,940.8 530.4,946.8" fill="none" stroke="#a8a8a8" stroke-width="3"/>
<path d="M451.7,793.9 C454.5,793.9 458.2,795.8 460.4,796.9 C462.5,798.1 463.4,799.2 464.6,800.9 C465.8,802.5 466.2,802.8 467.6,806.8 C469.0,810.9 471.3,819.0 473.1,825.1 C474.9,831.2 476.7,836.7 478.5,843.5 C480.3,850.2 482.2,858.3 484.0,865.7 C485.8,873.2 488.4,881.3 489.5,888.0 C490.7,894.8 490.5,900.1 491.0,906.2 C491.5,912.2 491.9,918.3 492.4,924.3 C492.9,930.4 493.4,936.7 493.9,942.5 C494.4,948.3 494.9,953.5 495.4,959.0 C495.9,964.5 496.4,970.0 496.9,975.5 C497.4,981.0 497.6,987.6 498.4,992.0 C499.1,996.4 499.8,998.3 501.4,1001.9 C503.1,1005.5 506.5,1009.8 508.1,1013.8 C509.8,1017.7 511.1,1021.7 511.3,1025.7 C511.5,1029.6 511.1,1033.9 509.4,1037.5 C507.7,1041.2 504.8,1044.5 501.0,1047.4 C497.2,1050.4 491.5,1053.0 486.6,1055.4 C481.8,1057.7 474.8,1059.3 471.9,1061.3 C469.1,1063.3 469.9,1062.8 469.5,1067.2 C469.1,1071.7 475.3,1084.4 469.5,1087.9 C463.7,1091.3 440.3,1091.3 434.5,1087.9 C428.7,1084.4 434.6,1071.7 434.5,1067.2 C434.4,1062.8 435.6,1063.3 433.9,1061.3 C432.3,1059.3 427.4,1057.7 424.6,1055.4 C421.8,1053.0 418.4,1050.4 417.0,1047.4 C415.6,1044.5 416.2,1041.2 416.4,1037.5 C416.6,1033.9 417.7,1029.6 418.3,1025.7 C418.9,1021.7 418.9,1017.7 420.1,1013.8 C421.3,1009.8 424.2,1005.5 425.4,1001.9 C426.7,998.3 427.1,996.4 427.4,992.0 C427.6,987.6 427.1,981.0 427.0,975.5 C426.9,970.0 426.8,964.5 426.7,959.0 C426.5,953.5 426.4,948.3 426.3,942.5 C426.1,936.7 425.9,930.4 425.7,924.3 C425.5,918.3 425.3,912.2 425.1,906.2 C424.9,900.1 424.1,894.8 424.5,888.0 C424.9,881.3 426.5,873.2 427.5,865.7 C428.5,858.3 429.4,850.2 430.5,843.5 C431.6,836.7 432.7,831.2 433.9,825.1 C435.0,819.0 436.3,810.9 437.2,806.8 C438.2,802.8 438.6,802.5 439.6,800.9 C440.6,799.2 441.3,798.1 443.4,796.9 C445.4,795.8 448.9,793.9 451.7,793.9 Z" fill="none" stroke="#a6a6a6" stroke-width="5" stroke-opacity="0.75"/>
</g>
<g clip-path="url(#tc2)">
<rect x="454.1" y="797.9" width="180" height="282.1" fill="#c2c2c2"/>
<path d="M479.6,947.9 Q549.6,935.9 619.6,941.9 L619.6,1081.0 L479.6,1081.0 Z" fill="#8e8e8e"/>
<path d="M479.6,947.9 Q549.6,935.9 619.6,941.9" fill="none" stroke="#7a7a7a" stroke-opacity="0.55" stroke-width="14" transform="translate(0,9)"/>
<ellipse cx="553.3" cy="1038.5" rx="49" ry="29.0" fill="#949494"/>
<rect x="521.6" y="1060.7" width="40" height="20.3" fill="#9a9a9a"/>
<path d="M479.6,947.9 Q549.6,935.9 619.6,941.9" fill="none" stroke="#e4e4e4" stroke-width="3"/>
<path d="M544.1,799.9 C546.9,799.9 550.6,801.6 552.7,802.8 C554.8,803.9 555.7,805.0 556.9,806.6 C558.0,808.2 558.4,808.5 559.8,812.4 C561.1,816.4 563.2,824.3 564.9,830.3 C566.6,836.3 568.3,841.6 570.0,848.2 C571.7,854.8 573.4,862.7 575.1,869.9 C576.8,877.2 579.1,885.1 580.2,891.7 C581.2,898.2 580.9,903.5 581.3,909.4 C581.6,915.3 582.0,921.2 582.4,927.1 C582.8,933.0 583.1,939.2 583.5,944.8 C583.9,950.4 584.3,955.5 584.7,960.9 C585.1,966.3 585.5,971.6 585.9,977.0 C586.3,982.4 586.4,988.8 587.1,993.1 C587.8,997.4 588.4,999.2 589.9,1002.8 C591.5,1006.3 594.8,1010.5 596.4,1014.4 C598.0,1018.2 599.1,1022.1 599.3,1026.0 C599.5,1029.8 599.2,1034.0 597.6,1037.6 C596.0,1041.1 593.3,1044.3 589.6,1047.2 C586.0,1050.1 580.4,1052.7 575.7,1055.0 C571.0,1057.2 564.2,1058.8 561.4,1060.7 C558.6,1062.7 559.5,1062.1 559.1,1066.5 C558.7,1071.0 564.9,1084.1 559.1,1087.6 C553.3,1091.1 529.9,1091.1 524.1,1087.6 C518.3,1084.1 524.2,1071.0 524.1,1066.5 C524.0,1062.1 525.1,1062.7 523.4,1060.7 C521.7,1058.8 516.7,1057.2 513.7,1055.0 C510.7,1052.7 507.1,1050.1 505.6,1047.2 C504.1,1044.3 504.5,1041.1 504.6,1037.6 C504.7,1034.0 505.7,1029.8 506.3,1026.0 C507.0,1022.1 507.1,1018.2 508.4,1014.4 C509.7,1010.5 512.7,1006.3 513.9,1002.8 C515.2,999.2 515.7,997.4 516.1,993.1 C516.4,988.8 516.0,982.4 516.0,977.0 C516.0,971.6 516.0,966.3 516.0,960.9 C515.9,955.5 516.0,950.4 515.9,944.8 C515.9,939.2 515.7,933.0 515.7,927.1 C515.6,921.2 515.5,915.3 515.4,909.4 C515.3,903.5 514.6,898.2 515.2,891.7 C515.7,885.1 517.4,877.2 518.6,869.9 C519.7,862.7 520.8,854.8 522.0,848.2 C523.2,841.6 524.4,836.3 525.7,830.3 C526.9,824.3 528.4,816.4 529.4,812.4 C530.4,808.5 530.8,808.2 531.9,806.6 C532.9,805.0 533.7,803.9 535.7,802.8 C537.8,801.6 541.3,799.9 544.1,799.9 Z" fill="none" stroke="#dadada" stroke-width="5" stroke-opacity="0.75"/>
</g>
<g clip-path="url(#tc3)">
<rect x="546.4" y="794.9" width="180" height="285.1" fill="#858585"/>
<path d="M572.6,952.8 Q642.6,940.8 712.6,946.8 L712.6,1081.0 L572.6,1081.0 Z" fill="#656565"/>
<path d="M572.6,952.8 Q642.6,940.8 712.6,946.8" fill="none" stroke="#585858" stroke-opacity="0.55" stroke-width="14" transform="translate(0,9)"/>
<ellipse cx="646.2" cy="1038.5" rx="49" ry="29.3" fill="#777777"/>
<rect x="616.4" y="1061.0" width="40" height="20.0" fill="#808080"/>
<path d="M572.6,952.8 Q642.6,940.8 712.6,946.8" fill="none" stroke="#a8a8a8" stroke-width="3"/>
<path d="M636.4,796.9 C639.2,796.9 642.9,798.7 645.0,799.8 C647.2,801.0 648.0,802.1 649.2,803.8 C650.4,805.4 650.8,805.6 652.1,809.6 C653.5,813.6 655.5,821.7 657.3,827.7 C659.0,833.7 660.7,839.1 662.4,845.8 C664.1,852.5 665.8,860.5 667.6,867.8 C669.3,875.2 671.7,883.2 672.7,889.8 C673.8,896.5 673.5,901.8 673.9,907.8 C674.3,913.7 674.6,919.7 675.0,925.7 C675.4,931.7 675.8,937.9 676.2,943.6 C676.6,949.3 677.0,954.5 677.4,959.9 C677.9,965.4 678.3,970.8 678.7,976.2 C679.1,981.7 679.2,988.2 679.9,992.5 C680.6,996.9 681.2,998.7 682.8,1002.3 C684.4,1005.9 687.7,1010.2 689.3,1014.1 C690.9,1018.0 692.0,1021.9 692.3,1025.8 C692.5,1029.7 692.4,1034.0 690.9,1037.5 C689.4,1041.1 687.0,1044.4 683.5,1047.3 C680.0,1050.3 674.6,1052.9 670.0,1055.2 C665.5,1057.4 658.8,1059.1 656.1,1061.0 C653.4,1063.0 654.3,1062.4 653.9,1066.9 C653.5,1071.3 659.7,1084.3 653.9,1087.7 C648.1,1091.2 624.7,1091.2 618.9,1087.7 C613.1,1084.3 619.0,1071.3 618.9,1066.9 C618.8,1062.4 619.9,1063.0 618.1,1061.0 C616.3,1059.1 611.1,1057.4 608.0,1055.2 C605.0,1052.9 601.2,1050.3 599.5,1047.3 C597.8,1044.4 597.9,1041.1 597.9,1037.5 C597.9,1034.0 598.7,1029.7 599.3,1025.8 C599.8,1021.9 600.0,1018.0 601.3,1014.1 C602.5,1010.2 605.5,1005.9 606.8,1002.3 C608.1,998.7 608.6,996.9 608.9,992.5 C609.2,988.2 608.8,981.7 608.8,976.2 C608.8,970.8 608.7,965.4 608.7,959.9 C608.7,954.5 608.7,949.3 608.6,943.6 C608.5,937.9 608.4,931.7 608.3,925.7 C608.2,919.7 608.1,913.7 608.0,907.8 C607.9,901.8 607.2,896.5 607.7,889.8 C608.2,883.2 609.9,875.2 611.1,867.8 C612.2,860.5 613.2,852.5 614.4,845.8 C615.6,839.1 616.8,833.7 618.1,827.7 C619.3,821.7 620.7,813.6 621.7,809.6 C622.7,805.6 623.1,805.4 624.2,803.8 C625.2,802.1 626.0,801.0 628.0,799.8 C630.1,798.7 633.6,796.9 636.4,796.9 Z" fill="none" stroke="#a6a6a6" stroke-width="5" stroke-opacity="0.75"/>
</g>
<g clip-path="url(#tc4)">
<rect x="631.2" y="792.9" width="180" height="287.1" fill="#858585"/>
<path d="M657.9,952.8 Q727.9,940.8 797.9,946.8 L797.9,1081.0 L657.9,1081.0 Z" fill="#656565"/>
<path d="M657.9,952.8 Q727.9,940.8 797.9,946.8" fill="none" stroke="#585858" stroke-opacity="0.55" stroke-width="14" transform="translate(0,9)"/>
<ellipse cx="731.8" cy="1038.5" rx="49" ry="29.6" fill="#777777"/>
<rect x="703.7" y="1061.2" width="40" height="19.8" fill="#808080"/>
<path d="M657.9,952.8 Q727.9,940.8 797.9,946.8" fill="none" stroke="#a8a8a8" stroke-width="3"/>
<path d="M721.2,794.9 C724.0,794.9 727.7,796.7 729.8,797.9 C732.0,799.0 732.8,800.2 734.0,801.8 C735.2,803.5 735.6,803.7 737.0,807.8 C738.3,811.8 740.4,819.9 742.2,826.0 C743.9,832.1 745.6,837.5 747.4,844.2 C749.1,851.0 750.8,859.0 752.6,866.4 C754.3,873.8 756.7,881.9 757.8,888.6 C758.9,895.3 758.6,900.7 759.0,906.7 C759.5,912.7 759.9,918.8 760.3,924.8 C760.7,930.8 761.1,937.1 761.5,942.9 C761.9,948.6 762.4,953.8 762.8,959.3 C763.2,964.8 763.6,970.3 764.1,975.7 C764.5,981.2 764.7,987.8 765.4,992.2 C766.1,996.6 766.7,998.4 768.3,1002.0 C769.9,1005.7 773.2,1009.9 774.8,1013.9 C776.4,1017.8 777.5,1021.8 777.8,1025.7 C778.2,1029.6 778.1,1033.9 776.8,1037.5 C775.5,1041.2 773.3,1044.4 770.0,1047.4 C766.7,1050.4 761.4,1053.0 756.9,1055.3 C752.5,1057.6 745.9,1059.2 743.3,1061.2 C740.7,1063.2 741.5,1062.7 741.2,1067.1 C740.9,1071.6 747.0,1084.4 741.2,1087.8 C735.4,1091.3 712.0,1091.3 706.2,1087.8 C700.4,1084.4 706.4,1071.6 706.2,1067.1 C706.0,1062.7 707.2,1063.2 705.3,1061.2 C703.4,1059.2 698.1,1057.6 694.9,1055.3 C691.7,1053.0 687.8,1050.4 686.0,1047.4 C684.1,1044.4 684.0,1041.2 683.8,1037.5 C683.6,1033.9 684.3,1029.6 684.8,1025.7 C685.3,1021.8 685.6,1017.8 686.8,1013.9 C688.1,1009.9 691.0,1005.7 692.3,1002.0 C693.6,998.4 694.0,996.6 694.4,992.2 C694.7,987.8 694.3,981.2 694.2,975.7 C694.2,970.3 694.1,964.8 694.1,959.3 C694.0,953.8 694.0,948.6 693.9,942.9 C693.8,937.1 693.7,930.8 693.5,924.8 C693.4,918.8 693.3,912.7 693.2,906.7 C693.1,900.7 692.3,895.3 692.8,888.6 C693.3,881.9 695.0,873.8 696.1,866.4 C697.2,859.0 698.2,851.0 699.4,844.2 C700.5,837.5 701.8,832.1 703.0,826.0 C704.2,819.9 705.6,811.8 706.6,807.8 C707.6,803.7 708.0,803.5 709.0,801.8 C710.0,800.2 710.8,799.0 712.8,797.9 C714.9,796.7 718.4,794.9 721.2,794.9 Z" fill="none" stroke="#a6a6a6" stroke-width="5" stroke-opacity="0.75"/>
</g>
<g clip-path="url(#tc5)">
<rect x="736.0" y="794.9" width="180" height="285.1" fill="#858585"/>
<path d="M753.7,952.8 Q823.7,940.8 893.7,946.8 L893.7,1081.0 L753.7,1081.0 Z" fill="#656565"/>
<path d="M753.7,952.8 Q823.7,940.8 893.7,946.8" fill="none" stroke="#585858" stroke-opacity="0.55" stroke-width="14" transform="translate(0,9)"/>
<ellipse cx="822.3" cy="1038.5" rx="49" ry="29.3" fill="#777777"/>
<rect x="796.0" y="1061.0" width="40" height="20.0" fill="#808080"/>
<path d="M753.7,952.8 Q823.7,940.8 893.7,946.8" fill="none" stroke="#a8a8a8" stroke-width="3"/>
<path d="M826.0,796.9 C828.8,796.9 832.4,798.7 834.5,799.8 C836.5,801.0 837.3,802.1 838.4,803.8 C839.5,805.4 839.9,805.6 841.0,809.6 C842.1,813.6 843.8,821.7 845.1,827.7 C846.5,833.7 847.9,839.1 849.2,845.8 C850.6,852.5 851.9,860.5 853.2,867.8 C854.5,875.2 856.4,883.2 857.1,889.8 C857.7,896.5 857.2,901.8 857.2,907.8 C857.3,913.7 857.3,919.7 857.4,925.7 C857.4,931.7 857.5,937.9 857.5,943.6 C857.6,949.3 857.8,954.5 857.9,959.9 C858.0,965.4 858.1,970.8 858.2,976.2 C858.3,981.7 858.0,988.2 858.5,992.5 C858.9,996.9 859.5,998.7 860.8,1002.3 C862.2,1005.9 865.3,1010.2 866.7,1014.1 C868.0,1018.0 868.8,1021.9 869.0,1025.8 C869.1,1029.7 868.9,1034.0 867.6,1037.5 C866.3,1041.1 864.3,1044.4 861.1,1047.3 C857.9,1050.3 852.8,1052.9 848.5,1055.2 C844.2,1057.4 837.9,1059.1 835.4,1061.0 C832.9,1063.0 833.8,1062.4 833.5,1066.9 C833.2,1071.3 839.3,1084.3 833.5,1087.7 C827.7,1091.2 804.3,1091.2 798.5,1087.7 C792.7,1084.3 798.7,1071.3 798.5,1066.9 C798.3,1062.4 799.4,1063.0 797.4,1061.0 C795.4,1059.1 789.9,1057.4 786.5,1055.2 C783.1,1052.9 779.1,1050.3 777.1,1047.3 C775.1,1044.4 774.8,1041.1 774.6,1037.5 C774.4,1034.0 775.3,1029.7 776.0,1025.8 C776.7,1021.9 777.2,1018.0 778.7,1014.1 C780.1,1010.2 783.4,1005.9 784.8,1002.3 C786.3,998.7 786.9,996.9 787.5,992.5 C788.1,988.2 788.0,981.7 788.3,976.2 C788.6,970.8 788.9,965.4 789.1,959.9 C789.4,954.5 789.7,949.3 789.9,943.6 C790.2,937.9 790.4,931.7 790.7,925.7 C790.9,919.7 791.1,913.7 791.4,907.8 C791.6,901.8 791.2,896.5 792.1,889.8 C793.0,883.2 795.1,875.2 796.7,867.8 C798.2,860.5 799.7,852.5 801.2,845.8 C802.8,839.1 804.4,833.7 805.9,827.7 C807.5,821.7 809.4,813.6 810.6,809.6 C811.8,805.6 812.3,805.4 813.4,803.8 C814.5,802.1 815.4,801.0 817.5,799.8 C819.6,798.7 823.2,796.9 826.0,796.9 Z" fill="none" stroke="#a6a6a6" stroke-width="5" stroke-opacity="0.75"/>
</g>
<g clip-path="url(#tc6)">
<rect x="820.9" y="794.9" width="180" height="285.1" fill="#858585"/>
<path d="M840.6,952.8 Q910.6,940.8 980.6,946.8 L980.6,1081.0 L840.6,1081.0 Z" fill="#656565"/>
<path d="M840.6,952.8 Q910.6,940.8 980.6,946.8" fill="none" stroke="#585858" stroke-opacity="0.55" stroke-width="14" transform="translate(0,9)"/>
<ellipse cx="910.5" cy="1038.5" rx="49" ry="29.3" fill="#777777"/>
<rect x="885.9" y="1061.0" width="40" height="20.0" fill="#808080"/>
<path d="M840.6,952.8 Q910.6,940.8 980.6,946.8" fill="none" stroke="#a8a8a8" stroke-width="3"/>
<path d="M910.9,796.9 C913.7,796.9 917.3,798.7 919.4,799.8 C921.5,801.0 922.3,802.1 923.4,803.8 C924.5,805.4 924.9,805.6 926.1,809.6 C927.3,813.6 929.0,821.7 930.4,827.7 C931.9,833.7 933.4,839.1 934.8,845.8 C936.2,852.5 937.6,860.5 939.0,867.8 C940.4,875.2 942.5,883.2 943.2,889.8 C944.0,896.5 943.5,901.8 943.6,907.8 C943.8,913.7 943.9,919.7 944.0,925.7 C944.2,931.7 944.3,937.9 944.4,943.6 C944.6,949.3 944.8,954.5 945.0,959.9 C945.1,965.4 945.3,970.8 945.5,976.2 C945.7,981.7 945.5,988.2 946.0,992.5 C946.5,996.9 947.1,998.7 948.5,1002.3 C949.9,1005.9 953.1,1010.2 954.5,1014.1 C955.9,1018.0 956.7,1021.9 957.0,1025.8 C957.2,1029.7 957.2,1034.0 956.1,1037.5 C955.0,1041.1 953.2,1044.4 950.2,1047.3 C947.2,1050.3 942.2,1052.9 938.0,1055.2 C933.9,1057.4 927.6,1059.1 925.2,1061.0 C922.7,1063.0 923.7,1062.4 923.4,1066.9 C923.1,1071.3 929.2,1084.3 923.4,1087.7 C917.6,1091.2 894.2,1091.2 888.4,1087.7 C882.6,1084.3 888.6,1071.3 888.4,1066.9 C888.2,1062.4 889.2,1063.0 887.2,1061.0 C885.1,1059.1 879.5,1057.4 876.0,1055.2 C872.5,1052.9 868.3,1050.3 866.2,1047.3 C864.0,1044.4 863.5,1041.1 863.1,1037.5 C862.7,1034.0 863.4,1029.7 864.0,1025.8 C864.5,1021.9 865.1,1018.0 866.5,1014.1 C867.9,1010.2 871.1,1005.9 872.5,1002.3 C873.9,998.7 874.5,996.9 875.0,992.5 C875.6,988.2 875.4,981.7 875.6,976.2 C875.8,970.8 876.0,965.4 876.2,959.9 C876.4,954.5 876.7,949.3 876.8,943.6 C877.0,937.9 877.1,931.7 877.3,925.7 C877.5,919.7 877.6,913.7 877.8,907.8 C877.9,901.8 877.4,896.5 878.2,889.8 C879.0,883.2 881.1,875.2 882.5,867.8 C884.0,860.5 885.4,852.5 886.8,845.8 C888.3,839.1 889.8,833.7 891.2,827.7 C892.7,821.7 894.5,813.6 895.7,809.6 C896.9,805.6 897.3,805.4 898.4,803.8 C899.5,802.1 900.3,801.0 902.4,799.8 C904.5,798.7 908.1,796.9 910.9,796.9 Z" fill="none" stroke="#a6a6a6" stroke-width="5" stroke-opacity="0.75"/>
</g>
<g clip-path="url(#tc7)">
<rect x="913.2" y="794.9" width="180" height="285.1" fill="#858585"/>
<path d="M933.3,952.8 Q1003.3,940.8 1073.3,946.8 L1073.3,1081.0 L933.3,1081.0 Z" fill="#656565"/>
<path d="M933.3,952.8 Q1003.3,940.8 1073.3,946.8" fill="none" stroke="#585858" stroke-opacity="0.55" stroke-width="14" transform="translate(0,9)"/>
<ellipse cx="1003.4" cy="1038.5" rx="49" ry="29.3" fill="#777777"/>
<rect x="980.7" y="1061.0" width="40" height="20.0" fill="#808080"/>
<path d="M933.3,952.8 Q1003.3,940.8 1073.3,946.8" fill="none" stroke="#a8a8a8" stroke-width="3"/>
<path d="M1003.2,796.9 C1006.0,796.9 1009.6,798.7 1011.7,799.8 C1013.8,801.0 1014.6,802.1 1015.7,803.8 C1016.8,805.4 1017.2,805.6 1018.4,809.6 C1019.6,813.6 1021.4,821.7 1022.8,827.7 C1024.3,833.7 1025.8,839.1 1027.2,845.8 C1028.7,852.5 1030.1,860.5 1031.5,867.8 C1032.9,875.2 1035.0,883.2 1035.8,889.8 C1036.6,896.5 1036.1,901.8 1036.2,907.8 C1036.4,913.7 1036.5,919.7 1036.7,925.7 C1036.8,931.7 1037.0,937.9 1037.1,943.6 C1037.3,949.3 1037.5,954.5 1037.7,959.9 C1037.9,965.4 1038.1,970.8 1038.3,976.2 C1038.5,981.7 1038.4,988.2 1038.9,992.5 C1039.4,996.9 1040.0,998.7 1041.4,1002.3 C1042.8,1005.9 1046.0,1010.2 1047.4,1014.1 C1048.8,1018.0 1049.6,1021.9 1049.9,1025.8 C1050.2,1029.7 1050.4,1034.0 1049.4,1037.5 C1048.4,1041.1 1046.9,1044.4 1044.1,1047.3 C1041.2,1050.3 1036.4,1052.9 1032.4,1055.2 C1028.4,1057.4 1022.2,1059.1 1019.9,1061.0 C1017.5,1063.0 1018.5,1062.4 1018.2,1066.9 C1017.9,1071.3 1024.0,1084.3 1018.2,1087.7 C1012.4,1091.2 989.0,1091.2 983.2,1087.7 C977.4,1084.3 983.4,1071.3 983.2,1066.9 C983.0,1062.4 984.0,1063.0 981.9,1061.0 C979.7,1059.1 974.0,1057.4 970.4,1055.2 C966.7,1052.9 962.4,1050.3 960.1,1047.3 C957.7,1044.4 956.9,1041.1 956.4,1037.5 C955.9,1034.0 956.4,1029.7 956.9,1025.8 C957.4,1021.9 958.0,1018.0 959.4,1014.1 C960.8,1010.2 964.0,1005.9 965.4,1002.3 C966.8,998.7 967.4,996.9 967.9,992.5 C968.4,988.2 968.2,981.7 968.4,976.2 C968.6,970.8 968.8,965.4 969.0,959.9 C969.2,954.5 969.4,949.3 969.5,943.6 C969.7,937.9 969.8,931.7 969.9,925.7 C970.1,919.7 970.2,913.7 970.4,907.8 C970.5,901.8 970.0,896.5 970.8,889.8 C971.6,883.2 973.6,875.2 975.0,867.8 C976.4,860.5 977.8,852.5 979.2,845.8 C980.7,839.1 982.2,833.7 983.6,827.7 C985.1,821.7 986.8,813.6 988.0,809.6 C989.2,805.6 989.6,805.4 990.7,803.8 C991.8,802.1 992.6,801.0 994.7,799.8 C996.8,798.7 1000.4,796.9 1003.2,796.9 Z" fill="none" stroke="#a6a6a6" stroke-width="5" stroke-opacity="0.75"/>
</g>
<g clip-path="url(#tc8)">
<rect x="1010.6" y="798.8" width="180" height="281.2" fill="#858585"/>
<path d="M1025.1,949.8 Q1095.1,937.8 1165.1,943.8 L1165.1,1081.0 L1025.1,1081.0 Z" fill="#656565"/>
<path d="M1025.1,949.8 Q1095.1,937.8 1165.1,943.8" fill="none" stroke="#585858" stroke-opacity="0.55" stroke-width="14" transform="translate(0,9)"/>
<ellipse cx="1091.6" cy="1038.5" rx="49" ry="28.9" fill="#777777"/>
<rect x="1070.6" y="1060.7" width="40" height="20.3" fill="#808080"/>
<path d="M1025.1,949.8 Q1095.1,937.8 1165.1,943.8" fill="none" stroke="#a8a8a8" stroke-width="3"/>
<path d="M1100.6,800.8 C1103.4,800.8 1106.9,802.6 1109.0,803.7 C1111.0,804.9 1111.8,806.0 1112.8,807.6 C1113.9,809.2 1114.3,809.4 1115.3,813.4 C1116.4,817.3 1117.8,825.2 1119.0,831.2 C1120.3,837.1 1121.6,842.4 1122.8,849.0 C1123.9,855.5 1125.0,863.4 1126.2,870.6 C1127.3,877.8 1129.1,885.7 1129.6,892.3 C1130.1,898.8 1129.4,904.0 1129.4,909.9 C1129.3,915.8 1129.2,921.7 1129.1,927.5 C1129.0,933.4 1128.9,939.6 1128.9,945.2 C1128.8,950.8 1128.8,955.9 1128.8,961.2 C1128.8,966.6 1128.8,971.9 1128.8,977.3 C1128.8,982.6 1128.4,989.0 1128.7,993.3 C1129.1,997.6 1129.6,999.4 1130.9,1002.9 C1132.1,1006.4 1135.1,1010.6 1136.4,1014.5 C1137.7,1018.3 1138.2,1022.2 1138.5,1026.0 C1138.7,1029.9 1138.8,1034.0 1137.9,1037.6 C1136.9,1041.1 1135.6,1044.3 1132.9,1047.2 C1130.2,1050.1 1125.5,1052.6 1121.7,1054.9 C1117.8,1057.1 1111.9,1058.7 1109.6,1060.7 C1107.3,1062.6 1108.4,1061.9 1108.1,1066.4 C1107.8,1070.9 1113.9,1084.0 1108.1,1087.5 C1102.3,1091.1 1078.9,1091.1 1073.1,1087.5 C1067.3,1084.0 1073.3,1070.9 1073.1,1066.4 C1072.9,1061.9 1073.8,1062.6 1071.6,1060.7 C1069.4,1058.7 1063.5,1057.1 1059.7,1054.9 C1055.9,1052.6 1051.3,1050.1 1048.9,1047.2 C1046.4,1044.3 1045.4,1041.1 1044.9,1037.6 C1044.3,1034.0 1044.9,1029.9 1045.5,1026.0 C1046.1,1022.2 1046.8,1018.3 1048.4,1014.5 C1050.0,1010.6 1053.3,1006.4 1054.9,1002.9 C1056.4,999.4 1057.0,997.6 1057.7,993.3 C1058.4,989.0 1058.5,982.6 1058.9,977.3 C1059.3,971.9 1059.7,966.6 1060.1,961.2 C1060.5,955.9 1060.9,950.8 1061.3,945.2 C1061.6,939.6 1062.0,933.4 1062.4,927.5 C1062.7,921.7 1063.1,915.8 1063.5,909.9 C1063.9,904.0 1063.6,898.8 1064.6,892.3 C1065.6,885.7 1068.0,877.8 1069.7,870.6 C1071.4,863.4 1073.1,855.5 1074.8,849.0 C1076.4,842.4 1078.1,837.1 1079.8,831.2 C1081.5,825.2 1083.6,817.3 1084.9,813.4 C1086.3,809.4 1086.7,809.2 1087.8,807.6 C1089.0,806.0 1089.9,804.9 1092.0,803.7 C1094.1,802.6 1097.8,800.8 1100.6,800.8 Z" fill="none" stroke="#a6a6a6" stroke-width="5" stroke-opacity="0.75"/>
</g>
<g clip-path="url(#tc9)">
<rect x="1090.7" y="795.9" width="180" height="284.1" fill="#858585"/>
<path d="M1107.1,949.8 Q1177.1,937.8 1247.1,943.8 L1247.1,1081.0 L1107.1,1081.0 Z" fill="#656565"/>
<path d="M1107.1,949.8 Q1177.1,937.8 1247.1,943.8" fill="none" stroke="#585858" stroke-opacity="0.55" stroke-width="14" transform="translate(0,9)"/>
<ellipse cx="1174.8" cy="1038.5" rx="49" ry="29.2" fill="#777777"/>
<rect x="1155.5" y="1060.9" width="40" height="20.1" fill="#808080"/>
<path d="M1107.1,949.8 Q1177.1,937.8 1247.1,943.8" fill="none" stroke="#a8a8a8" stroke-width="3"/>
<path d="M1180.7,797.9 C1183.5,797.9 1187.1,799.7 1189.1,800.8 C1191.2,801.9 1192.0,803.1 1193.0,804.7 C1194.1,806.3 1194.5,806.6 1195.6,810.6 C1196.7,814.5 1198.2,822.6 1199.5,828.6 C1200.9,834.6 1202.2,839.9 1203.5,846.6 C1204.8,853.3 1206.0,861.2 1207.2,868.5 C1208.4,875.8 1210.3,883.8 1210.9,890.4 C1211.5,897.1 1210.9,902.3 1210.9,908.3 C1210.9,914.3 1210.9,920.2 1210.9,926.2 C1210.9,932.1 1210.9,938.3 1210.9,944.0 C1210.9,949.7 1211.0,954.8 1211.1,960.3 C1211.1,965.7 1211.2,971.1 1211.2,976.5 C1211.3,981.9 1211.0,988.4 1211.4,992.7 C1211.8,997.1 1212.3,998.9 1213.7,1002.5 C1215.0,1006.0 1218.0,1010.3 1219.4,1014.2 C1220.7,1018.1 1221.2,1022.0 1221.6,1025.9 C1221.9,1029.8 1222.2,1034.0 1221.4,1037.5 C1220.7,1041.1 1219.6,1044.4 1217.0,1047.3 C1214.5,1050.2 1210.0,1052.8 1206.2,1055.1 C1202.4,1057.4 1196.6,1059.0 1194.4,1060.9 C1192.2,1062.9 1193.2,1062.3 1193.0,1066.8 C1192.8,1071.2 1198.8,1084.2 1193.0,1087.7 C1187.2,1091.2 1163.8,1091.2 1158.0,1087.7 C1152.2,1084.2 1158.3,1071.2 1158.0,1066.8 C1157.7,1062.3 1158.7,1062.9 1156.4,1060.9 C1154.1,1059.0 1148.1,1057.4 1144.2,1055.1 C1140.3,1052.8 1135.7,1050.2 1133.0,1047.3 C1130.4,1044.4 1129.2,1041.1 1128.4,1037.5 C1127.7,1034.0 1128.1,1029.8 1128.6,1025.9 C1129.1,1022.0 1129.8,1018.1 1131.4,1014.2 C1132.9,1010.3 1136.1,1006.0 1137.7,1002.5 C1139.2,998.9 1139.8,997.1 1140.4,992.7 C1141.0,988.4 1141.0,981.9 1141.4,976.5 C1141.7,971.1 1142.0,965.7 1142.3,960.3 C1142.6,954.8 1143.0,949.7 1143.3,944.0 C1143.6,938.3 1143.9,932.1 1144.2,926.2 C1144.5,920.2 1144.7,914.3 1145.0,908.3 C1145.3,902.3 1145.0,897.1 1145.9,890.4 C1146.9,883.8 1149.1,875.8 1150.7,868.5 C1152.3,861.2 1153.9,853.3 1155.5,846.6 C1157.1,839.9 1158.7,834.6 1160.3,828.6 C1162.0,822.6 1163.9,814.5 1165.2,810.6 C1166.5,806.6 1166.9,806.3 1168.0,804.7 C1169.2,803.1 1170.0,801.9 1172.1,800.8 C1174.2,799.7 1177.9,797.9 1180.7,797.9 Z" fill="none" stroke="#a6a6a6" stroke-width="5" stroke-opacity="0.75"/>
</g>
<g clip-path="url(#tc10)">
<rect x="1177.1" y="793.9" width="180" height="286.1" fill="#858585"/>
<path d="M1194.0,947.9 Q1264.0,935.9 1334.0,941.9 L1334.0,1081.0 L1194.0,1081.0 Z" fill="#656565"/>
<path d="M1194.0,947.9 Q1264.0,935.9 1334.0,941.9" fill="none" stroke="#585858" stroke-opacity="0.55" stroke-width="14" transform="translate(0,9)"/>
<ellipse cx="1262.1" cy="1038.5" rx="49" ry="29.5" fill="#777777"/>
<rect x="1244.5" y="1061.1" width="40" height="19.9" fill="#808080"/>
<path d="M1194.0,947.9 Q1264.0,935.9 1334.0,941.9" fill="none" stroke="#a8a8a8" stroke-width="3"/>
<path d="M1267.1,795.9 C1269.9,795.9 1273.5,797.7 1275.5,798.9 C1277.6,800.0 1278.4,801.2 1279.5,802.8 C1280.5,804.4 1280.9,804.7 1282.0,808.7 C1283.1,812.7 1284.7,820.8 1286.1,826.9 C1287.4,832.9 1288.8,838.3 1290.1,845.0 C1291.4,851.7 1292.6,859.8 1293.9,867.1 C1295.1,874.5 1297.0,882.5 1297.7,889.2 C1298.3,895.9 1297.7,901.2 1297.7,907.2 C1297.7,913.2 1297.7,919.2 1297.8,925.2 C1297.8,931.2 1297.8,937.5 1297.8,943.2 C1297.9,949.0 1298.0,954.2 1298.0,959.6 C1298.1,965.1 1298.2,970.5 1298.3,976.0 C1298.3,981.4 1298.1,988.0 1298.5,992.4 C1298.9,996.7 1299.5,998.6 1300.8,1002.2 C1302.1,1005.8 1305.2,1010.0 1306.5,1014.0 C1307.9,1017.9 1308.4,1021.8 1308.8,1025.8 C1309.2,1029.7 1309.6,1033.9 1309.0,1037.5 C1308.4,1041.1 1307.5,1044.4 1305.2,1047.4 C1302.8,1050.3 1298.4,1052.9 1294.8,1055.2 C1291.2,1057.5 1285.4,1059.2 1283.3,1061.1 C1281.2,1063.1 1282.2,1062.6 1282.0,1067.0 C1281.8,1071.5 1287.8,1084.3 1282.0,1087.8 C1276.2,1091.2 1252.8,1091.2 1247.0,1087.8 C1241.2,1084.3 1247.3,1071.5 1247.0,1067.0 C1246.7,1062.6 1247.7,1063.1 1245.3,1061.1 C1242.9,1059.2 1236.8,1057.5 1232.8,1055.2 C1228.8,1052.9 1224.0,1050.3 1221.2,1047.4 C1218.4,1044.4 1216.9,1041.1 1216.0,1037.5 C1215.1,1033.9 1215.4,1029.7 1215.8,1025.8 C1216.2,1021.8 1217.0,1017.9 1218.5,1014.0 C1220.0,1010.0 1223.3,1005.8 1224.8,1002.2 C1226.3,998.6 1226.9,996.7 1227.5,992.4 C1228.1,988.0 1228.1,981.4 1228.4,976.0 C1228.7,970.5 1229.0,965.1 1229.3,959.6 C1229.6,954.2 1229.9,949.0 1230.2,943.2 C1230.5,937.5 1230.8,931.2 1231.0,925.2 C1231.3,919.2 1231.6,913.2 1231.8,907.2 C1232.1,901.2 1231.7,895.9 1232.7,889.2 C1233.6,882.5 1235.8,874.5 1237.4,867.1 C1238.9,859.8 1240.5,851.7 1242.1,845.0 C1243.7,838.3 1245.3,832.9 1246.9,826.9 C1248.4,820.8 1250.4,812.7 1251.6,808.7 C1252.9,804.7 1253.3,804.4 1254.5,802.8 C1255.6,801.2 1256.4,800.0 1258.5,798.9 C1260.6,797.7 1264.3,795.9 1267.1,795.9 Z" fill="none" stroke="#a6a6a6" stroke-width="5" stroke-opacity="0.75"/>
</g>
<g clip-path="url(#tc11)">
<rect x="1276.6" y="795.9" width="180" height="284.1" fill="#858585"/>
<path d="M1289.1,950.8 Q1359.1,938.8 1429.1,944.8 L1429.1,1081.0 L1289.1,1081.0 Z" fill="#656565"/>
<path d="M1289.1,950.8 Q1359.1,938.8 1429.1,944.8" fill="none" stroke="#585858" stroke-opacity="0.55" stroke-width="14" transform="translate(0,9)"/>
<ellipse cx="1354.4" cy="1038.5" rx="49" ry="29.2" fill="#777777"/>
<rect x="1338.7" y="1060.9" width="40" height="20.1" fill="#808080"/>
<path d="M1289.1,950.8 Q1359.1,938.8 1429.1,944.8" fill="none" stroke="#a8a8a8" stroke-width="3"/>
<path d="M1366.6,797.9 C1369.4,797.9 1372.9,799.7 1375.0,800.8 C1377.0,801.9 1377.7,803.1 1378.8,804.7 C1379.8,806.3 1380.2,806.6 1381.2,810.6 C1382.1,814.5 1383.5,822.6 1384.6,828.6 C1385.8,834.6 1387.0,839.9 1388.1,846.6 C1389.2,853.3 1390.2,861.2 1391.3,868.5 C1392.3,875.8 1393.9,883.8 1394.4,890.4 C1394.8,897.1 1394.1,902.3 1393.9,908.3 C1393.7,914.3 1393.6,920.2 1393.4,926.2 C1393.3,932.1 1393.1,938.3 1393.0,944.0 C1392.8,949.7 1392.8,954.8 1392.7,960.3 C1392.6,965.7 1392.5,971.1 1392.4,976.5 C1392.3,981.9 1391.9,988.4 1392.2,992.7 C1392.5,997.1 1392.9,998.9 1394.2,1002.5 C1395.4,1006.0 1398.4,1010.3 1399.6,1014.2 C1400.8,1018.1 1401.1,1022.0 1401.5,1025.9 C1401.8,1029.8 1402.2,1034.0 1401.7,1037.5 C1401.2,1041.1 1400.5,1044.4 1398.3,1047.3 C1396.1,1050.2 1391.9,1052.8 1388.4,1055.1 C1384.9,1057.4 1379.4,1059.0 1377.4,1060.9 C1375.3,1062.9 1376.4,1062.3 1376.2,1066.8 C1376.0,1071.2 1382.0,1084.2 1376.2,1087.7 C1370.4,1091.2 1347.0,1091.2 1341.2,1087.7 C1335.4,1084.2 1341.5,1071.2 1341.2,1066.8 C1340.9,1062.3 1341.8,1062.9 1339.4,1060.9 C1336.9,1059.0 1330.6,1057.4 1326.4,1055.1 C1322.2,1052.8 1317.2,1050.2 1314.3,1047.3 C1311.3,1044.4 1309.7,1041.1 1308.7,1037.5 C1307.7,1034.0 1308.0,1029.8 1308.5,1025.9 C1309.0,1022.0 1310.0,1018.1 1311.6,1014.2 C1313.2,1010.3 1316.6,1006.0 1318.2,1002.5 C1319.8,998.9 1320.4,997.1 1321.2,992.7 C1321.9,988.4 1322.1,981.9 1322.6,976.5 C1323.0,971.1 1323.5,965.7 1324.0,960.3 C1324.4,954.8 1324.9,949.7 1325.4,944.0 C1325.8,938.3 1326.3,932.1 1326.7,926.2 C1327.1,920.2 1327.6,914.3 1328.0,908.3 C1328.5,902.3 1328.3,897.1 1329.4,890.4 C1330.5,883.8 1333.0,875.8 1334.8,868.5 C1336.5,861.2 1338.3,853.3 1340.1,846.6 C1341.9,839.9 1343.7,834.6 1345.4,828.6 C1347.2,822.6 1349.4,814.5 1350.8,810.6 C1352.1,806.6 1352.6,806.3 1353.8,804.7 C1355.0,803.1 1355.8,801.9 1358.0,800.8 C1360.1,799.7 1363.8,797.9 1366.6,797.9 Z" fill="none" stroke="#a6a6a6" stroke-width="5" stroke-opacity="0.75"/>
</g>
<g clip-path="url(#tc12)">
<rect x="1362.9" y="800.8" width="180" height="279.2" fill="#858585"/>
<path d="M1374.4,950.8 Q1444.4,938.8 1514.4,944.8 L1514.4,1081.0 L1374.4,1081.0 Z" fill="#656565"/>
<path d="M1374.4,950.8 Q1444.4,938.8 1514.4,944.8" fill="none" stroke="#585858" stroke-opacity="0.55" stroke-width="14" transform="translate(0,9)"/>
<ellipse cx="1439.1" cy="1038.5" rx="49" ry="28.6" fill="#777777"/>
<rect x="1425.0" y="1060.5" width="40" height="20.5" fill="#808080"/>
<path d="M1374.4,950.8 Q1444.4,938.8 1514.4,944.8" fill="none" stroke="#a8a8a8" stroke-width="3"/>
<path d="M1452.9,802.8 C1455.7,802.8 1459.2,804.6 1461.2,805.7 C1463.2,806.8 1464.0,807.9 1465.0,809.5 C1466.0,811.1 1466.4,811.3 1467.4,815.2 C1468.3,819.1 1469.6,827.0 1470.7,832.9 C1471.8,838.8 1473.0,844.0 1474.1,850.5 C1475.1,857.1 1476.1,864.8 1477.1,872.0 C1478.0,879.2 1479.6,887.0 1480.0,893.5 C1480.4,900.0 1479.6,905.1 1479.4,911.0 C1479.2,916.8 1479.0,922.6 1478.8,928.5 C1478.6,934.3 1478.4,940.4 1478.2,946.0 C1478.1,951.5 1478.0,956.6 1477.9,961.9 C1477.7,967.2 1477.6,972.5 1477.5,977.8 C1477.4,983.1 1476.8,989.4 1477.1,993.7 C1477.4,997.9 1477.8,999.7 1479.0,1003.2 C1480.2,1006.7 1483.2,1010.9 1484.4,1014.7 C1485.5,1018.5 1485.8,1022.3 1486.2,1026.1 C1486.6,1029.9 1487.0,1034.1 1486.6,1037.6 C1486.2,1041.1 1485.8,1044.2 1483.7,1047.1 C1481.7,1050.0 1477.6,1052.5 1474.2,1054.7 C1470.9,1057.0 1465.5,1058.6 1463.5,1060.5 C1461.6,1062.4 1462.7,1061.7 1462.5,1066.2 C1462.3,1070.7 1468.3,1083.9 1462.5,1087.5 C1456.7,1091.0 1433.3,1091.0 1427.5,1087.5 C1421.7,1083.9 1427.8,1070.7 1427.5,1066.2 C1427.2,1061.7 1428.1,1062.4 1425.5,1060.5 C1423.0,1058.6 1416.5,1057.0 1412.2,1054.7 C1407.9,1052.5 1402.8,1050.0 1399.7,1047.1 C1396.6,1044.2 1394.7,1041.1 1393.6,1037.6 C1392.5,1034.1 1392.7,1029.9 1393.2,1026.1 C1393.6,1022.3 1394.7,1018.5 1396.4,1014.7 C1398.0,1010.9 1401.4,1006.7 1403.0,1003.2 C1404.7,999.7 1405.3,997.9 1406.1,993.7 C1406.9,989.4 1407.1,983.1 1407.6,977.8 C1408.1,972.5 1408.6,967.2 1409.1,961.9 C1409.6,956.6 1410.1,951.5 1410.6,946.0 C1411.1,940.4 1411.6,934.3 1412.1,928.5 C1412.6,922.6 1413.1,916.8 1413.6,911.0 C1414.1,905.1 1413.9,900.0 1415.0,893.5 C1416.2,887.0 1418.7,879.2 1420.6,872.0 C1422.4,864.8 1424.2,857.1 1426.1,850.5 C1427.9,844.0 1429.7,838.8 1431.5,832.9 C1433.3,827.0 1435.6,819.1 1437.0,815.2 C1438.4,811.3 1438.8,811.1 1440.0,809.5 C1441.2,807.9 1442.1,806.8 1444.2,805.7 C1446.4,804.6 1450.1,802.8 1452.9,802.8 Z" fill="none" stroke="#a6a6a6" stroke-width="5" stroke-opacity="0.75"/>
</g>
<g clip-path="url(#tc13)">
<rect x="1446.7" y="800.8" width="180" height="279.2" fill="#858585"/>
<path d="M1458.7,952.8 Q1528.7,940.8 1598.7,946.8 L1598.7,1081.0 L1458.7,1081.0 Z" fill="#656565"/>
<path d="M1458.7,952.8 Q1528.7,940.8 1598.7,946.8" fill="none" stroke="#585858" stroke-opacity="0.55" stroke-width="14" transform="translate(0,9)"/>
<ellipse cx="1523.8" cy="1038.5" rx="49" ry="28.6" fill="#777777"/>
<rect x="1511.4" y="1060.5" width="40" height="20.5" fill="#808080"/>
<path d="M1458.7,952.8 Q1528.7,940.8 1598.7,946.8" fill="none" stroke="#a8a8a8" stroke-width="3"/>
<path d="M1536.7,802.8 C1539.5,802.8 1543.0,804.6 1545.0,805.7 C1547.1,806.8 1547.8,807.9 1548.8,809.5 C1549.9,811.1 1550.2,811.3 1551.2,815.2 C1552.2,819.1 1553.5,827.0 1554.6,832.9 C1555.8,838.8 1557.0,844.0 1558.1,850.5 C1559.1,857.1 1560.1,864.8 1561.1,872.0 C1562.1,879.2 1563.8,887.0 1564.2,893.5 C1564.6,900.0 1563.8,905.1 1563.7,911.0 C1563.5,916.8 1563.3,922.6 1563.1,928.5 C1562.9,934.3 1562.7,940.4 1562.6,946.0 C1562.4,951.5 1562.4,956.6 1562.3,961.9 C1562.2,967.2 1562.1,972.5 1562.0,977.8 C1561.9,983.1 1561.4,989.4 1561.6,993.7 C1561.9,997.9 1562.4,999.7 1563.6,1003.2 C1564.8,1006.7 1567.8,1010.9 1569.0,1014.7 C1570.2,1018.5 1570.4,1022.3 1570.9,1026.1 C1571.3,1029.9 1571.9,1034.1 1571.7,1037.6 C1571.4,1041.1 1571.2,1044.2 1569.3,1047.1 C1567.4,1050.0 1563.5,1052.5 1560.2,1054.7 C1557.0,1057.0 1551.7,1058.6 1549.8,1060.5 C1548.0,1062.4 1549.1,1061.7 1548.9,1066.2 C1548.7,1070.7 1554.7,1083.9 1548.9,1087.5 C1543.1,1091.0 1519.7,1091.0 1513.9,1087.5 C1508.1,1083.9 1514.2,1070.7 1513.9,1066.2 C1513.6,1061.7 1514.5,1062.4 1511.8,1060.5 C1509.2,1058.6 1502.7,1057.0 1498.2,1054.7 C1493.8,1052.5 1488.6,1050.0 1485.3,1047.1 C1482.0,1044.2 1479.9,1041.1 1478.7,1037.6 C1477.4,1034.1 1477.5,1029.9 1477.9,1026.1 C1478.2,1022.3 1479.4,1018.5 1481.0,1014.7 C1482.6,1010.9 1486.0,1006.7 1487.6,1003.2 C1489.2,999.7 1489.9,997.9 1490.6,993.7 C1491.4,989.4 1491.6,983.1 1492.1,977.8 C1492.6,972.5 1493.1,967.2 1493.5,961.9 C1494.0,956.6 1494.5,951.5 1495.0,946.0 C1495.5,940.4 1495.9,934.3 1496.4,928.5 C1496.9,922.6 1497.3,916.8 1497.8,911.0 C1498.3,905.1 1498.0,900.0 1499.2,893.5 C1500.3,887.0 1502.8,879.2 1504.6,872.0 C1506.4,864.8 1508.3,857.1 1510.1,850.5 C1511.9,844.0 1513.6,838.8 1515.4,832.9 C1517.2,827.0 1519.4,819.1 1520.8,815.2 C1522.2,811.3 1522.6,811.1 1523.8,809.5 C1525.0,807.9 1525.9,806.8 1528.0,805.7 C1530.2,804.6 1533.9,802.8 1536.7,802.8 Z" fill="none" stroke="#a6a6a6" stroke-width="5" stroke-opacity="0.75"/>
</g>
<g clip-path="url(#tc14)">
<rect x="1551.4" y="803.8" width="180" height="276.2" fill="#858585"/>
<path d="M1557.2,955.8 Q1627.2,943.8 1697.2,949.8 L1697.2,1081.0 L1557.2,1081.0 Z" fill="#656565"/>
<path d="M1557.2,955.8 Q1627.2,943.8 1697.2,949.8" fill="none" stroke="#585858" stroke-opacity="0.55" stroke-width="14" transform="translate(0,9)"/>
<ellipse cx="1618.8" cy="1038.5" rx="49" ry="28.3" fill="#777777"/>
<rect x="1608.3" y="1060.2" width="40" height="20.8" fill="#808080"/>
<path d="M1557.2,955.8 Q1627.2,943.8 1697.2,949.8" fill="none" stroke="#a8a8a8" stroke-width="3"/>
<path d="M1641.4,805.8 C1644.2,805.8 1647.6,807.5 1649.6,808.6 C1651.6,809.7 1652.3,810.8 1653.3,812.4 C1654.2,813.9 1654.6,814.2 1655.4,818.0 C1656.2,821.9 1657.2,829.7 1658.1,835.5 C1659.0,841.3 1660.0,846.5 1660.8,852.9 C1661.6,859.3 1662.2,867.0 1663.0,874.1 C1663.7,881.2 1665.0,888.9 1665.1,895.3 C1665.3,901.7 1664.3,906.8 1663.9,912.6 C1663.5,918.3 1663.0,924.1 1662.6,929.8 C1662.2,935.6 1661.7,941.6 1661.4,947.1 C1661.0,952.6 1660.7,957.6 1660.4,962.8 C1660.1,968.1 1659.7,973.3 1659.4,978.5 C1659.1,983.8 1658.3,990.0 1658.4,994.2 C1658.5,998.4 1658.9,1000.2 1660.0,1003.7 C1661.1,1007.1 1663.9,1011.2 1664.9,1015.0 C1666.0,1018.7 1666.0,1022.5 1666.3,1026.3 C1666.7,1030.0 1667.2,1034.1 1667.0,1037.6 C1666.8,1041.0 1666.8,1044.2 1665.0,1047.0 C1663.3,1049.8 1659.6,1052.3 1656.5,1054.5 C1653.4,1056.7 1648.3,1058.3 1646.6,1060.2 C1644.8,1062.1 1645.9,1061.3 1645.8,1065.9 C1645.7,1070.4 1651.6,1083.7 1645.8,1087.3 C1640.0,1090.9 1616.6,1090.9 1610.8,1087.3 C1605.0,1083.7 1611.2,1070.4 1610.8,1065.9 C1610.4,1061.3 1611.3,1062.1 1608.6,1060.2 C1605.8,1058.3 1599.1,1056.7 1594.5,1054.5 C1589.9,1052.3 1584.5,1049.8 1581.0,1047.0 C1577.6,1044.2 1575.3,1041.0 1574.0,1037.6 C1572.7,1034.1 1572.8,1030.0 1573.3,1026.3 C1573.8,1022.5 1575.1,1018.7 1576.9,1015.0 C1578.7,1011.2 1582.3,1007.1 1584.0,1003.7 C1585.8,1000.2 1586.5,998.4 1587.4,994.2 C1588.4,990.0 1588.8,983.8 1589.5,978.5 C1590.2,973.3 1590.9,968.1 1591.7,962.8 C1592.4,957.6 1593.1,952.6 1593.8,947.1 C1594.5,941.6 1595.2,935.6 1595.9,929.8 C1596.6,924.1 1597.3,918.3 1598.0,912.6 C1598.7,906.8 1598.7,901.7 1600.1,895.3 C1601.5,888.9 1604.3,881.2 1606.5,874.1 C1608.6,867.0 1610.7,859.3 1612.8,852.9 C1614.9,846.5 1616.9,841.3 1618.9,835.5 C1620.9,829.7 1623.4,821.9 1625.0,818.0 C1626.6,814.2 1627.0,813.9 1628.3,812.4 C1629.5,810.8 1630.4,809.7 1632.6,808.6 C1634.8,807.5 1638.6,805.8 1641.4,805.8 Z" fill="none" stroke="#a6a6a6" stroke-width="5" stroke-opacity="0.75"/>
</g>
<g clip-path="url(#tc15)">
<rect x="1643.0" y="803.8" width="180" height="276.2" fill="#858585"/>
<path d="M1647.2,960.7 Q1717.2,948.7 1787.2,954.7 L1787.2,1081.0 L1647.2,1081.0 Z" fill="#656565"/>
<path d="M1647.2,960.7 Q1717.2,948.7 1787.2,954.7" fill="none" stroke="#585858" stroke-opacity="0.55" stroke-width="14" transform="translate(0,9)"/>
<ellipse cx="1708.6" cy="1038.5" rx="49" ry="28.3" fill="#777777"/>
<rect x="1699.9" y="1060.2" width="40" height="20.8" fill="#808080"/>
<path d="M1647.2,960.7 Q1717.2,948.7 1787.2,954.7" fill="none" stroke="#a8a8a8" stroke-width="3"/>
<path d="M1733.0,805.8 C1735.8,805.8 1739.2,807.5 1741.2,808.6 C1743.2,809.7 1743.9,810.8 1744.8,812.4 C1745.8,813.9 1746.1,814.2 1746.9,818.0 C1747.7,821.9 1748.6,829.7 1749.5,835.5 C1750.3,841.3 1751.3,846.5 1752.0,852.9 C1752.8,859.3 1753.4,867.0 1754.0,874.1 C1754.7,881.2 1755.9,888.9 1756.0,895.3 C1756.1,901.7 1755.1,906.8 1754.6,912.6 C1754.2,918.3 1753.7,924.1 1753.3,929.8 C1752.8,935.6 1752.3,941.6 1751.9,947.1 C1751.4,952.6 1751.1,957.6 1750.8,962.8 C1750.4,968.1 1750.0,973.3 1749.7,978.5 C1749.3,983.8 1748.5,990.0 1748.6,994.2 C1748.7,998.4 1749.0,1000.2 1750.1,1003.7 C1751.1,1007.1 1753.9,1011.2 1754.9,1015.0 C1755.9,1018.7 1755.8,1022.5 1756.2,1026.3 C1756.6,1030.0 1757.2,1034.1 1757.1,1037.6 C1757.1,1041.0 1757.3,1044.2 1755.7,1047.0 C1754.1,1049.8 1750.5,1052.3 1747.6,1054.5 C1744.7,1056.7 1739.7,1058.3 1738.0,1060.2 C1736.3,1062.1 1737.5,1061.3 1737.4,1065.9 C1737.3,1070.4 1743.2,1083.7 1737.4,1087.3 C1731.6,1090.9 1708.2,1090.9 1702.4,1087.3 C1696.6,1083.7 1702.8,1070.4 1702.4,1065.9 C1702.0,1061.3 1702.8,1062.1 1700.0,1060.2 C1697.2,1058.3 1690.3,1056.7 1685.6,1054.5 C1680.9,1052.3 1675.3,1049.8 1671.7,1047.0 C1668.1,1044.2 1665.6,1041.0 1664.1,1037.6 C1662.7,1034.1 1662.7,1030.0 1663.2,1026.3 C1663.7,1022.5 1665.1,1018.7 1666.9,1015.0 C1668.7,1011.2 1672.3,1007.1 1674.1,1003.7 C1675.9,1000.2 1676.6,998.4 1677.6,994.2 C1678.5,990.0 1679.1,983.8 1679.8,978.5 C1680.6,973.3 1681.3,968.1 1682.0,962.8 C1682.8,957.6 1683.5,952.6 1684.3,947.1 C1685.0,941.6 1685.8,935.6 1686.5,929.8 C1687.3,924.1 1688.0,918.3 1688.8,912.6 C1689.5,906.8 1689.6,901.7 1691.0,895.3 C1692.5,888.9 1695.4,881.2 1697.5,874.1 C1699.7,867.0 1701.9,859.3 1704.0,852.9 C1706.1,846.5 1708.2,841.3 1710.3,835.5 C1712.3,829.7 1714.9,821.9 1716.5,818.0 C1718.1,814.2 1718.5,813.9 1719.8,812.4 C1721.1,810.8 1722.0,809.7 1724.2,808.6 C1726.4,807.5 1730.2,805.8 1733.0,805.8 Z" fill="none" stroke="#a6a6a6" stroke-width="5" stroke-opacity="0.75"/>
</g>
<g clip-path="url(#tc16)">
<rect x="1734.6" y="800.8" width="180" height="279.2" fill="#9a9a9a"/>
<path d="M1734.5,935.7 Q1804.5,945.7 1874.5,973.7 L1874.5,1081.0 L1734.5,1081.0 Z" fill="#656565"/>
<path d="M1734.5,935.7 Q1804.5,945.7 1874.5,973.7" fill="none" stroke="#585858" stroke-opacity="0.55" stroke-width="14" transform="translate(0,9)"/>
<ellipse cx="1793.2" cy="1038.5" rx="49" ry="28.6" fill="#777777"/>
<rect x="1786.2" y="1060.5" width="40" height="20.5" fill="#808080"/>
<path d="M1734.5,935.7 Q1804.5,945.7 1874.5,973.7" fill="none" stroke="#a8a8a8" stroke-width="3"/>
<path d="M1824.6,802.8 C1827.4,802.8 1830.8,804.6 1832.7,805.7 C1834.6,806.8 1835.3,807.9 1836.2,809.5 C1837.1,811.1 1837.5,811.3 1838.1,815.2 C1838.8,819.1 1839.5,827.0 1840.2,832.9 C1840.8,838.8 1841.6,844.0 1842.2,850.5 C1842.8,857.1 1843.1,864.8 1843.6,872.0 C1844.0,879.2 1845.0,887.0 1844.9,893.5 C1844.8,900.0 1843.7,905.1 1843.0,911.0 C1842.4,916.8 1841.7,922.6 1841.1,928.5 C1840.5,934.3 1839.8,940.4 1839.2,946.0 C1838.6,951.5 1838.1,956.6 1837.6,961.9 C1837.1,967.2 1836.6,972.5 1836.1,977.8 C1835.5,983.1 1834.5,989.4 1834.5,993.7 C1834.4,997.9 1834.8,999.7 1835.7,1003.2 C1836.7,1006.7 1839.3,1010.9 1840.2,1014.7 C1841.1,1018.5 1840.8,1022.3 1841.1,1026.1 C1841.4,1029.9 1842.1,1034.1 1842.1,1037.6 C1842.0,1041.1 1842.5,1044.2 1841.0,1047.1 C1839.6,1050.0 1836.2,1052.5 1833.3,1054.7 C1830.5,1057.0 1825.8,1058.6 1824.2,1060.5 C1822.6,1062.4 1823.8,1061.7 1823.7,1066.2 C1823.6,1070.7 1829.5,1083.9 1823.7,1087.5 C1817.9,1091.0 1794.5,1091.0 1788.7,1087.5 C1782.9,1083.9 1789.1,1070.7 1788.7,1066.2 C1788.3,1061.7 1789.1,1062.4 1786.2,1060.5 C1783.3,1058.6 1776.2,1057.0 1771.3,1054.7 C1766.5,1052.5 1760.7,1050.0 1757.0,1047.1 C1753.3,1044.2 1750.5,1041.1 1749.1,1037.6 C1747.6,1034.1 1747.6,1029.9 1748.1,1026.1 C1748.7,1022.3 1750.2,1018.5 1752.2,1014.7 C1754.1,1010.9 1757.8,1006.7 1759.7,1003.2 C1761.6,999.7 1762.4,997.9 1763.5,993.7 C1764.6,989.4 1765.3,983.1 1766.2,977.8 C1767.1,972.5 1768.0,967.2 1768.9,961.9 C1769.8,956.6 1770.7,951.5 1771.6,946.0 C1772.5,940.4 1773.4,934.3 1774.4,928.5 C1775.3,922.6 1776.2,916.8 1777.2,911.0 C1778.1,905.1 1778.3,900.0 1779.9,893.5 C1781.6,887.0 1784.7,879.2 1787.1,872.0 C1789.4,864.8 1791.9,857.1 1794.2,850.5 C1796.5,844.0 1798.7,838.8 1801.0,832.9 C1803.2,827.0 1806.0,819.1 1807.7,815.2 C1809.4,811.3 1809.9,811.1 1811.2,809.5 C1812.5,807.9 1813.5,806.8 1815.7,805.7 C1817.9,804.6 1821.8,802.8 1824.6,802.8 Z" fill="none" stroke="#a6a6a6" stroke-width="5" stroke-opacity="0.75"/>
</g>
<g clip-path="url(#tc17)">
<rect x="1818.3" y="806.7" width="180" height="273.3" fill="#858585"/>
<path d="M1821.2,964.6 Q1891.2,955.6 1961.2,964.6 L1961.2,1081.0 L1821.2,1081.0 Z" fill="#656565"/>
<path d="M1821.2,964.6 Q1891.2,955.6 1961.2,964.6" fill="none" stroke="#585858" stroke-opacity="0.55" stroke-width="14" transform="translate(0,9)"/>
<ellipse cx="1883.0" cy="1038.5" rx="49" ry="27.9" fill="#777777"/>
<rect x="1877.8" y="1059.9" width="40" height="21.1" fill="#808080"/>
<path d="M1821.2,964.6 Q1891.2,955.6 1961.2,964.6" fill="none" stroke="#a8a8a8" stroke-width="3"/>
<path d="M1908.3,808.7 C1911.1,808.7 1914.5,810.4 1916.5,811.5 C1918.5,812.6 1919.1,813.7 1920.1,815.3 C1921.0,816.8 1921.4,817.0 1922.2,820.8 C1922.9,824.6 1923.8,832.3 1924.7,838.0 C1925.5,843.8 1926.4,848.9 1927.1,855.3 C1927.9,861.6 1928.4,869.2 1929.1,876.2 C1929.7,883.2 1930.9,890.8 1931.0,897.1 C1931.1,903.4 1930.0,908.5 1929.5,914.2 C1929.1,919.9 1928.6,925.5 1928.1,931.2 C1927.6,936.9 1927.1,942.9 1926.6,948.3 C1926.2,953.7 1925.9,958.6 1925.5,963.8 C1925.1,969.0 1924.7,974.1 1924.3,979.3 C1923.9,984.5 1923.1,990.7 1923.2,994.8 C1923.2,998.9 1923.6,1000.7 1924.6,1004.1 C1925.7,1007.5 1928.4,1011.5 1929.4,1015.3 C1930.4,1019.0 1930.2,1022.7 1930.7,1026.4 C1931.1,1030.2 1932.0,1034.2 1932.2,1037.6 C1932.4,1041.0 1933.1,1044.1 1931.9,1046.9 C1930.6,1049.7 1927.3,1052.2 1924.6,1054.3 C1921.9,1056.5 1917.3,1058.1 1915.7,1059.9 C1914.2,1061.8 1915.4,1061.0 1915.3,1065.5 C1915.2,1070.0 1921.1,1083.6 1915.3,1087.2 C1909.5,1090.8 1886.1,1090.8 1880.3,1087.2 C1874.5,1083.6 1880.7,1070.0 1880.3,1065.5 C1879.9,1061.0 1880.7,1061.8 1877.7,1059.9 C1874.8,1058.1 1867.6,1056.5 1862.6,1054.3 C1857.6,1052.2 1851.8,1049.7 1847.9,1046.9 C1844.0,1044.1 1840.9,1041.0 1839.2,1037.6 C1837.5,1034.2 1837.3,1030.2 1837.7,1026.4 C1838.0,1022.7 1839.6,1019.0 1841.4,1015.3 C1843.2,1011.5 1846.9,1007.5 1848.6,1004.1 C1850.4,1000.7 1851.2,998.9 1852.2,994.8 C1853.1,990.7 1853.7,984.5 1854.5,979.3 C1855.2,974.1 1856.0,969.0 1856.7,963.8 C1857.5,958.6 1858.3,953.7 1859.0,948.3 C1859.8,942.9 1860.6,936.9 1861.4,931.2 C1862.1,925.5 1862.9,919.9 1863.7,914.2 C1864.5,908.5 1864.5,903.4 1866.0,897.1 C1867.5,890.8 1870.4,883.2 1872.6,876.2 C1874.8,869.2 1877.0,861.6 1879.1,855.3 C1881.3,848.9 1883.3,843.8 1885.5,838.0 C1887.6,832.3 1890.2,824.6 1891.8,820.8 C1893.4,817.0 1893.8,816.8 1895.1,815.3 C1896.4,813.7 1897.3,812.6 1899.5,811.5 C1901.7,810.4 1905.5,808.7 1908.3,808.7 Z" fill="none" stroke="#a6a6a6" stroke-width="5" stroke-opacity="0.75"/>
</g>
</g>
</g>
<rect x="330.3" y="2262.0" width="80.2" height="250.7" fill="#000000" stroke="#000" stroke-opacity="0.82" stroke-width="3"/>
<rect x="429.8" y="2455.0" width="70.5" height="57.7" fill="#00ff00" stroke="#000" stroke-opacity="0.82" stroke-width="3"/>
<rect x="519.6" y="1347.5" width="70.5" height="1165.2" fill="#ff0000" stroke="#000" stroke-opacity="0.82" stroke-width="3"/>
<rect x="609.4" y="2162.5" width="70.5" height="350.2" fill="#0000ff" stroke="#000" stroke-opacity="0.82" stroke-width="3"/>
<rect x="699.2" y="2147.5" width="70.5" height="365.2" fill="#00ffff" stroke="#000" stroke-opacity="0.82" stroke-width="3"/>
<rect x="789.0" y="2229.0" width="70.5" height="283.7" fill="#ff00ff" stroke="#000" stroke-opacity="0.82" stroke-width="3"/>
<rect x="878.8" y="2187.0" width="70.5" height="325.7" fill="#ffff00" stroke="#000" stroke-opacity="0.82" stroke-width="3"/>
<rect x="968.6" y="2262.4" width="70.5" height="250.3" fill="#808000" stroke="#000" stroke-opacity="0.82" stroke-width="3"/>
<rect x="1058.4" y="2239.2" width="70.5" height="273.5" fill="#000080" stroke="#000" stroke-opacity="0.82" stroke-width="3"/>
<rect x="1148.2" y="2332.2" width="70.5" height="180.5" fill="#800080" stroke="#000" stroke-opacity="0.82" stroke-width="3"/>
<rect x="1238.0" y="2272.4" width="70.5" height="240.3" fill="#800000" stroke="#000" stroke-opacity="0.82" stroke-width="3"/>
<rect x="1327.8" y="2196.5" width="70.5" height="316.2" fill="#008000" stroke="#000" stroke-opacity="0.82" stroke-width="3"/>
<rect x="1417.6" y="2168.3" width="70.5" height="344.4" fill="#008080" stroke="#000" stroke-opacity="0.82" stroke-width="3"/>
<rect x="1507.4" y="2275.5" width="70.5" height="237.2" fill="#ff8000" stroke="#000" stroke-opacity="0.82" stroke-width="3"/>
<rect x="1597.2" y="2289.8" width="70.5" height="222.9" fill="#8000ff" stroke="#000" stroke-opacity="0.82" stroke-width="3"/>
<rect x="1687.0" y="2095.7" width="70.5" height="417.0" fill="#ff0080" stroke="#000" stroke-opacity="0.82" stroke-width="3"/>
<rect x="1776.8" y="2067.7" width="70.5" height="445.0" fill="#808080" stroke="#000" stroke-opacity="0.82" stroke-width="3"/>
<rect x="1866.6" y="2095.2" width="80.1" height="417.5" fill="#404040" stroke="#000" stroke-opacity="0.82" stroke-width="3"/>
<path d="M375.2,2183.0 V2330.0 M361.2,2183.0 H389.2 M361.2,2330.0 H389.2" stroke="#000" stroke-opacity="0.62" stroke-width="3.5" fill="none"/>
<path d="M465.0,2430.5 V2480.0 M451.0,2430.5 H479.0 M451.0,2480.0 H479.0" stroke="#000" stroke-opacity="0.62" stroke-width="3.5" fill="none"/>
<path d="M554.8,1286.5 V1409.0 M540.8,1286.5 H568.8 M540.8,1409.0 H568.8" stroke="#000" stroke-opacity="0.62" stroke-width="3.5" fill="none"/>
<path d="M644.6,2094.5 V2231.0 M630.6,2094.5 H658.6 M630.6,2231.0 H658.6" stroke="#000" stroke-opacity="0.62" stroke-width="3.5" fill="none"/>
<path d="M734.4,2075.5 V2220.5 M720.4,2075.5 H748.4 M720.4,2220.5 H748.4" stroke="#000" stroke-opacity="0.62" stroke-width="3.5" fill="none"/>
<path d="M824.2,2135.0 V2324.6 M810.2,2135.0 H838.2 M810.2,2324.6 H838.2" stroke="#000" stroke-opacity="0.62" stroke-width="3.5" fill="none"/>
<path d="M914.0,2137.0 V2236.0 M900.0,2137.0 H928.0 M900.0,2236.0 H928.0" stroke="#000" stroke-opacity="0.62" stroke-width="3.5" fill="none"/>
<path d="M1003.8,2230.0 V2294.5 M989.8,2230.0 H1017.8 M989.8,2294.5 H1017.8" stroke="#000" stroke-opacity="0.62" stroke-width="3.5" fill="none"/>
<path d="M1093.6,2213.3 V2265.2 M1079.6,2213.3 H1107.6 M1079.6,2265.2 H1107.6" stroke="#000" stroke-opacity="0.62" stroke-width="3.5" fill="none"/>
<path d="M1183.4,2300.7 V2361.2 M1169.4,2300.7 H1197.4 M1169.4,2361.2 H1197.4" stroke="#000" stroke-opacity="0.62" stroke-width="3.5" fill="none"/>
<path d="M1273.2,2255.4 V2287.7 M1259.2,2255.4 H1287.2 M1259.2,2287.7 H1287.2" stroke="#000" stroke-opacity="0.62" stroke-width="3.5" fill="none"/>
<path d="M1363.0,2146.4 V2246.7 M1349.0,2146.4 H1377.0 M1349.0,2246.7 H1377.0" stroke="#000" stroke-opacity="0.62" stroke-width="3.5" fill="none"/>
<path d="M1452.8,2156.0 V2180.1 M1438.8,2156.0 H1466.8 M1438.8,2180.1 H1466.8" stroke="#000" stroke-opacity="0.62" stroke-width="3.5" fill="none"/>
<path d="M1542.6,2245.3 V2305.2 M1528.6,2245.3 H1556.6 M1528.6,2305.2 H1556.6" stroke="#000" stroke-opacity="0.62" stroke-width="3.5" fill="none"/>
<path d="M1632.4,2273.8 V2303.7 M1618.4,2273.8 H1646.4 M1618.4,2303.7 H1646.4" stroke="#000" stroke-opacity="0.62" stroke-width="3.5" fill="none"/>
<path d="M1722.2,2067.7 V2123.2 M1708.2,2067.7 H1736.2 M1708.2,2123.2 H1736.2" stroke="#000" stroke-opacity="0.62" stroke-width="3.5" fill="none"/>
<path d="M1812.0,2039.2 V2095.2 M1798.0,2039.2 H1826.0 M1798.0,2095.2 H1826.0" stroke="#000" stroke-opacity="0.62" stroke-width="3.5" fill="none"/>
<path d="M1901.8,2066.6 V2120.9 M1887.8,2066.6 H1915.8 M1887.8,2120.9 H1915.8" stroke="#000" stroke-opacity="0.62" stroke-width="3.5" fill="none"/>
<rect x="330.3" y="1175.4" width="1616.4" height="1337.3" fill="none" stroke="#000" stroke-width="12.5" stroke-linejoin="miter"/>
<path d="M300.3,1175.4 H330.3 M313.3,1306.4 H330.3 M300.3,1437.5 H330.3 M313.3,1568.5 H330.3 M300.3,1699.6 H330.3 M313.3,1830.6 H330.3 M300.3,1961.6 H330.3 M313.3,2092.7 H330.3 M300.3,2223.7 H330.3 M313.3,2354.8 H330.3 M300.3,2485.8 H330.3 M375.2,2512.7 V2537.7 M465.0,2512.7 V2537.7 M554.8,2512.7 V2537.7 M644.6,2512.7 V2537.7 M734.4,2512.7 V2537.7 M824.2,2512.7 V2537.7 M914.0,2512.7 V2537.7 M1003.8,2512.7 V2537.7 M1093.6,2512.7 V2537.7 M1183.4,2512.7 V2537.7 M1273.2,2512.7 V2537.7 M1363.0,2512.7 V2537.7 M1452.8,2512.7 V2537.7 M1542.6,2512.7 V2537.7 M1632.4,2512.7 V2537.7 M1722.2,2512.7 V2537.7 M1812.0,2512.7 V2537.7 M1901.8,2512.7 V2537.7 M330.3,2512.7 V2524.7 M420.1,2512.7 V2524.7 M509.9,2512.7 V2524.7 M599.7,2512.7 V2524.7 M689.5,2512.7 V2524.7 M779.3,2512.7 V2524.7 M869.1,2512.7 V2524.7 M958.9,2512.7 V2524.7 M1048.7,2512.7 V2524.7 M1138.5,2512.7 V2524.7 M1228.3,2512.7 V2524.7 M1318.1,2512.7 V2524.7 M1407.9,2512.7 V2524.7 M1497.7,2512.7 V2524.7 M1587.5,2512.7 V2524.7 M1677.3,2512.7 V2524.7 M1767.1,2512.7 V2524.7 M1856.9,2512.7 V2524.7 M1946.7,2512.7 V2524.7" stroke="#000" stroke-width="11" stroke-linecap="round" fill="none"/>
<text transform="translate(288.5,1202.1) scale(0.955,1)" text-anchor="end" class="tl">0.8</text>
<text transform="translate(288.5,1464.2) scale(0.955,1)" text-anchor="end" class="tl">0.7</text>
<text transform="translate(288.5,1726.3) scale(0.955,1)" text-anchor="end" class="tl">0.6</text>
<text transform="translate(288.5,1988.3) scale(0.955,1)" text-anchor="end" class="tl">0.5</text>
<text transform="translate(288.5,2250.4) scale(0.955,1)" text-anchor="end" class="tl">0.4</text>
<text transform="translate(288.5,2512.5) scale(0.955,1)" text-anchor="end" class="tl">0.3</text>
<text transform="translate(118.5,1972) rotate(-90) scale(0.955,1)" class="yl">G / B</text>
<text transform="translate(423.2,2604.7) rotate(-45) scale(0.96,1)" text-anchor="end" class="xl">Blank</text>
<text transform="translate(513.0,2604.7) rotate(-45) scale(0.96,1)" text-anchor="end" class="xl">Ag<tspan dy="-28" font-size="42">+</tspan></text>
<text transform="translate(602.8,2604.7) rotate(-45) scale(0.96,1)" text-anchor="end" class="xl">Al<tspan dy="-28" font-size="42">3+</tspan></text>
<text transform="translate(692.6,2604.7) rotate(-45) scale(0.96,1)" text-anchor="end" class="xl">Ca<tspan dy="-28" font-size="42">2+</tspan></text>
<text transform="translate(782.4,2604.7) rotate(-45) scale(0.96,1)" text-anchor="end" class="xl">Cd<tspan dy="-28" font-size="42">2+</tspan></text>
<text transform="translate(872.2,2604.7) rotate(-45) scale(0.96,1)" text-anchor="end" class="xl">Co<tspan dy="-28" font-size="42">2+</tspan></text>
<text transform="translate(962.0,2604.7) rotate(-45) scale(0.96,1)" text-anchor="end" class="xl">Cr<tspan dy="-28" font-size="42">3+</tspan></text>
<text transform="translate(1051.8,2604.7) rotate(-45) scale(0.96,1)" text-anchor="end" class="xl">Cu<tspan dy="-28" font-size="42">2+</tspan></text>
<text transform="translate(1141.6,2604.7) rotate(-45) scale(0.96,1)" text-anchor="end" class="xl">Fe<tspan dy="-28" font-size="42">2+</tspan></text>
<text transform="translate(1231.4,2604.7) rotate(-45) scale(0.96,1)" text-anchor="end" class="xl">Fe<tspan dy="-28" font-size="42">3+</tspan></text>
<text transform="translate(1321.2,2604.7) rotate(-45) scale(0.96,1)" text-anchor="end" class="xl">Hg<tspan dy="-28" font-size="42">2+</tspan></text>
<text transform="translate(1411.0,2604.7) rotate(-45) scale(0.96,1)" text-anchor="end" class="xl">K<tspan dy="-28" font-size="42">+</tspan></text>
<text transform="translate(1500.8,2604.7) rotate(-45) scale(0.96,1)" text-anchor="end" class="xl">Mg<tspan dy="-28" font-size="42">2+</tspan></text>
<text transform="translate(1590.6,2604.7) rotate(-45) scale(0.96,1)" text-anchor="end" class="xl">Na<tspan dy="-28" font-size="42">+</tspan></text>
<text transform="translate(1680.4,2604.7) rotate(-45) scale(0.96,1)" text-anchor="end" class="xl">Ni<tspan dy="-28" font-size="42">2+</tspan></text>
<text transform="translate(1770.2,2604.7) rotate(-45) scale(0.96,1)" text-anchor="end" class="xl">Zn<tspan dy="-28" font-size="42">2+</tspan></text>
<text transform="translate(1860.0,2604.7) rotate(-45) scale(0.96,1)" text-anchor="end" class="xl">Pb<tspan dy="-28" font-size="42">2+</tspan></text>
<text transform="translate(1949.8,2604.7) rotate(-45) scale(0.96,1)" text-anchor="end" class="xl">As<tspan dy="-28" font-size="42">3+</tspan></text>
</svg>
</body></html>
